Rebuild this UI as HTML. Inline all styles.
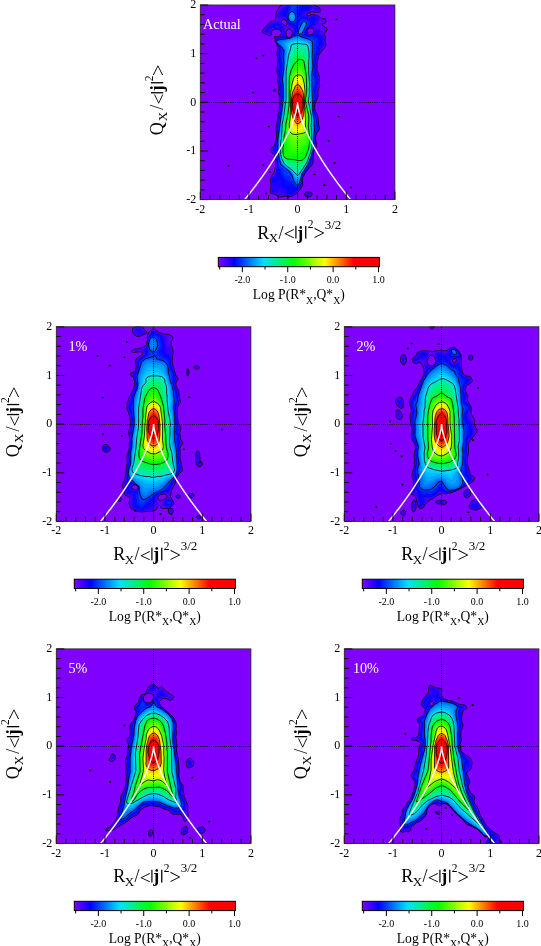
<!DOCTYPE html>
<html><head><meta charset="utf-8"><style>
html,body{margin:0;padding:0;background:#fff;}
svg{display:block;will-change:transform;}
text{font-family:"Liberation Serif", serif;fill:#000;}
.tl{font-size:12px;}
.pl{font-size:14.2px;fill:#fff;}
.al{font-size:18px;}
.sub{font-size:13px;}
.sup{font-size:11.5px;}
.sup2{font-size:13px;}
.sub3{font-size:9.8px;}
.sans{font-family:"Liberation Sans",sans-serif;}
.cl{font-size:10px;}
.ct{font-size:13.6px;}
</style></head><body>
<svg width="541" height="946" viewBox="0 0 541 946">
<defs><linearGradient id="cmap" x1="0" x2="1" y1="0" y2="0">
<stop offset="0" stop-color="#8000ff"/><stop offset="0.10" stop-color="#0000ff"/><stop offset="0.28" stop-color="#00e0ff"/>
<stop offset="0.47" stop-color="#00ff00"/><stop offset="0.66" stop-color="#ffff00"/><stop offset="0.84" stop-color="#ff0000"/><stop offset="1" stop-color="#ff0000"/>
</linearGradient></defs>
<clipPath id="c0"><rect x="200.3" y="5.0" width="194.6" height="194.6"/></clipPath>
<rect x="200.3" y="5.0" width="194.6" height="194.6" fill="#8000ff"/>
<g clip-path="url(#c0)">
<defs><path id="p0_0" d="M281 197l3.8-1 3.7 .8 5.4-1.3 4.5-3.8 3.9-5.4 .5-1.6-.4-5.3 .3-1.6 2.1-4.3 3.5-4.6 3.6-3.5 1.1-2.1 .6-11.2 2.3-4.8 .7-2.7-1.1-4.8 .1-3.8 .9-2.7 3.2-4.2-1.1-4.9-.8-9.1-2-2.5-1.3-4.9 .2-2.7 1-3.2 1.5-2.7 .9-3.2-.2-5.4 2-4.8-.8-2.1 .5-5.4-.7-3.2-1.9-4.3 .1-7.5 1.5-8 7.2-9.1 .1-2.1-.9-3.2 .6-3.3-1.5-4.2 2.5-2.2 .5-1.6-1.1-2.1-3.2-1.3-.8-1.9 .2-.7 2.2 .2 1.3-1.7 .4-1.6-.8-1.6-3.6-.5-3.2-2.3-5.4-1.7-2.1 .2-2.2 1.4-1.6-.2-.3-.6 0-1.1 .9-.9 3.2-.5 1-1.5 1.7 1.1 3.2 .2 1.6-.2 2.1-.9 .1-.5-1.1-2.7-1.7-1.7-4.2-1-3.3-4.2-1.6-4-2-1.9-16.4 0-4 6.4-1.6 1.5-3.8 1.8-3.7 5.1-1.5 4.4 .1 4.9-1.3 1-2.7 .8-2 1.4-4.4 4-3.3 4.5 .6 1.7 5.9 2.9 2.9-.8-.6-3.2 1.4-1.5 2.2-.7 2.7-.4 2.1 .7 1.5 1.3 .5 1.6-.3 1.6-1.7 2-2.1 .5-2.9-.3-.2 .5 1.1 2.7-.4 1.6 2.1 3.2 1.1 3.2-1.3 5.4 1.2 6.4-1.2 11.8 1.4 4.8-1 4.3 1.7 5.3 .1 3.2-.8 3.2 1.6 4.3 .1 5.9-.7 9.1-1.3 3.7 0 3.3-2.1 9.6 .7 5.9 0 4.3-2.2 8-2.9 2-.9 1.7 1.3 2.7 2.5 1.6 1.7 6.4-.8 7-1.2 5.3-2.6 3-.7 2.4-.3 2.7 .7 4.8-.9 4.3 .5 2.6 .7 .9 3.7 .7 3.8 2.5zM288.3 37.5l-1.1-.5-.7-1.1-.5-3.2 1.1-3.2 1.4-.6 2.7 .9 .8 1.3 .3 1.6-.9 3.8-1.3 .9zM309.9 34.9l-2-1.1-.7-1.5 0-1.7 1.6-2.5 3.2-.2 1.9 1.6-.2 3-1.1 1.7zM284.1 25.2l-2-1.6-.8-1.6 .6-1.6 1.3-1 2.6 .6 1.4 2.6-.9 2.6-1 .4zM307.8 197.1l3.2-.6 1.4-2.2-1.1-1.6-1.9-1-2.7 .1-2.6 2 1.1 2.2zM274.6 91.4l1.5-.9-1-1.2-1 .1-.6 .6 0 .6z"/><path id="p0_1" d="M281 196.5l3.8-1.2 3.7 1.2 4.9-1.1 4.7-4 3.7-5.1 .6-3.7-.1-4.3 .8-2.1 1.5-2.9 6.9-7.9 1.2-2.1 .7-11.2 2.9-7.5-1-4.8 .2-4.3 .7-2.2 3-3.7 .3-1.1-1.3-4.3-.6-8.5-1.8-2.4-1.5-5.6 .2-2.7 2.6-6.4 .6-2.7-.5-5.4 2.1-4.8-.7-2.1 .5-5.4-.6-3.2-1.9-4.8 .2-7 1.5-8 6.7-8.6 .5-2.6-.9-3.2 .6-2.2-.1-1.6-1.8-3.2-.5-3.1-1.6-1.7-.4-3.2-1.8-2.6-.2-1.2 .7-1 1.6-1.1 1.1 .6 1.6 2.1 .6 0 1.1-1.1 .1-1.1-.7-1.2-3.2-.3-3.7-2.8-4.3-1.3-2.2 .1-2.1 1.5-2.2-.3-.6-.5-.4-1.1 .6-1 1-1 2.1-.1 1.1-.5 .8-2.2 .8-.7 1 2.3 2.7 .7 2.2-.1 1.5-1.1 0-.5-.7-2.2-1.4-1.3-4.2-.7-3.5-4.4-1.9-4.8-2.6-1.6-14.5 0-.8 3.2-2.4 3.2-3.2 3.1-3.3 .8-1.2 3-2.3 1.7-.7 1-.8 3.2 .9 4.3-.4 1.1-2.9 1.6-3.8 1.2-4.5 4.1-2.9 4.9 1.5 1.5 2.7 1.1 2.7 .3 .5-.8 0-2.1 1.1-1.5 1.6-.7 4.3-.6 2.8 1.2 1.1 1 .5 1.6-.5 2.2-1.3 1.4-2.1 .7-3.2 0 .8 2.7-.4 1.6 3 4.8 .3 1.6-1.2 5.9 1.1 5.9-1.1 11.8 1.4 4.8-.9 4.3 1.6 5.3 .2 3.2-.8 3.2 1.4 4.3 .2 5.9-.9 9.6-3.3 16.1 .8 6.4-.2 3.8-2 8.2-2.7 2-.8 1.5 .8 1.7 2.7 2.4 1.7 6.6-.5 7.5-1.2 5.2-1.1 2-1.6 .9-.8 2.1-.3 2.7 .7 5.3-.9 3.8 .2 2.1 .7 1.1 4.2 .7 3.2 2.1zM287.7 37.5l-1.5-1.6-.6-2.6 .5-4.3 1.3-1.1 3.8 .6 1 .8 .5 1.3-.8 5.3-1.8 1.6zM309.2 34.9l-1.4-.9-.7-1.3 .1-2.6 1.6-2.3 3.2-.2 2.3 1.9-.5 3.2-1.2 1.7-1.6 .6zM284.7 26.3l-3.1-2.7-1-1.6 .3-1.6 1.7-1.6 3.2 .8 1.6 2.4-.5 4.3-1.1 .5zM307.2 196.6l1.6 .2 2.2-.7 1.1-2.3-1.1-1.1-1.6-.8-2.2 0-1.6 .7-1.2 1.2 0 .5 1.2 1.7zM274.1 90.7l1 .2 .5-.9-1.2-.5-.7 .5zM324.4 31.2l1 0 1.1-1.1-.2-1.1-.9-.7-2.1 .1-.5 .6-.1 .5 1.1 .5z"/><path id="p0_2" d="M308.3 196.5l2.7-.9 .6-1.8-2.2-1.5-2.2 0-1.7 1-.5 1 1.2 1.6zM288 196l5.7-1.1 5.5-5.3 2.4-3.8 .5-7.5 2-4.8 6.8-8.1 1.3-2.1 1.1-11.2 2.7-7.5-1-4.8 .2-4.3 .6-2.2 3-3.7 .4-1.1-1.2-3.7-.8-9.1-1.6-2.2-1.6-5.8 .2-2.7 2.7-7 .4-2.7-.8-4.2 1.6-4.9-.1-2.6 .8-4.3-.7-4.3-1.8-4.8 .1-7 1.6-8 4.1-6.4 2.7-2.7 .2-2.7-1-2.6 .7-3.3-1.9-3.2-2.2-1.3-.5-2.9-1.6-2.4-3.8 2.6-.7 2.4-1.4 1.9-3.2 .5-2-1.3-.5-3.2 1-2.2 1.5-.9 4.3 0 .5-.3 3.2-2.9 .2-2.8 2.6-2.7-2.1-2.1-4.4-1.5-1.1 0-1.6 1.1-2.2 .6-2.1-.5-1.4-1.3 0-1.1 1.9-1.9 3.2-.5 1-2.4 1.8-2.2-1.7-3.2-1.9-2.1-1.3-4.3-1.6-1.3-2.1-.6-3.3 .6-2.1 1.3-.7-.5-.2-1.6-3.8 0-.4 1-7.7 8.7-3.5 2-1.9 3.3-2.7 1-.7 1.1-.3 2.1 1.6 4.3 3.7-.9 3.2 1.1 2 3 .7 4.6 4.5 1.8 .3 3.8-1.3 3.7-.8 1.2-1.1 .5-1.6 .1-1.8-.7-.8-1.1-1-3.2 0-4.8-2.8-3.2-4.3-3.7-7.5 2.6-3.9 3.2-2.5 4.9 .8 1 2.9 1 1-.4 1.5-2.7 1.3-1.3 1-.4 4.9-.2 3.1 1.4 1.1 1 .6 1.6-.5 2.2-1.7 1.9-4.9 .7 .6 2.2-.5 1.6 3.1 4.8 .4 1.6-1.2 5.9 1.1 5.9-.5 4.3 .3 3.7-.8 4.3 1.3 4.3-.8 4.3 1.5 5.3 .2 3.2-.6 3.2 1.2 4.3 .2 5.4-.9 10.1-3.2 16.1 .7 6.4-.3 3.8-2 8.5-2.5 2.2-.4 1 2.9 3.8 1.9 6.9-.4 7.5-1.2 5.4-1 2.3-1.9 .9-.8 2.1-.3 2.2 1 5.3-1.1 3.8 .4 2.5 1 .8 3.8-.1 2.1 .9 1.4 1.2 1.3 .3 3.8-1.3zM274.6 90.6l.5-.7-1.1 .1zM316.3 11.4l1.6 .1 1.2-.7-.1-2.4-1.6-1.3-3.3-.1-.8 1.1 .4 2.1z"/><path id="p0_3" d="M287.4 195.1l1.1 .2 5.1-1 5.1-5 2.5-3.5 .7-3.8 0-3.7 .9-2.7 1.2-2.5 6.2-7.7 1.5-2.6 1.4-10.7 2.5-7.5-.8-4.8 .2-4.9 .6-2.1 3.2-4.3-1.1-3.7-.9-8.6-1.5-2.7-1.6-5.8 .2-2.7 2.7-7 0-2.7-.8-4.2 1.4-4.3 .3-4.8 .8-2.7-.6-3.8-2-5.3 .2-7.5 1.6-7.5 3-4.3 .6-3.6 2.7-1.1 .6-.6 0-2.2-1.5-2.6 1.3-3.3-1.2-1.6-2.7-1-1.2-1.1 0-3.2-.6-.8-3.8 1.8-1.3 2.7-1.9 1-2.1 0-1.6-.6-.7-.9-.3-3.2 .8-2.2 1.2-1 2.8-.6 4-3.2 .8-2.6 2.4-2.2 0-.5-.9-1.1-4.2-1.6-1.1 .2-1.6 1.3-2.2 .6-6.4-2.2-.1-1.5 .7-1 3.2-1.8 3.3-.4 2.8-4.3-1.3-2.4-2-1.9-.1-2.6-.6-1.7-1.1-1.2-1.6-.6-3.3 .8-2 3.1-1.1 0-3.7-1.4-2.7 .7-3.8 3.6-2.6 3.5-2.3 1.7-2 3.5-3.4 1.3 0 1.6 1.2 1.6 4.9 1.4 1.6 1.4 1.8 3.1 .4 2.2 1 1.7 4.3 1.7 .4 1.4-.1 2.7-2.3 4.8-1.3 1.1-3.6-.1-1.7-1.6-1.6-2.9-3.2 4-4.8 1 .1 1.7-.6 1.6 2.9 4.3 .8 2.1-.1 2.7-1 3.2 .9 3.7-.2 5.9 .8 3.8-1.4 4.8 1.4 4.3-.9 4.3 .5 3 1 2.3-.3 6.4 1.1 4.8 .2 4.9-.9 5.3-.2 5.4-3.1 15.7 .7 7.8-2.3 10.7-2.2 3.2 1.2 1.2 1.7 4.2 1.2 5.3-.1 6.5-1.1 6.9-1.2 2.2-2.2 1.1-.6 1.5-.2 2.7 1.5 4.8-1.7 4.3 .5 2 1.1 .4 2.7-1.5 1.7 .2 .4-2.7 1.1-.8 1.6 0 1.6 1.5 .5 2.5 2.2 .7zM307.2 194.9l1.1 .3 1.8-.9-.7-.7-1.6-.2-1.3 .9zM266 32.2l1.6-.1 3.2-3.5 1.6-.6 2.7 .8 2.2-.2 2.1 .6 3.8 2.8 .4-.9-.3-3.2-2.3-3.4-3.7-2.3-1.6 .1-8.3 4.5-2.4 4.3 0 .6zM316.9 10.4l1.2-.1 .2-1.1-.4-.7-2.6-.2-1 .3 1 1.4z"/><path id="p0_4" d="M288 194.4l5-.6 1.8-2.7 3.3-2.3 2.7-3.2 1-7.8 .7-2.2 1.3-2.7 4.2-5.3 3-5.4 1.9-10.1 2.4-7.5-.8-4.8 .5-6.5 3.4-4.8-1.1-3.7-1-8.6-1.4-2.7-1.5-5.8 .2-2.7 2.5-7-1-7.5 1.4-4.3 .3-4.2 .8-2.7-2.5-8.6 .1-8.5 1.6-7 2.9-4.3-.7-3.2 .2-1.1 .9-1.3 2.3-1.9-1-3.2 1.3-2.1-.5-.8-3.7-2.4-2.7-1.1-1.1 .1-1.6 1.1-2.1 .6-3.2-.4-1.4-.9 .2-4.2 .7-1.7 1.5-1.2 2.2-.9 3.3-3.2 1-3.7 .9-1.1-2.5-2-2.7 1.9-1.6 .4-8.1-1.9-.6-3.2 1.2-2.6 1.1-.5 5.8-.9 1.6-1.6 .6-1.4-.2-1.1-2.6-2.6 .2-3.2-.5-1.7-1.2-1-1.1-.3-2.4 .8-1.3 3.4-1.1 .8-5.3-1.6-1.6 .1-1.7 .9-3.2 2.9-3 4.7-.8 2.2-2.9 3.2 .5 1.1 3 1.9 4.3 7.8 4.8 2.1 .4 2.1-.5 3.7-2.7 3.8-1.5 1.2-3.7 0-3.2-2.3-3.2 2.2-4.3 1-.9 2.7 4 6.4 0 2.7-1.1 3.2 1.1 3.7-.1 5.4 1 4.8-1.7 4.3 1.6 4.8-1.1 3.2 0 2.2 1.4 3.7-.3 6.4 1.1 4.8 .1 4.3-.9 5.9-.2 5.4-2 9.1-1 6.9 .5 7.5-2.2 10.7-1 2.7 2.7 10.7 .1 13.4-1.6 3-3.3 1.8-.5 2.7 .5 1.3 1.7 .9 1.6-2.4 2.1-.4 1.6-1.3 1.5 .3 .5 1.6-.9 3.2 .2 1.6 1.9 1.5 2.7 .5 .8 .7 .5 4.2zM272.4 192.3l1-.6 .1-2.2-.5-.4-1.1 1zM280.5 29.5l.7 0 .6-2.7-.4-1-1.3-1.1-3.9-1.6-1.4 .5-1.7 1.6 0 1.6 2 1.6 2.7 .1z"/><path id="p0_5" d="M290.1 192.9l2-.2 .2-1-.6-.8-1.1-.5-1 .3-.5 1.5zM294.4 188l1.6 .3 1.6-.3 2.7-2.7 1.9-9.7 1.3-2.8 4-5.2 2.7-5.4 4.9-18.2-.9-4.2 .5-7.1 3.2-4.2-1.1-3.7-.4-6.4-2.9-8.1-.4-3.2 .3-2.7 2-6.4-1.1-7.5 1.5-4.7 .9-6.5-2-4.3-.3-13.9 1.5-6.4 2.5-3.8-1-3.7 2.5-5.4-.6-3.7-1.4-1.9-5.3-.4-5.9 .4-1.6-.9-.3-1 1.4-2.6 .6-3.3 3.1-2.3 3.1-3.5 .1-3.2-.5-.3-3.2 .7-4.3-1.6-4.8-.2-1.1-4.5 2.1-9.1-3.7-2.6-2.7-.6-2.7 .9-2.6 2.3-3.5 8.5-.1 1.6 1.5 4.3 2.6 4.3 2.7 1.7 3.2 .5 .2 .5 .2 2.6-.9 4.9-4.9 4.5-3.2 .2-4.2-1.1-2.7 1.3-3.8 1-1.2 2.1 4.2 5.9 .7 2.7-1.6 3.7 1.3 3.7 .2 5.4 .9 4.8-1.6 4.3 1.2 4.8-1.2 5.4 1.6 3.2-.3 7.5 1 6.4-1.1 8-.2 5.4-1.9 9.1-1 6.9 .2 7.5-2.4 12.3 .2 3.2 1.7 6.5 .2 6.4 1.5 7.5 1.7 2.6 .3 2.2 2.8 4.8 .6 2.7 .8 .5 2.7 .4 2.1 1.9zM273 181.1l1.7-1.2 .4-1.1-1-.4-1.1 .4-.4 1.6zM278.3 28.6l2-.2 .4-1.6-.4-1-3-1.5-2.2 .4-.8 1.1 .4 1.6 1 .7zM304.6 2.9l1.6 .2 1.3-3 .1-1.6-1-1.1-1.8 0-1.3 1.1-.1 3.2z"/><path id="p0_6" d="M296.5 186.9l1.6-.2 1.6-1.8 2.8-10.9 4.7-6.9 4-9.1 3.5-14-.8-4.2 .6-7.5 .8-2 1.7-2.3-.9-2.7-.2-6.4-2.8-8.4-.3-3.4 1.7-9.1-1-8 1.5-4.8 .5-5.4-2.1-4.8 .6-7.5-.5-5.9 .7-5.9 2.2-5.3-.3-3.8 2-5.8-.7-1.9-1.6-1-4.8-1.4-4.8 .6-2.2-1.2-.5-1 2.5-6.5 3.3-3.2 1.2-2.6 0-.6-3.8-2.3-2.7-.9-2.7 .4-1.3 1.2-2.1 5.4-1.3 7.5-.6 .9-3.2 1.8-2.2 1.9-8 0-5.9 1.8-1.1 1.6 1.7 2.6 3.1 3.3 1.4 3.2-1.5 3.7 2.1 14-.6 3.2-.3 5.8-.9 4.9 1.5 3.2-.2 8 .6 6.4-1.2 7-.3 6.6-1.6 7.3-1.1 8-.1 7.5-1.8 12.3 .3 3.8 1.4 5.9 .1 6.9 .6 2.2 6 11.4zM277.3 27.9l1.6 .1 .2-1.2-1.1-1-1.8-.2-.6 1.2zM293.3 23.2l1.1-.2 2.4-2.6 1.3-3.1-1.1-4.4 1.7-3.3 .1-4.2-1.2-2-2.1-.9-3.3 .9-2.1 1.8-2.7 10.4 .3 2.7 1.4 2.7 1.5 1.5zM305.1 .8l1.1-.4 .5-.8 0-.9-.5-.5-1.1 0-.7 .8 0 1.1z"/><path id="p0_7" d="M297.1 186.1l1-.1 1.4-1.8 2.9-10.7 5.2-8.1 3.3-7.4 3-11.3 .3-2.7-.5-4.2 .5-7.5 1.5-4.8-.6-2.2 .2-5.9-1.5-4.3-1.2-7.4 .9-8.6-.9-9.1 1.3-5.9 .1-3.7-.2-1.6-1.6-3.8 1.2-8-.5-4.8 0-8.1 1.1-3.7-.3-2.7 .6-2.7 .2-3.7-3-3-6.4-.7-1.4-.6-1.7-1.6 3.1-7 2.7-3.7-.1-2.1-.5-1.1-3.2-1.8-2.1 .5-1.1 1.3-.5 2.7-1.3 2.6-1.4 4.9 0 2.7-4.8 1.9-2.2 1.7-8 .6-5.9 1.5-.9 1.2 2 3 3.2 2.9 2.1 3.7-1.3 4.3 1.1 7 .4 6.4-1.4 12.8 .9 3.2 .1 15-1.2 7-.4 6.9-1.8 10.2-.7 9.1-1.4 10.7-.1 4.8 1.9 13.4-.2 3.2 .9 1.9 2.3 1.3 2 2.2-.4 2.6 .4 1.2 2.2 1.7 3.7 1 1.8 3.6 1.4 1.4 1.5 2.4zM291.2 22.2l2.7-.3 1.5-1.5 .9-2.1 0-2.7-2.5-5.3 .1-1.1 2.3-1.6 .6-1.1-.3-1.3-1-.6-2.2 .1-1.7 .7-.5 1.1 .2 2.7-2.6 4.3-.8 2.1 .4 3.2 1.3 2.3z"/><path id="p0_8" d="M297.1 185.4l1 0 1.2-1.8 2.8-10.1 5.5-8.6 3.6-8.5 2.4-9.1-.1-7.5 1.1-12.3-.4-1.7 .1-5.8-.6-1.9-1.3-9.4 .4-9.1-.4-1.6-.6-10.7 .2-5.9-.5-1 .5-2.2-.4-3.2 1.4-8-.9-10.7 .6-7-.2-7.5-2.6-2.3-4.8-1.4-7-2.7-4.8 .9-2.7 1.9-11.2 1.5-2.7 .9-.6 .7 1.7 2.6 3.3 2.7 2.5 3.3 .4 1-.9 5.4 .8 5.9-.1 6.4-1.3 10.7 .1 3.2 .6 2.1 .1 15-5.2 38.6-.4 9.6 .5 4.3 1.1 6.9 1.6 5.9 2.3 1.4 6 5 3 4.4 1.3 4.7 1.8 3.2zM299.7 34.6l1.6-.6 .8-.7 4.3-8.6 0-2.1-1.8-1.6-1.1 0-1.2 1-3.6 8.1-.5 3.2zM290.6 21.7l2.2 .2 1-.4 1.4-1.6 .7-2.2-.7-3.7-1.3-1.6-1.7-1-1.6 .6-1.5 1.5-.9 2.6 .1 2.2 1.1 2.1z"/><path id="p0_9" d="M297.6 184.9l1.2-1.3 1.5-3.7 1.5-6.4 5.5-8.6 3.2-6.9 1.5-5.2 1.4-6.1-.1-6.9 .8-12.3-.5-1.7 .2-5.3-1.6-11.8 .2-9.1-.5-1.6-.4-16-.5-1.6 .5-2.7-.1-3.2 1.2-7.5-.8-10.2 0-5.9 .5-1.6-.2-6.9-1.2-1.6-1.5-1-11.8-3.9-4.3 .8-2.7 1.7-10.7 2-2.9 1.4 4.4 4.3 2.4 3.2 .7 1.1 .3 2.1-.8 16.1-1.1 10.2 0 3.7 .6 1.6 0 15.5-4.3 33.7-.9 4.9-.3 9.1 .6 4.8 1.1 6.9 2.2 5.4 7.1 5.9 2.5 2.6 1.3 2.4 .3 2.5 1 2.6 1.9 3.2zM299.7 34l1.8-.7 3.8-7 .7-3.2-.4-.8-1-.6-1.1 .3-.9 1.1-3.5 7-.7 2.6zM291.2 21.6l1.6 0 1.1-.6 1-1.1 .7-2.2-.7-3.7-2.7-2.2-1.6 .5-1.1 1.2-1.1 2.6 0 1.6 .6 1.5 1.1 1.8z"/><path id="p0_10" d="M297.1 183.4l1-.3 .9-1.6 1.4-3.2 1.2-4.8 5.5-8.6 1.5-3.2 3.3-9.1 1.3-5.3 .5-19.8-.4-1.7 .1-5.3-1.5-12.3 .1-8.6-.5-1.6-.3-16-.5-1.6 1.5-14-.7-9.6 .4-7.5-.4-6.8-1.1-1.4-1.5-.9-11.3-3.7-4.3 .8-2.1 1.1-8 2.3-3.1 1.7 4.7 7.4 .4 2.7-.9 16.1-1.1 10.2 .5 5.3 0 15.5-2.8 20.4-1.4 13.3-1 4.9-.2 5.8 1.1 11.8 .6 3.2 1.5 3.8 .9 1.6 2.4 2.3 4 3 2.9 2.9 1.4 2.5 1.4 4.8zM299.2 33.3l1.1 .3 1-.8 3.6-6.5 .7-2.9-1-1.2-1.5 .9-3.4 6.3-1 2.8zM290.6 21l2.7 .1 1.2-1.2 .7-2.2 0-1.6-.7-2.1-2.3-1.7-1.6 .5-1 1.1-.8 2.2 .1 2.2z"/><path id="p0_11" d="M296.5 181l1.1 .4 2.3-3.1 1.4-4.8 5.5-8.6 3.2-6.9 1.5-4.9 1.5-6.4 .4-18.7-.4-2.2 .1-5.3-1.5-12.3-.6-25.7-.6-2.1 1.3-14-.6-22.4-.6-1.6-1.7-1.3-11.7-3.7-8.1 2.4-5.3 2.2-.9 .9 2.6 6.4 .3 2.7-1.1 17.1-1 9.1 .5 5.9 0 14.5-1.8 15.5-1.2 5.9-1.3 13.3-.9 4.9-.3 5.8 1 11.8 .7 3.2 1.5 3.8 3 3.5 4.2 3.2 3 2.9 1.5 2.7 .7 2.7zM299.7 33l1.1-.3 1.1-1.4 2.7-5.4 .6-2.3-.6-.8-1.1 .6-3.2 5.9-1.1 2.9zM291.2 20.7l2.1-.3 .8-1 .7-2.2-.9-3.2-1.7-1.1-1 .2-1.1 .9-.9 2.7 .4 1.7z"/><path id="p0_12" d="M296.5 179.5l1.1 .1 1.8-1.8 2.2-5.4 6.2-10 3.7-9.8 1.3-5.9-.1-13.9 .3-4.8-.3-2.2 .1-5.3-1.7-14.5-.4-23.5-.5-2.1 .9-14.5-.5-20.9-.8-2.1-2.6-1.7-10.1-2.7-7.7 2.3-4.1 2.1-.7 1.1 1.7 5.9-1.4 16 .1 3.2-1 9.1 .4 5.9 .1 14.5-1.9 15.5-1.2 5.9-2.5 24 1 11.8 .6 2.9 1.6 4 2.7 3.3 7.4 6.2 2.5 5zM300.8 31.1l2.3-4.8-2.3 4zM291.2 19.4l.5 .4 1.1-.3 1-2.3-.5-2.1-1.1-1.1-1.2 .5-.8 2.2z"/><path id="p0_13" d="M296.5 178l1.1 .1 1.6-1.3 1.7-3.9 6.7-10.7 3.6-9.6 1.3-5.3 .2-2.7-.5-11.8 .3-11.8-.5-6.4-1.4-8.6-.4-8 .2-15.5-.5-2.1 .3-3.3-.3-5.8 .7-12.3-.7-13.4-.9-2.2-2.3-1.4-9.6-2.3-7 1.9-2.9 1.8-.8 1.1 1 4.3-2.9 28.9 .4 20.9-2 15.5-1.2 6.4-2.4 23.5 1 11.8 1 4.3 1.5 3.2 2.5 2.7 6.9 5.7 3.3 5.3z"/><path id="p0_14" d="M296.5 176.8l1.1 .1 1.2-.7 7.4-11.8 3.2-7 1.6-4.8 1.3-5.3 .1-2.7-.6-11.8 0-7.5 .4-3.2-.4-7-2.2-13.9 .6-18.2-.5-2.1 0-7.5-.3-1.6 .6-12.8-.2-8.1-.7-5.3-.8-1.6-1.8-1.1-9.4-2-3.8 .7-2.7 1-2.4 2.4 .4 3.2-1.4 6.5-2.2 23 .3 21.4-3.7 25.1-.8 12.3-1 7.5 .5 10.2 .8 4.3 2.1 4.8 2.6 2.7 6.1 4.8z"/><path id="p0_15" d="M296.5 175.8l1.1 .2 1.1-.6 7.2-11 3.2-7 1.7-4.8 1.2-5.3 .2-2.7-.2-9.7-.5-2.1 .2-5.3-.4-1.7 .6-3.2-.3-7.5-2.8-13.9 1.2-15-.6-12.3-.4-2.6 .1-10.7 .4-2.2-.2-7.5-.9-5.3-.6-.9-1.6-.9-9.1-1.7-4.3 .9-2.7 1.7-.4 .9 .1 2.6-2 7-2 16.6-.1 27.3-2.2 16.6-1.6 8.5-.7 13.4-1 6.4 .3 10.2 .9 4.3 2.2 4.8 3.3 3.3 5 3.7z"/><path id="p0_16" d="M297.1 175.3l1-.1 1.1-1.1 6.4-9.7 1.7-3.2 3.2-8.6 1.4-5.9 .1-2.1-.6-17.1-.4-1.7 .6-3.2-.3-7.5-3-13.9 1-6.9 0-6.4 .4-2.2-1.1-15 .1-10.7 .4-1.6-.2-6.9-1-5.4-.7-1-1.6-.8-7.5-.9-4.8 .6-2.1 1-.6 3.8-2.1 6.4-2.4 16.6-.1 27.3-2.2 16.6-1.6 8.5-.7 13.4-1 6.4 .2 10.2 1 4.3 2.3 4.8 3.3 3.2 4.9 3.6z"/><path id="p0_17" d="M297.1 174.6l1 0 .6-.6 4.5-6.4 3.5-5.9 3.7-9.6 1.4-7.5-.6-17.1-.5-1.7 .6-3.2-.2-7.5-3.1-13.3 1.5-16.1-1.1-15.5-.1-10.2 .5-2.1-.5-6.4-1.6-5.6-1.6-.8-7-.9-4.2 .5-2.2 1.1-.3 3-2.4 6.4-1.6 8.6-1 8-.2 5.3 0 22-2.1 16.6-1.7 8.5-.7 14-1 8 .2 7.5 1.1 4.8 2.2 4.6 2.9 2.9 5.1 3.5z"/><path id="p0_18" d="M297.1 173.3l1-.4 4.6-5.3 4-6.7 3.5-8.8 1.4-7.5-.1-7.5-1-11.3 .6-3.2-.2-7.5-3.1-13.3 1.5-16.1-1.3-15.5-.1-10.2 .3-2.7-.9-5.3-1.7-5.1-6.9-1.5-4.3 .6-1.4 1.2-.4 2.1-3 6.4-1.6 8.1-1.5 13.3 0 22-2.1 16.6-1.7 8.5-.7 14-1.1 8 .2 7.5 1 4.3 2.1 4.3 2.7 2.9 5.3 3.5z"/><path id="p0_19" d="M296.5 170.9l1.1 .2 4.4-4 4.2-6.2 3.2-7.2 1.9-9.1 0-7.5-1.1-11.3 .6-3.7-.2-7-3.2-13.3 1.6-16.1-.6-11.2-.7-4.3-.2-12.3-1.4-5.4-1.9-4.3-5-1.2-4.5 1.2-4.8 10.2-1.9 9.1-1.2 9.6 0 22.5-2 16.1-1.8 8.5-.8 14-1 8 .1 7.5 1.9 6.1 2.6 3.6 7 4.2z"/><path id="p0_20" d="M296.5 168.9l1.1 0 3.7-2.9 4.4-5.4 2.9-5.9 2.5-10.1-.1-7.5-1.1-11.8 .6-3.2-.2-6.4-.6-3.8-2.6-10.1 1.4-16.6-2.1-27.3-2.4-5.4-1.8-2.1-3-1.4-3.1 .9-5.2 9.1-3.1 13.3-.6 5.4 .1 21.9-1.9 16.1-1.9 8.5 0 4.3-2 17.7 0 7 1.2 4.8 1 1.7 2.7 3 2.1 1.3 5.3 2z"/><path id="p0_21" d="M296.5 165.6l.6 .4 2.1-.5 2.1-1.3 2.7-2.5 2.7-3.7 1.4-3.3 2.5-8.5 .3-5.4-1.4-15.5 .6-3.2-.3-6.4-.5-3.8-2.7-9.6 1.4-17.1-.3-8.6-1.6-15.5-1-3.7-1.1-1.8-3.2-3.2-2.1-1-1.6 .8-4.9 7.3-3.7 12.8-.7 5.4-.3 26.7-1.6 11.8-1.9 8 0 4.9-2.2 17.6 .1 6.4 1 4.3 1.3 2.1 4.3 3.2 5.9 1.3z"/><path id="p0_22" d="M297.6 163.4l1.6 .1 2.7-1.1 2.1-1.8 2.2-2.8 1.7-3.6 2.4-8.6 .3-5.3-1.6-14.5 .7-3.7-.4-7-3.1-12.8 0-3.2 1-6.4 .3-7.5-.3-8.6-1.5-13.9-.4-2.1-1.3-2.5-4.8-4-3.2 2.1-3.2 5.5-2.9 8-1.1 4.8-.5 3.2-.1 26.7-1.6 11.8-1.9 8-.1 4.9-2 12.3-.4 5.9 0 5.3 .6 3.2 1.8 3.2 3.9 2.4 5.9 .7z"/><path id="p0_23" d="M298.7 161.8l2.6-.4 1.7-.9 2.9-3.1 1.5-3.2 1.8-5.9 .8-3.2 .4-4.8-1.8-14.5 .6-4.2-.2-6.5-3.1-12.3 0-4.8 1.1-5.9-.1-15-1.8-13.9-.5-2.2-1.4-2-2.4-1.4-2.1-.6-2.1 1.4-3.7 5.9-2.4 5.9-1.6 6.9-.2 27.9-1.5 11.2-1.9 8-.2 5.4-1.5 7.5-1 11.2 0 4.3 .6 3.2 1.6 2.6 4.2 1.9 5.9 .4z"/><path id="p0_24" d="M298.1 160.7l3.2-.3 1.7-.7 2.2-2.3 1.5-3.2 2.1-6.3 1.3-7.6-1.8-14.5 .5-4.2-.1-6.5-3.1-12.3 0-4.4 1.1-6.3-.2-15-2.5-15.5-1-1.4-1.7-.7-2.1 0-1.1 .5-4.4 4.8-2.6 5.4-1.8 6.9-.2 27.9-1.6 11.2-1.7 8-.3 5.4-1.6 8-.4 7.5-.5 2.2 0 5.3 .6 3.2 1.2 1.9 2.6 1.3 8.1 .8z"/><path id="p0_25" d="M297.6 159l3.2 .5 1.6-.7 1.6-1.9 5-11.8 .7-4.8-1.7-14.5 .6-4.2-.2-6.5-2.9-11.7 0-5.4 1-5.9-.3-15-2.2-13.3-.7-2.2-1.4-1.1-3.2 1-4.3 3.5-2.9 5.7-2 7-.2 27.3-1.6 11.7-1.6 8.1-.4 5.3-1.5 7.5 0 8-.6 1.7 .6 8 1.1 1.8 2.7 .8 7.5 .1z"/><path id="p0_26" d="M299.7 156.6l1.6 0 1.4-1.3 2.2-5.4 3.3-5.3 .9-5.4-1.3-13.4 .5-4.2-.3-6.5-2.7-11.7 0-4.8 1-6.5-.4-14.4-.7-5.4-2.1-8.5-1.2-2.2-2.7 .8-4.3 3.3-3.6 7.2-1.4 4.8-.4 27.3-4.8 33.2 1 7.4-.2 5.9 .9 3.9 2.6 .6 7.5-.3z"/><path id="p0_27" d="M293.3 153.2l6.4 .2 1.6-.8 1.6-3.2 4.1-5.4 1-4.8-.2-2.7 .5-2.6-.8-8.6 .5-4.3-.2-4.6-.9-6.1-1.7-6.9-.1-4.8 1-7-.5-13.4-2-8.5-1.9-5.4-.9-.8-2.7 1.4-3.2 3.2-3.7 7-1 3.7-.5 26.2-1.3 11.7-1.7 8.1-1.1 13.4 3.5 12.3 1.5 2.1z"/><path id="p0_28" d="M294.9 150l3.2-.2 7-6.1 2.7-11.4-.7-7 .3-8-2.4-13.9 0-4.8 .8-7-.7-13.4-1.1-4.8-1.3-3.2-1.9-3.2-1.1-.7-4.2 3.3-3.7 5.9-1 2.7-.8 13.9-.1 13.4-1.1 11.2-1.6 8.1-.5 6.9 .2 6.5 2.3 5.3 4.1 5.6z"/><path id="p0_29" d="M296 146.2l2.7-2.2 4-2.1 3.9-7.5 .7-2.7-.6-6.4 .2-7.5-2-14.4-.1-4.8 .8-7-.6-10.7-2-7.7-2.1-3-1.7-1.2-1.6 .8-2.1 2-2.9 3.7-1.2 3.3-1.2 13.3-.3 17.7-.7 7.5-1.5 7.5-.3 6.9 1.7 7 3.1 4.5z"/><path id="p0_30" d="M295.5 141.4l1.6 .1 3.2-1.4 1.6-2.5 3.7-3.3 1.1-2.6-.5-6.4 .2-7.5-1.7-14.4 .7-11.8-.5-8-1-5.4-1.5-3.8-1.1-1.4-2.6-1.2-1.6 .6-2.7 2.3-1.8 2.4-.7 2.2-1.5 12.8-.3 19.6-1.9 13.6-.1 6.4 1.4 3.8 1.7 2.3z"/><path id="p0_31" d="M296 137.1l1.6-.3 3.2-2.1 3.8-1 1.4-1.4 .3-1.1-.5-5.4 .2-7.4-1.4-14.5 .6-12.3-.6-7.5-1.1-5.3-1.1-2.7-1.6-1.7-2.7-.6-2.1 .8-2.1 2.1-1 1.5-.8 3.2-1.5 10.7-.6 25.2-1.2 7.5 0 6.4 1.3 2.6 1.6 1.7z"/><path id="p0_32" d="M296 134.5l8.6-1.5 1.2-1.8 0-3.7-.4-1.7 .2-7.4-.4-2.2-.1-8-.5-2.2-.1-7.4 .5-7-.7-7.5-1.2-5.3-1.2-2.5-1.1-1.1-2.7-.2-2.1 .6-2.2 2.1-1.8 6.4-1.2 8-.6 25.7-1 6.4 .4 7.4 2.6 2.4z"/><path id="p0_33" d="M292.8 133.4l5.9 .1 5.3-1.1 1.3-1.2 .1-12.8-.5-1.7 .1-8.5-.6-4.8 .3-13.9-.7-5.4-1.2-4.8-1.3-2.7-1.2-.9-3.2 0-3.1 2.5-1.3 3.8-1.7 10.1-.3 19.8-1.2 13.4 .5 5.9 1.2 1.3z"/><path id="p0_34" d="M297.1 132.8l4.8-.9 2.4-1.2 .8-11.8-.4-2.2 .2-8.5-.5-2.2 .2-16-1-5.9-1.5-4.8-1.2-2.2-.6-.5-2.2-.3-2.1 .7-1.6 1.7-1.3 3.3-1.2 5.9-.9 6.9-.3 23-.7 7 .7 5.3 .5 1.1 1.6 1.2z"/><path id="p0_35" d="M293.3 131.3l4.3 .3 5-1.5 .6-1 1.5-8.1-.5-31.5-.9-4.9-2-4.8-1.6-2.1-1-.3-1.6 .2-1.1 .7-2.3 3.7-2.3 10.1-.7 32.7 1 4.9z"/><path id="p0_36" d="M294.4 130.2l3.2 .1 3.8-1.2 2.4-6.5 .7-3.7 .2-10.7-.5-2.2-.2-16-1.4-5.4-2.7-4.8-1.2-.9-2.2 .6-2.3 3-1.7 5.9-1.2 6.4-.4 18.7 .8 11.8 1.1 3.8z"/><path id="p0_37" d="M294.4 128.5l3.2 .4 2.4-.9 3-5.3 1-3.8 .6-10.7-.5-2.2-.5-16-1.8-5.4-2.1-2.8-1.6-1.3-2.6 1.8-1.4 2.3-2.2 7.5-.4 2.7-.4 18.7 1.7 11.8z"/><path id="p0_38" d="M296 127l2.7-.2 3.6-4.7 1.2-3.2 .9-9.1-1.1-19.3-2.2-5.3-3-3-2.1 1-1.4 2-2.5 6.9-.8 7 .3 16 1.2 5.7 1.4 4z"/><path id="p0_39" d="M297.6 125.3l2.7-1.8 2.5-4.1 1-4.8 .6-5.9-.5-2.7-.4-12.8-.5-2.7-2.7-5.1-2.7-1.9-2.2 1.7-3 6.9-1 7-.1 8 .1 5.9 1.7 6.4 2.4 4.8 1 .9z"/><path id="p0_40" d="M297.1 123.9l1 0 1.6-1 2.6-3.5 1.3-4.8 .7-5.9-1-15.5-.7-2.7-2.9-4.8-2.1-1.3-1.9 1.3-3 6.4-1.2 6.5-.1 3.7 .1 10.2 .6 2.6 1.9 5.4z"/><path id="p0_41" d="M297.1 123.2l2.2-.6 2.6-3.2 1.6-5 .7-5.7-1.2-15.9-.7-2.3-2.8-4.3-1.9-1.2-1.1 .4-1.3 1.9-2.4 5.2-1.2 6.6-.1 3.2 .2 10.2 .5 2.5 2.3 5.5z"/><path id="p0_42" d="M297.6 122.7l2.1-1.2 2.2-3.1 1.4-4.3 .8-5.9-1.3-15-1.5-3.4-2.6-3.5-1.1-.4-2 2-2.5 4.8-1.4 6.1-.1 4 .1 8.1 .7 3.7 2.5 5.7z"/><path id="p0_43" d="M297.6 121.7l1.6-.7 2.3-3.2 1.5-3.7 .9-5.9-.4-8.9-1.1-6.1-1.6-2.9-3.2-3-1.1 1-3.2 4.7-1.5 6.1-.1 3.7 .5 10.2 3.3 6.9z"/><path id="p0_44" d="M297.1 120.2l1 .3 .6-.3 2.1-2.6 1.9-4.1 1.1-4.8-.4-9.1-1.4-5.9-1.7-2.7-2.7-1.8-2.7 2.5-2.1 3.6-.8 3.8-.2 3.2 .5 10.2 2.6 5.1z"/><path id="p0_45" d="M297.6 119l1.6-.9 1.8-2.4 1.6-3.2 1-4.3-.3-8.6-1.4-4.8-2.2-3-2.1-1-2.1 1.5-2.2 3-1.2 3.8-.2 3.7 .3 7.5 .5 2.2 2.2 3.8z"/><path id="p0_46" d="M297.6 117.4l1.6-.8 2.7-3.6 1.6-4.8-.8-10.2-1.9-3.9-1.6-1.4-1.6-.5-2.1 1.1-2.2 2.9-1 2.9-.2 3.7 0 4.3 .8 4.8 2 3.3z"/><path id="p0_47" d="M297.1 116l1 0 1.1-.7 2.6-2.8 1.4-4.3-.2-8-.5-2.2-2.2-3.6-2.7-1.1-1.1 .1-1.6 1.2-1.6 2.2-.8 2.3-.3 3.2 0 4.8 .6 3.6 1.6 3z"/><path id="p0_48" d="M297.1 115.4l1 0 1.1-.7 2.1-2.3 1.7-4.2-.1-7.5-.5-2.3-2.1-3.4-2.7-1.2-1.1 .2-1.6 1.1-1.6 2.3-.6 1.7-.3 3.7 .6 7.5 1.3 2.7z"/><path id="p0_49" d="M297.1 114.8l1 0 1.1-.6 2-2.3 1.4-4.2 0-7-.7-2.7-2.2-2.9-2.1-.9-2.3 1.1-1.6 2.2-1 5.3 .6 7.2 1.1 2.5z"/><path id="p0_50" d="M297.1 114.3l1.6-.4 2.1-2.5 1.2-3.2 .3-3.2-.2-4.3-.5-2.1-1.9-3-2.1-1-2.1 1.2-1.3 1.7-.6 1.6-.3 3.7 .6 7 1.1 2.7z"/><path id="p0_51" d="M297.1 113.6l1.6-.5 1.6-2.1 1-2.8 .4-3.2-.2-4.3-.6-2.1-1.7-2.7-1.6-.8-1.5 .8-1.5 2.1-.6 4.8 .6 7 .9 2.1z"/><path id="p0_52" d="M297.1 112.6l1 0 1.6-2.1 1-2.8 .3-2.7-.6-5.9-1.2-2.4-1.6-1-1.2 .7-1.3 2.2-.5 4.8 .5 5.9 .9 2.1z"/><path id="p0_53" d="M297.1 111.4l1 0 1.1-1.4 1.1-4.5-.4-5.9-1-2.1-1.3-.9-1.1 .8-.9 1.7-.4 4.3 .5 5.3z"/><path id="p0_54" d="M297.1 109.9l.5 .3 1.1-1 1-3.7-.4-5.3-.6-1.7-1.1-.8-1.4 1.9-.4 3.8 .2 3.2z"/><path id="p0_55" d="M297.6 108.4l1-1.3 .4-2.7-.3-3.7-1.1-1.5-.7 1-.5 3.7 .3 2.7z"/><path id="p0_56" d="M297.6 106l.7-2.1-.7-2.3-.6 2.3z"/></defs><use href="#p0_0" fill="#6300ff"/><use href="#p0_1" fill="#4c00ff"/><use href="#p0_2" fill="#3600ff"/><use href="#p0_3" fill="#1f00ff"/><use href="#p0_4" fill="#0900ff"/><use href="#p0_5" fill="#000eff"/><use href="#p0_6" fill="#0023ff"/><use href="#p0_7" fill="#0039ff"/><use href="#p0_8" fill="#004fff"/><use href="#p0_9" fill="#0065ff"/><use href="#p0_10" fill="#007bff"/><use href="#p0_11" fill="#0091ff"/><use href="#p0_12" fill="#00a7ff"/><use href="#p0_13" fill="#00bdff"/><use href="#p0_14" fill="#00d3ff"/><use href="#p0_15" fill="#00e1f6"/><use href="#p0_16" fill="#00e4de"/><use href="#p0_17" fill="#00e7c6"/><use href="#p0_18" fill="#00eaaf"/><use href="#p0_19" fill="#00ed97"/><use href="#p0_20" fill="#00f080"/><use href="#p0_21" fill="#00f268"/><use href="#p0_22" fill="#00f550"/><use href="#p0_23" fill="#00f839"/><use href="#p0_24" fill="#00fb21"/><use href="#p0_25" fill="#00fe09"/><use href="#p0_26" fill="#0eff00"/><use href="#p0_27" fill="#26ff00"/><use href="#p0_28" fill="#3eff00"/><use href="#p0_29" fill="#55ff00"/><use href="#p0_30" fill="#6dff00"/><use href="#p0_31" fill="#84ff00"/><use href="#p0_32" fill="#9cff00"/><use href="#p0_33" fill="#b4ff00"/><use href="#p0_34" fill="#cbff00"/><use href="#p0_35" fill="#e3ff00"/><use href="#p0_36" fill="#fbff00"/><use href="#p0_37" fill="#ffeb00"/><use href="#p0_38" fill="#ffd200"/><use href="#p0_39" fill="#ffb900"/><use href="#p0_40" fill="#ffa000"/><use href="#p0_41" fill="#ff8700"/><use href="#p0_42" fill="#ff6e00"/><use href="#p0_43" fill="#ff5500"/><use href="#p0_44" fill="#ff3c00"/><use href="#p0_45" fill="#ff2300"/><use href="#p0_46" fill="#ff0a00"/><use href="#p0_47" fill="#ff0000"/><use href="#p0_48" fill="#ff0000"/><use href="#p0_49" fill="#ff0000"/><use href="#p0_50" fill="#ff0000"/><use href="#p0_51" fill="#ff0000"/><use href="#p0_52" fill="#ff0000"/><use href="#p0_53" fill="#ff0000"/><use href="#p0_54" fill="#ff0000"/><use href="#p0_55" fill="#ff0000"/><use href="#p0_56" fill="#ff0000"/><use href="#p0_0" fill="none" stroke="#000" stroke-width="0.8"/><use href="#p0_8" fill="none" stroke="#000" stroke-width="0.8"/><use href="#p0_16" fill="none" stroke="#000" stroke-width="0.8"/><use href="#p0_24" fill="none" stroke="#000" stroke-width="0.8"/><use href="#p0_32" fill="none" stroke="#000" stroke-width="0.8"/><use href="#p0_40" fill="none" stroke="#000" stroke-width="0.8"/><use href="#p0_48" fill="none" stroke="#000" stroke-width="0.8"/><use href="#p0_56" fill="none" stroke="#000" stroke-width="0.8"/>
<ellipse cx="256.5" cy="58.3" rx="1.1" ry="0.9" fill="#000"/><ellipse cx="263.2" cy="55.5" rx="1.1" ry="0.9" fill="#000"/><ellipse cx="253.2" cy="92.7" rx="1.1" ry="0.9" fill="#000"/><ellipse cx="336.5" cy="19.4" rx="1.1" ry="0.9" fill="#000"/><ellipse cx="334.4" cy="163" rx="1.1" ry="0.9" fill="#000"/><ellipse cx="324.2" cy="185" rx="1.1" ry="0.9" fill="#000"/><ellipse cx="351.2" cy="187.4" rx="1.1" ry="0.9" fill="#000"/><ellipse cx="338.7" cy="116.6" rx="1.1" ry="0.9" fill="#000"/><ellipse cx="268.8" cy="126.6" rx="1.1" ry="0.9" fill="#000"/><ellipse cx="328.7" cy="141" rx="1.1" ry="0.9" fill="#000"/><ellipse cx="263.3" cy="165" rx="1.1" ry="0.9" fill="#000"/><ellipse cx="270" cy="172" rx="1.1" ry="0.9" fill="#000"/><ellipse cx="314.3" cy="174.3" rx="1.1" ry="0.9" fill="#000"/><ellipse cx="324.3" cy="184.7" rx="1.1" ry="0.9" fill="#000"/><ellipse cx="266" cy="193.5" rx="1.1" ry="0.9" fill="#000"/><ellipse cx="228.5" cy="166" rx="1.1" ry="0.9" fill="#000"/>
<line x1="200.3" y1="102.50" x2="394.9" y2="102.50" stroke="#000" stroke-width="1" stroke-dasharray="1 1.15"/>
<line x1="297.50" y1="5.0" x2="297.50" y2="199.6" stroke="#000" stroke-width="1" stroke-dasharray="1 1.15"/>
<path d="M236.50,209.33 L237.65,207.98 L238.80,206.62 L239.94,205.27 L241.08,203.91 L242.20,202.56 L243.32,201.20 L244.44,199.85 L245.54,198.49 L246.64,197.14 L247.72,195.78 L248.80,194.43 L249.88,193.07 L250.94,191.72 L252.00,190.36 L253.05,189.01 L254.09,187.65 L255.12,186.30 L256.14,184.94 L257.16,183.59 L258.16,182.23 L259.16,180.88 L260.15,179.52 L261.13,178.17 L262.10,176.81 L263.07,175.46 L264.02,174.10 L264.97,172.75 L265.91,171.40 L266.83,170.04 L267.75,168.69 L268.66,167.33 L269.56,165.98 L270.45,164.62 L271.33,163.27 L272.20,161.91 L273.06,160.56 L273.91,159.20 L274.75,157.85 L275.59,156.49 L276.41,155.14 L277.22,153.78 L278.01,152.43 L278.80,151.07 L279.58,149.72 L280.35,148.36 L281.10,147.01 L281.85,145.65 L282.58,144.30 L283.30,142.94 L284.01,141.59 L284.71,140.23 L285.39,138.88 L286.06,137.53 L286.72,136.17 L287.37,134.82 L288.00,133.46 L288.62,132.11 L289.23,130.75 L289.82,129.40 L290.39,128.04 L290.95,126.69 L291.50,125.33 L292.03,123.98 L292.54,122.62 L293.04,121.27 L293.52,119.91 L293.98,118.56 L294.43,117.20 L294.85,115.85 L295.25,114.49 L295.63,113.14 L295.99,111.78 L296.32,110.43 L296.63,109.07 L296.90,107.72 L297.15,106.36 L297.35,105.01 L297.51,103.65 L297.60,102.30 L297.69,103.65 L297.85,105.01 L298.05,106.36 L298.30,107.72 L298.57,109.07 L298.88,110.43 L299.21,111.78 L299.57,113.14 L299.95,114.49 L300.35,115.85 L300.77,117.20 L301.22,118.56 L301.68,119.91 L302.16,121.27 L302.66,122.62 L303.17,123.98 L303.70,125.33 L304.25,126.69 L304.81,128.04 L305.38,129.40 L305.97,130.75 L306.58,132.11 L307.20,133.46 L307.83,134.82 L308.48,136.17 L309.14,137.53 L309.81,138.88 L310.49,140.23 L311.19,141.59 L311.90,142.94 L312.62,144.30 L313.35,145.65 L314.10,147.01 L314.85,148.36 L315.62,149.72 L316.40,151.07 L317.19,152.43 L317.98,153.78 L318.79,155.14 L319.61,156.49 L320.45,157.85 L321.29,159.20 L322.14,160.56 L323.00,161.91 L323.87,163.27 L324.75,164.62 L325.64,165.98 L326.54,167.33 L327.45,168.69 L328.37,170.04 L329.29,171.40 L330.23,172.75 L331.18,174.10 L332.13,175.46 L333.10,176.81 L334.07,178.17 L335.05,179.52 L336.04,180.88 L337.04,182.23 L338.04,183.59 L339.06,184.94 L340.08,186.30 L341.11,187.65 L342.15,189.01 L343.20,190.36 L344.26,191.72 L345.32,193.07 L346.40,194.43 L347.48,195.78 L348.56,197.14 L349.66,198.49 L350.76,199.85 L351.88,201.20 L353.00,202.56 L354.12,203.91 L355.26,205.27 L356.40,206.62 L357.55,207.98 L358.70,209.33" fill="none" stroke="#fff" stroke-width="1.45" stroke-linejoin="miter"/>
</g>
<path d="M200.30,199.6v-8M200.3,199.60h8M210.03,199.6v-4.5M200.3,189.87h4.5M219.76,199.6v-4.5M200.3,180.14h4.5M229.49,199.6v-4.5M200.3,170.41h4.5M239.22,199.6v-4.5M200.3,160.68h4.5M248.95,199.6v-8M200.3,150.95h8M258.68,199.6v-4.5M200.3,141.22h4.5M268.41,199.6v-4.5M200.3,131.49h4.5M278.14,199.6v-4.5M200.3,121.76h4.5M287.87,199.6v-4.5M200.3,112.03h4.5M297.60,199.6v-8M200.3,102.30h8M307.33,199.6v-4.5M200.3,92.57h4.5M317.06,199.6v-4.5M200.3,82.84h4.5M326.79,199.6v-4.5M200.3,73.11h4.5M336.52,199.6v-4.5M200.3,63.38h4.5M346.25,199.6v-8M200.3,53.65h8M355.98,199.6v-4.5M200.3,43.92h4.5M365.71,199.6v-4.5M200.3,34.19h4.5M375.44,199.6v-4.5M200.3,24.46h4.5M385.17,199.6v-4.5M200.3,14.73h4.5M394.90,199.6v-8M200.3,5.00h8" stroke="#000" stroke-width="1" fill="none"/>
<rect x="200.3" y="5.0" width="194.6" height="194.6" fill="none" stroke="#222" stroke-width="0.85"/>
<text x="200.30" y="212.60" text-anchor="middle" class="tl">-2</text>
<text x="196.20" y="202.80" text-anchor="end" class="tl">-2</text>
<text x="248.95" y="212.60" text-anchor="middle" class="tl">-1</text>
<text x="196.20" y="154.15" text-anchor="end" class="tl">-1</text>
<text x="297.60" y="212.60" text-anchor="middle" class="tl">0</text>
<text x="196.20" y="105.50" text-anchor="end" class="tl">0</text>
<text x="346.25" y="212.60" text-anchor="middle" class="tl">1</text>
<text x="196.20" y="56.85" text-anchor="end" class="tl">1</text>
<text x="394.90" y="212.60" text-anchor="middle" class="tl">2</text>
<text x="196.20" y="8.20" text-anchor="end" class="tl">2</text>
<text x="221.90" y="28.70" text-anchor="middle" class="pl">Actual</text>
<g transform="translate(199.80,200.80)"><text x="57.48" y="37.8" class="al">R</text><text x="69.01" y="41.1" class="sub">X</text><text x="78.8" y="37.8" class="al">/</text><text x="84.0" y="39.6" class="al" style="font-size:19.5px">&lt;</text><rect x="95.5" y="25.1" width="1.2" height="12.7"/><text x="97.34" y="37.8" class="al" font-weight="bold">j</text><rect x="105.3" y="25.1" width="1.3" height="12.7"/><text x="107.89" y="27.0" class="sup">2</text><text x="113.7" y="39.6" class="al" style="font-size:20.5px">&gt;</text><text x="124.88" y="27.8" class="sup2">3/2</text></g>
<g transform="translate(163.20,134.60) rotate(-90)"><text x="-0.74" y="0" class="al">Q</text><text x="13.31" y="3.4" class="sub">X</text><text x="24.8" y="0" class="al">/</text><text x="30.0" y="1.8" class="al" style="font-size:19.5px">&lt;</text><rect x="41.2" y="-12.3" width="1.3" height="12.3"/><text x="43.34" y="0" class="al" font-weight="bold">j</text><rect x="51.2" y="-12.3" width="1.3" height="12.3"/><text x="53.4" y="-10.5" class="sup">2</text><text x="58.5" y="1.8" class="al" style="font-size:20.5px">&gt;</text></g>
<rect x="218.3" y="257.40" width="161.1" height="9.3" fill="url(#cmap)" stroke="#000" stroke-width="1"/>
<path d="M219.66,266.70v2.8M242.35,266.70v5.5M265.04,266.70v2.8M287.73,266.70v5.5M310.42,266.70v2.8M333.11,266.70v5.5M355.80,266.70v2.8M378.49,266.70v5.5" stroke="#000" stroke-width="1"/>
<text x="242.35" y="283.10" text-anchor="middle" class="cl">-2.0</text>
<text x="287.73" y="283.10" text-anchor="middle" class="cl">-1.0</text>
<text x="333.11" y="283.10" text-anchor="middle" class="cl">0.0</text>
<text x="378.49" y="283.10" text-anchor="middle" class="cl">1.0</text>
<text x="298.80" y="299.30" text-anchor="middle" class="ct">Log P(R*<tspan class="sub3" dy="4.2">X</tspan><tspan dy="-4.2">,Q*</tspan><tspan class="sub3" dy="4.2">X</tspan><tspan dy="-4.2">)</tspan></text>
<clipPath id="c1"><rect x="56.3" y="326.8" width="194.6" height="194.6"/></clipPath>
<rect x="56.3" y="326.8" width="194.6" height="194.6" fill="#8000ff"/>
<g clip-path="url(#c1)">
<defs><path id="p1_0" d="M198.6 519.5l1-.5 1.2-1.8-1.2-1.5-1.6-.2-1 .6-.1 1.7zM170.7 514l2.2-1.3 .9-1.9-1.5-2.2-2.8-.5 3.6-3.2 .7-1.6-.4-1.6-3-4.8 1.1-7 3.3-5.9 1.6-6.4 2.4-3.6 3.2-2.8 .6-1.6-2.6-11.8 .2-6.9-.4-2.2 .6-2.5 2.3-1.8 .3-1-2.3-4.3-.8-5.9 1-4.8-.8-2.7-2-2.7-.7-6.9 0-7 .6-3.2 1.3-2.4 1.4-1.3-1.4-4.9-.5-5.8-2.8-5.9-.2-3.2 1.9-2.5 .2-1.3-2.5-4.3-3.2-12.3 .2-5.3 1-3.2-1.1-5.9-1-2.4-.3-3 .3-1.1 1.6-2.1 .1-1.1-.7-1.3-3.2-2-4.8-.5-5.3-1.7-4.9-3.4-1.6 .1-1 .4-3.3 3.6-1 3.8 .2 2.6-.8 5.4-3.7 2.4-4.3 1.3-4.3 .7-2.6 1.4-.3 .6 .8 .9 1.1 .3 6.4-.8 1.6 .3 1.1 .4 .4 1.1-1 1.7-4.7 2.5-1.6 2.2 .6 8-1.3 3.8-.5 .4-3.2 .3-1.1 1.4 .6 1.6 2.7 1.7 1.5 5.8-1.2 5.9-4.1 7.8-2.6 7.2-.1 4.2 2.7 7.5 .9 5.4-.1 5.3-1.7 4.9 1.2 9.1-.7 3.2 .3 4.2-.6 3.3-2 5.3 .6 6.4-.6 1.6-.7 8.6-1.8 8-1.8 3.2-.4 1.6 1.9 5.4 .7 3.5 1.1 1.1 2.6 .8 1.1 1.2 .2 2-.6 4.2 2 4.9 2.2 .9 1.6 1.3 6.4 1.1 10.7-.8 2-.4 2.3-1.4 1.1-2.9 1-.9 1.1-.2 2.1 2.7 1.6 .7 2.7-.6 3.2 .3-.5 .6-.5 2.8 1 1.5zM159.3 500.6l-1.5-2.6 .3-1.7 1.4-1.2 2.7-.9 2.6-.1 1.8 1.2 .3 1.6-.9 1.6-4.2 1.6-1.2 .9zM133.8 489.4l-1.2-.5-.6-1.1 .1-1.6 1.2-.9 1-.5 1.6 .2 2.3 1.7 .2 1.1-.9 1.1-1 .5zM118.8 501.4l1.1 .1 1.2-.9 .1-2.6-.8-.7-1.6 .1-.9 1.6 .1 1.1zM177.1 498.1l1.7 0 1.1-.7 .6-.5-.1-1.1-2.2-1.1-2.1 .8-.6 1.4zM191.6 498l2.1-1.1 .4-1.6-1-1.6-3.1-.2-1.3 1.2 0 1.6zM198 466.5l1.6 .3 1.2-.4 1.1-1.1 .3-1.6-.4-1.4-1.9-2.3 0-4.9-.5-2.6-1.9-1.5-1.1 .7-.5 1.8-.2 7 .7 3.7zM104.4 452l1.6 .2 2.6-.6 1.1-.7 .4-1.1 .1-1.1-.5-1.1-2.4-2.6-1.3-.7-1.6 .3-1.7 2 .1 3.7zM187.8 376.1l.6-.2 .6-2.6-.1-2.5-.5-1.8-.6-.4-.5 .5-.6 3.6 .5 2.7zM195.9 369l2.1 0 1.6-1.1 0-.8-2.1-1.4-2.7 .5-.7 .6 .1 1.1zM136.5 336.4l1.6 .3 2.7-.8 4.9-2.2 1.2-1.1-.4-1.6-2.5-1.7-3.2-4.9-3.3 0-1.6 .8-2.7 2.6-.8 2.1 .6 3.2 1.3 1.6z"/><path id="p1_1" d="M198 519l1.1 .1 1.3-1.3 0-1.1-.8-.7-1.6-.3-.7 .4-.1 1.7zM170.2 513.6l2.1-.6 1.2-1.7-.4-1.6-1.3-1-2.1 .1-1.2 1.5 0 2.1zM140.2 511.4l3.2 .3 8-.9 2.2-1 3.6-4.9 .9-2.1 .2-1.6-1-2.7 .4-2.2 1.8-1.5 2.7-.9 3.7-.1 1.4 1.5 .6 1.6-1.1 1.6-4.4 2.7-.9 3.2 .7 1.6 1 .8 5.4 .9 4.2-2.8 .7-1.1-.1-1.6-4-5.3 .8-2.2 .7-4.8 3.1-4.8 2.2-7.5 2.6-4.1 2.6-2.3 .9-1.6-2.6-11.3 .2-6.9-.3-2.1 .5-3.3 2.1-1.6 .3-1-2.3-3.8-.7-6.9 .9-3.8-.8-2.7-1.6-2.6-.8-7.5-.2-7 .4-2.7 2.6-4.8-1.5-6.9-.1-3.2-2.6-5.4-.5-3.2 .6-1.6 1.4-1.6 .1-1.1-2.3-4.3-2.9-10.1-.4-5.9 .8-4.8-.3-3.3-.7-2.6-1.4-3.1-2.1-.1 .6-2.2-.6-3.7 1.5-2.7-1.6-.9-2.1 .3-1.6-.3-2.7-1.4-3.2-.9-3.7-2.6-1.6-.3-1.1 .1-.8 .6-3.2 4.9-1.4 9.8-3.2 2.5-4.2 1.5-4.9 .6-2.3 1.6 .4 .6 1.4 .2 6.4-1 2.7 .7 .6 1.1-.5 1.6-1.2 1.3-4.3 2.1-1.6 1.8-.2 2.3 .7 5.9-1.5 4.4-2.7 .1-1.7 .9 .1 1.6 3 2.1 1.4 5.9-1 5.9-4.1 8-.7 3.8-1.7 3.2-.4 3.2 2.8 8.5 .8 5.4-.1 5.9-1.7 4.8 1 4.8 .2 3.8-.8 3.2 .2 4.8-2.3 7.5 .5 6.9-.9 3.6-.5 6.6-1.5 8.6-1.8 3.2-.2 1.6 .3 2.1 1.4 2.7 .5 3.2 1 1.1 2.4 .5 1.6 1.6 .2 2.2-.6 4.2 1.6 4.3 4.2 2.5zM133.3 489.4l-1.5-1.1-.1-1.1 .1-1 1.5-1.1 1-.4 1.6 .2 2.5 1.8 0 1.6-1.4 1.2-2.7 .2zM118.8 501.2l1.1 .1 1-.7 .1-2.1-.6-.9-1-.1-1.1 1.1-.3 1zM177.7 498l2.1-.8 .5-.9-.2-.5-1.9-.9-2.1 .8-.3 1.2zM191.1 497.6l1.4-.2 1.4-1.1 0-1-.7-1.3-2.7-.3-1.4 1 0 1.6zM199.1 466.5l1.9-.7 .8-2.1-2.4-3.7 .3-4.9-.6-2.5-1.6-1.3-.9 .6-.6 2.2-.1 5.9 1 4.6 1.1 1.4zM104.9 451.9l3.7-.7 1-.9 .3-1-.7-2-3.2-2.6-2.2 .7-.9 1.7 .2 3.2zM187.8 375.7l.8-1.4 .2-1.6 0-1.6-1-2.2-1 3.8zM195.3 368.5l2.2 .4 1.6-.8 .4-.7-2.6-1.5-2.4 .9 0 1.1zM136.5 335.8l1.6 .5 2.7-.7 4.8-2.2 .8-.8-.3-1.6-2.1-1.1-1.6-2.7-2.2-2.1-1.6-.4-1.6 .3-2.4 1.7-1.2 1.6-.6 2.1 .6 2.2 1 1.6z"/><path id="p1_2" d="M198.6 518.9l1.6-1.7-.8-1.1-1.4 0-.5 .3-.1 1.4zM169.7 513l1 .4 2.2-1.5 0-1.6-1-1.1-1.7-.1-1.1 .7-.5 2.1zM140.8 511.4l3-.1 6-1 2.8-1.1 4.2-6.4 .3-1.6-.6-2.7 .6-2.2 2.4-1.9 5.9-1.3 1 .3 1.6 1.5 1.1-.1 1.1-4.9 3.1-4.8 2.6-7.5 3.4-5.4 2.1-1.6 .6-1.5-1.9-6.5-1-7.5 .5-3.7-.2-4.8 .4-1.1 2.1-1.6 0-.5-2.2-3.8 .1-4.3-.8-2.6 .9-3.8-2.5-6.4-.9-13.4 .5-3.2 2.4-3.7 .2-1.1-1.4-6.4-.2-3.2-2.7-5.4-.5-2.7 2.1-4.8-2-3.7-3.1-10.2-.6-9.1 .5-4.8-.4-2.2-1.1-1.5-2.7 .5-1.1-1.1-.1-9.6-4.7-2.8-3.3-1-3.1-2.2-2.7-.6-1.1 .7-3.2 5-1.2 8.9-3 3.3-2.8 1.5-.1 .5 2.9 1.7 .3 1-.4 1.1-2.1 2.4-3.8 1.9-1.6 1.6-.3 2.1 .6 5.9-1.4 4.3-.4 .6-2.9-.1-1.2 1.1 .3 1.1 2.7 1.4 1.5 6.6-.9 5.9-3.9 8-.7 4.3-1.9 2.7-.4 3.2 2.8 8.5 .7 4.9-.3 8-1.4 3.2 1.2 4.8 0 2.1-.9 4.9 .2 4.8-2.3 7.5 .6 6.4-1 4.3-1.2 12.3-.6 3.2-1.6 3.2 0 3.2 1.3 2.7 .1 2.1 .7 1.4 1 .6 1.9 .2 2.3 2.1 .4 2.7-1.2 3.2 1.5 4.3 3.7 2.6 1.6 0zM132.5 489.4l-1.1-1.1-.1-1.6 .4-1.1 1-.6 1.6-.5 1.6 .4 2.6 1.8 .1 1.6-1.6 1.4-3.2 .2zM168 507.1l1.7-.3 2.1-1.4 1.1-1 .4-1.1-.8-2.1-1.8-2.1-2.1-.8-4.4 2.3-1.1 1.6-.4 2.2 1.1 1.3zM119.4 501.2l1-.5 .2-.6 0-1.6-.7-.7-1.1 .3-.6 1.5zM177.1 497.5l1.7-.1 .9-.5 .1-.9-1.6-.8-1.9 .6-.2 .9zM191.6 497.4l1.6-.8 .5-.9-.9-1.5-2.6 0-.7 .7 0 1.2zM198.6 465.9l1.9-.1 .9-1.6-.2-1-2.3-3.2 .4-4.9-.7-2.6-1.1-.7-.6 .3-.6 2 0 5.9 .8 4.2zM104.9 451.6l1.6 0 1.9-.7 1-1.6-.2-1.5-3.2-2.6-1.6 .3-1.2 1.6 .2 3.2zM187.8 375.2l.8-2.5-.8-3.3-.7 3.3zM195.9 368.4l2.1 0 1.1-1-1.6-1.1-1.1 0-1.5 .5-.2 .6zM133.8 351.4l1.9-.6-1-.6-1.1 .6-.3 .5zM137.5 335.4l3.3-.3 4.6-2 .7-1-.5-1.2-2.9-1-1.9-3.2-2.7-1.1-1.6 .7-1.6 1.5-.9 2.6 .5 2.2z"/><path id="p1_3" d="M198.6 517.9l.7-.7-.7-.5-.5 .5zM170.2 512l1.2-.1 .4-1.2-.5-.5-1.1 .3-.5 .8zM140.8 511l2.7-.2 2.1-1.5 3.7-.1 2.7-1.9 2.6-3.5 .6-1.6 .4-4.2 1.7-2.8 2.2-1.2 5.3-1.4 3.2 .5 2-4.2 2.3-3.1 2.3-6.6 4.5-7.5 1.9-1.6 .3-1-1.8-6.5-.8-7.5 .4-3.7-.2-4.8 .4-1.4 1.5-1.8-1.5-3.2 .1-5.4-1.7-2.6 1.5-3.3-2.1-6.4-1.1-13.4 .6-3.7 2.3-3.2 .3-1.1-1.4-5.9-.2-3.7-.5-1.7-2.4-3.7-.5-2.7 2-4.8-4.8-13.4-.2-5.3-1-4.2-.7-1.2-2.5-1.5-1.1-1.5-1.6-13.6-2.8-3.2-3.6-1.1-2.7-2.1-2.1-.5-1.1 .5-3.7 5.4-1.1 8-3.2 4.8 1.1 2.7-.5 1.6-2.8 3-3.3 1.8-1.5 1.7 0 7.9-1.6 4.3-.5 .5-2.7-.1-1 .7 .5 1.1 1 .5 1.1 0 .4 .5 1.5 7.5-.7 5.4-3.9 8-.6 4.8-2.1 2.8-.5 2.6 2.9 8.5 .7 4.9-.4 8.5-1.2 2.7 .2 2.3 .9 2.5-1.1 7 .1 4.8-2.2 7.5 .7 6.4-1.2 4.8-1.2 15-1.3 3.2 .1 3.8 1.4 5.2 2.1 .4 2.2-.3 1.3 1.1 1.1 4.3-1 4.2 .6 3.2 2.8 2.1 2.1 .3zM132 489.9l-1.5-1.6 .5-2.7 1.2-1 2.7-.2 2.6 1.2 1.1 1.1 .1 1.6-1.7 1.5-3.2 .6zM167 506.1l2.7 .1 2.3-1.3 .9-1.1 .1-1-.7-1.5-2.1-1.9-2.7 0-2.1 1.1-1 1.2-.5 2.7 .9 .8zM119.4 500.4l.6-.8-.1-.8-.5-.1-.5 .9zM177.7 496.9l1.2-.6-1.3-.5-.6 .5zM191.6 496.5l1.1-.7-.1-.5-1-.4-1.1 .3-.1 .6zM198.6 465.5l1.6 0 .7-1.3-.7-1.6-2.2-1.4-.8 1.4 .4 1.6zM197.5 460.5l.5-.6 .6-3.2-.6-2.8-.5-.5-.6 1.1 0 1.7 0 3.2zM105.4 451.4l2.9-1.1 .4-1.6-1.7-2.1-1.6-.9-1.5 .9-.4 1.6 .3 2.1zM196.4 367.9l1.1 0 .3-.5-.9-.5-1 .5zM139.7 334.3l1.6 0 3.7-1.5 .6-.7-.2-.6-4.6-.5-1.6-2.5-1.7-.1-1 1.5 .2 1.6 1.8 2.2z"/><path id="p1_4" d="M140.8 510.4l1.7-.1 2.5-3 3.8-1.6 2.8-1.9 3.9-7.5 1.3-1.5 2.7-1.3 5.3-1.6 2.7-.2 .5-.5 1.6-2.9 1.8-2.1 2.6-7 3-4.3 3.4-6.4-2.1-10.2 .4-6.9-.4-5.4 1.3-2.6-1.1-3.2 .7-4.3-.3-1.1-1.3-1.1-.7-1.6 1.2-3.7-1.5-5.9-1.1-13.4 .5-3.7 2.7-4.3-1.8-5.9 .3-3.2-.5-2.1-2.3-3.3-.7-2.6 .2-2.2 1.6-2.5-.2-1.8-4.6-12.3-.1-5.3-.9-2.9-1.1-1.1-2.2-.9-2.1-3.1-.2-4.9-1.6-9.6-1.5-2.1-3.7-1.1-3.7-2.5-1.1 .4-3.8 4.8-1.3 8.5-2 4.3 .4 3.8-2.1 2.6-5.6 4.3-.6 1.6 0 6.4-1.6 4.3-1 1-2.4 .1-.1 .5 1.4 .3 .8 .8 .2 3.2 1.3 4.3-.3 4.3-.5 2.1-3.4 7.5-.8 5.7-1.8 2.9-.6 2.1 2 4.8 1.3 8.6-.4 7.5-.8 3.2 .6 4.8-1.2 7.5 .1 4.3-2.1 7.5 .8 6.4-1.3 5.3-.9 7.5 0 7-.8 3.2 .6 1.6 1.3 1.5 2.6-3.6 1.7-.7 1.6-.1 2.7 1.1 2.2 1.8-.1 1.9-1.6 1.5-2.3 .9-1.2 3.2 .8 5.9-1.2 4.3 .3 1.6 .9 1 3.2 1.1zM168 505.5l2.2-.1 2.3-1.6-.2-2-2.1-1.9-3.2 .3-1.4 1-.6 1 .1 2.2zM127.9 493.2l2.9-1.1-.3-1.1-2.1-2.1-1.6 1.4-.4 1.2 .4 1.2zM198.6 464.8l1 .3 .6-.3 0-1.1-.6-.8-1-.1-.5 .4zM105.4 450.9l2-.6 .2-1-1.4-2.2-1.3-.5-.6 .5-.2 2.2 .3 1z"/><path id="p1_5" d="M140.2 509.4l1.6 0 2.7-3.3 3.7-2.3 8.1-9.4 11.2-4.3 3.4-4.5 1.9-5.3 3.8-5.4 3-6.4-1.8-10.2 .4-6.9-.5-5.4 .8-2.6-.8-3.8 1.1-3.7-2.1-2.2-.8-1.6 .2-1.6 1.3-2.7-1.3-4.8-1.3-15.5 .7-2.9 2.2-3 .2-1-2-5.4 .3-4.8-2.5-3.8-.7-3.2 .3-2.1 1.3-2.2 0-1.6-3.9-9.6-1.3-9.1-1.4-1.3-3.2-1.1-1.1-2.4-2.1-1.2-.6-.9 .1-1.1 1.4-1.6 .5-1.6-1.9-10.6-1.1-1.2-2.7-.7-3.7-2-1.1 .4-2.6 2.5-1.2 1.9-1 8.1-1.1 3.7 .3 3.8-2.9 3.2-4.3 3.2-1.1 1.6-.7 7.5-2.8 5.9 0 3.2 1.5 5.3-.3 4.3-.4 1.6-2.7 5.4-.8 2.6-.4 5.4-1.9 4.3 1.4 4.8 1.1 8.6-1.1 11.7 .1 4.8-1 7 .1 2.7-2 9.1 .9 5.9-2.1 10.7-.2 3.2 .5 6.4 .6 1.5 3.3-.4 2.1 .4 3.7 2 1.3 1.3 .1 1.6-2.7 3.2-1.5 3.8 0 2.1 .9 3.2-1.3 3.8 .6 1.2 3.2 1.1zM167 504.5l2.7 .3 1.6-.4 1-1-.1-1.2-2-1.7-2.8 .1-1.3 1.1-.4 1.1 .2 1z"/><path id="p1_6" d="M140.8 507.7l5.3-4.3 3.2-3.6 2.7-1.7 2-2.8 1.7-1.5 6.5-2.5 4.2-2.2 1.2-1.9 2.1-1.7 2.3-5.2 4.2-5.4 2.5-6.9-1.2-9.1 .1-7.5-.6-5.4 .5-2.6-.7-3.8 1.4-3.7-2.2-1.6-.9-2.2 .2-2.1 1.2-3.2-.9-3.8-1.4-15.5 .6-3.2 2.1-3.7-2.1-5.9 .5-4.3-2.2-3.8-.8-3.2 1.1-5.9-1-3.7-2.4-4.8-1.7-9.1-1.3-1.1-3.8-1.5-1.6-1.9-2.1-1.1-.7-.8-.2-1.6 .5-1.7 2.4-3.2-1.6-9.1-.9-1.1-4.9-2-3.7 1.6-1.4 2.1-1.3 10.1 .5 5.5-7.9 6.3-.7 1.1-1.1 7.5-2.6 5.9-.5 2.1 1.7 6.4-.3 4.3-3.2 7.5-.7 2.7-.2 5.3-1.4 3.8 1.1 4.8 .7 9.1-2.1 23 .2 2.7-1.9 9.1 .8 3.7 0 3.6-2 7.1-.4 5.4 1.5 5.9 4.6 1.5 3.7 2.4 1.5 1.4 0 1.6-1 2.2-.2 2.1-1.9 3-.1 1.3 1.3 3.2-.5 3.2 3 2.1zM168 503.9l2.9-.1 .8-.5 .1-.7-1.6-1.5-2.2 .1-.9 .5-.4 1.1 .3 .6z"/><path id="p1_7" d="M140.8 503.9l2.1-.2 3.7-3.7 4.9-3.1 2.6-2.7 7.5-3.6 3.4-2.3 3.7-4.3 1.5-2.6 5.1-5.4 1.4-2.7 1.1-4.8-1-12.8 .2-4.3-1.3-11.8 .6-3.2-1.3-1.9-.4-2.9 1-5.4-1.8-18.7 .6-4.3 1.2-2.6-1.7-5.4 .5-4.3-2.6-6.9-.5-9.7-2.3-4.3-1-6.4-2.5-3.7-4.8-1.6-4.5-4.8 .2-1.6 3.1-4.9 .3-1.6-.5-2.1-1.2-2.1-.7-3.3-2-1.6-1.3-.3-3.7 1.4-.8 1.1-.8 2.7-.5 3.2 .2 3.2 1.5 5.9-.1 1.4-1.9 1.8-3.5 1.7-3.2 2.5-.9 1.7-2.2 9.1-2 4.8 0 1.6 1.4 6.4-1.1 5.4-2.5 5.3-.5 2.1-.3 5.9-.8 3.8 1.4 12.3-.5 9.1-1.6 10.1-.2 8.1-1.4 8.5 .3 8.1-1.9 6.9-.5 4.8 1 3.2 1.1 1.7 5.3 4.2 2.7 1.5 1 1.2-.5 3.2 .4 2.2-.3 2.1-1 2.7 1.5 2.4-.2 2.9z"/><path id="p1_8" d="M142.9 499.7l2.1-.3 2.2-1.2 8-5.4 5.4-2.5 3.2-2.4 5.9-6.7 5.4-5.2 1.3-2.7 .8-3.7-.6-17.7-1.9-11.2-.4-8.6 .2-4.4 .5-2-1.1-16.6-.4-1.6 .8-7.5-1-4.8 .2-3.7-3.9-13.4-.4-3.2-.6-1.1-.6-7-.9-2.6-2.8-3.1-7.7-2.3-.4-2.1-1.5-.8-9.7 3.1-2.9 2.5-.9 1.6-4.1 13.4 .8 7.5-.6 4.2-2.9 7-.7 2.7-.5 10.1 1 10.7-.2 7-2.1 12.8-.1 8.1-1.1 5.9 0 11.2-2 6.4-.4 4.8 1 2.7 1.3 1.6 5.2 4.8 3.1 2.2 .4 1.6-.3 2.1 1.1 4.8 2 4.3zM152.5 351.9l1.6-.2 1.6-1.5 2-4.2-.2-2.7-1.1-3.8-2.3-2.3-2.6 .2-1.2 1.1-1.2 2.7-.5 3.2 .4 3.2 1 2.6z"/><path id="p1_9" d="M143.4 498.3l3.8-1.2 3-1.8 2.9-2.5 5.9-2.3 4.5-3.3 6.2-6.7 5-4.5 1.4-2.7 .9-3.7-.8-17.7-2-11.2-.2-10.7 .6-4.8-1.5-17.7 .5-8.6-1.1-10.1-4.7-15-.4-6.4-1.1-3.2-2.5-2.2-11.8-3.3-5.8 .6-3.5 2.7-1.4 2.7-3.5 11.2 .4 8.6-.5 3.7-2.8 7-.8 3.2-.4 9.6 .9 10.7-.1 7-2.3 12.8-.1 8.1-1.2 6.9 .1 10.2-2.5 9.1 .1 2.1 1.5 3.1 9.3 8.7-.1 2.7 1.6 4.8 .9 2.1zM152 350.8l2.1 0 1.2-1.1 .9-1.6 .7-2.7-.7-4.8-1-1.7-1.6-1.1-2.1 .2-1 1-1.1 2.7-.5 2.7 .4 2.6 1.1 2.6z"/><path id="p1_10" d="M144.5 496.4l3.3-1.7 3.7-2.9 2.6-1.4 4.3-1.1 4.8-3 5.9-6.2 5.4-4.3 1.5-3 .7-3.2-.9-17.7-2-11.2-.2-10.7 .7-4.8-.9-12-.9-5.2 .6-8.5-1.2-10.7-4.6-14.5-.8-6.9-1.1-2.7-2.2-1.8-2.1-.8-9.6-2.2-4.9 .7-2.8 2-1.4 2.4-4 10.9 .2 8.6-.5 3.7-2.7 7.5-.7 3.2-.6 9.1 .9 10.7-.1 7-2.3 12.8-.1 8.1-1.2 6.4-.1 10.7-2.3 9.1 .1 2.1 1.5 2.7 5.4 4.8 3.5 3.8 2.3 6.4 1.7 3.1zM152 349.7l1.6 .2 1-.7 1.5-4.3-.9-4.3-1.1-1.5-1-.4-1.1 0-.9 .8-.9 2.2-.5 2.7 .7 3.2z"/><path id="p1_11" d="M145 493.3l1.1-.3 3.8-2.9 7.4-2.3 4.9-2.4 6.4-5.9 5.6-4 1.5-2.7 .7-3.2-1.1-17.1-2-11.3-.2-11.7 .7-4.3-.9-11.3-1.1-5.3 .6-8.6-1.2-11.2-4.6-14.5-1.3-6.4-.8-2.1-1.8-1.5-2.1-.8-5.4-.8-4.3-1.2-3.7 .5-2.2 1.7-1.4 2.1-4.4 10.7 0 8-.5 3.7-3.2 11.3-.8 8.5 .7 10.2-.1 7.5-2.3 13.4-.1 7.5-1.2 6.4-.2 10.7-1.6 5.4-.6 3.7 .3 1.6 1.4 2.7 7.5 6.4 2.2 3.2 2.7 5.3zM152.5 347.6l.6 .2 .5-.6 .7-2.8-1.2-3.5-1.1 1.2-.3 2.3z"/><path id="p1_12" d="M146.6 488.4l8-1.7 8.1-3.7 4.5-3.8 6.7-4.2 1.5-2.2 .8-3.7-1.5-16.6-2.1-11.3-.2-12.3 .8-3.7-.7-9.1-1.6-7.5 .7-8.6-1.5-12.8-3.6-11.3-3.8-8.9-3.7-1.7-4.3-.5-4.3-1.3-2.7 .5-1.6 1.8-5.8 11.2-.4 8-4 17.7-.4 5.3 .2 18.2-2 12.9-.3 8-1.2 5.9-.3 10.7-2 7.5 .2 2.7 2.1 3.2 7.5 5.4 4.8 5.2z"/><path id="p1_13" d="M147.7 484l5.9 0 9.1-2.9 3.7-2.8 7-3.6 1.8-2.4 .6-3.2-1.4-9.1-.4-7.5-1.8-7-.4-4.3-.1-12.8 .7-3.2-.5-8.6-1.8-7.5 .6-9.1-1.3-12.3-3.6-11.2-5.8-7.3-1.6-.7-8.5-1.5-1.1 .3-2.2 2.4-4.8 7.7-.8 6.6-4.3 18.7-.4 4.8-.2 22-1.1 4.8-.8 12.8-1.3 5.9-.6 10.7-1.4 4.3-.5 3.2 .7 2.9 2.7 3 11.2 6.1z"/><path id="p1_14" d="M149.3 481.4l3.8 .2 3.7-.6 5.4-1.7 3.7-2.1 5.4-2 2.1-1.3 1.1-1.2 .9-3.1-1.6-9.1-.6-7.5-2.1-8-.2-16.6 .7-3.2-.6-8.6-1.7-6.9-.2-4.3 .5-4.8-1-12.4-2.8-9.6-2-3.3-2.7-1.7-9.6-2.8-3.8 1.6-3.9 5.1-.8 4.3-2.2 5.4-1.8 10.7-1.5 5.3-.7 26.8-1 4.3-.8 12.8-1.4 5.9-.9 11.2-1.4 3.8-.3 3.2 1.2 2.9 4.3 3.1 6.4 2.1 2.1 1.2z"/><path id="p1_15" d="M150.4 479.4l2.1 .3 2.2-.3 3.7-1.5 3.2-.4 9.1-2.9 3.2-2 1.2-3-1.3-5.4-1.4-11.2-1.9-6.4-.5-4.8 .6-8.1-.3-5.9 .6-2.1-.7-8.6-1.7-6.9-.2-12.3-.8-4.8 .2-4.3-2.4-9.1-1-2.2-2.1-1.8-4.3-.8-6.4-.3-2.7 .5-2.2 1.6-1.5 1.9-.3 3.8-1.4 1.4-2.1 3.9-1.5 11.2-1.4 4.9-.5 22.4-1.4 8.6-.9 12.8-1.2 5.4-1.3 11.2-1.5 5.4 0 2.1 .6 1.1 4.8 3 8.6 2.7z"/><path id="p1_16" d="M150.9 477.2l2.7 .3 3.7-1 3.8-.2 9.6-2.4 2.7-1.3 1.3-2.5-1.5-5.9-1.4-11.2-1.8-6.4-.5-5.4 .6-8-.2-5.9 .5-1.6-.3-4.8-2.1-10.7-.9-10.2 0-4.8-.5-1.6 .1-4.3-.6-3.7-1.1-3.2-.3-2.7-.9-1.7-2.2-1.4-4.3-.8-5.8 .1-2.2 .4-2.3 1.2-1.2 1.6 .3 2.2-.3 1.6-2.9 2.9-1.1 1.9-3.2 20.3-.1 18.8-1.9 12.3-.6 8.5-2.5 16.6-1.5 4.3 .1 3.2 2.2 1.8 5.4 1.9 6.4 1.2 3.8 0z"/><path id="p1_17" d="M150.9 476.1l3.2 .3 7-.9 6.4-1.9 3.2-.4 2.3-.9 1.3-2.2-1.5-5.3-1.3-11.3-1.8-6.9-.5-5.4 .6-8-.1-12.3-2.1-10.7-2.1-24.6-.9-2.7-.3-2.7-1.1-1.9-1.6-1-4.3-.6-7.4 .3-2.7 1.3-.7 .8 0 3.8-3.6 3.6-.8 1.7-3.1 19.8-.1 18.8-1.5 8.5-1 12.3-1.2 5.9-.9 8.6-1.8 7 .4 2.6 4.6 2.2 8.6 1.8z"/><path id="p1_18" d="M151.5 475l3.7 .1 8-1.4 3.8-1.3 4.3-.5 1.5-.7 .5-1.1-1.2-4.8 .1-2.7-1.1-9.1-1.7-6.4-.6-5.3 .6-8.6-.2-12.3-1.9-10.2-1.2-10.7 0-4.3-.6-2.1 0-4.3-2.3-9.4-1-1.3-2.7-.5-7-.2-2.1 .2-2.2 .8-.6 .8-.7 3.7-2.4 2.3-1.7 2.5-3.4 19.8-.2 18.8-1.4 8.5-.5 7.5-1.7 10.7-1.1 11.3-.9 4.3 .6 2.1 2.8 1.2 9.6 2.1z"/><path id="p1_19" d="M152.5 473.4l7.5-.5 6.4-1.9 3.8-.4 1.1-.4 .2-.6-.6-3.8 .5-5.8-.6-6.5-1.8-6.4-.6-5.3 .4-9.1-.4-5.9 .3-5.4-1.9-10.7-2.8-24.6-1.5-4.8-.9-1.3-9.1-.9-3.2 .6-1.8 4.3-3.4 3.7-1.3 3.2-1.1 5.4-1.9 12.3-.2 18.2-1.4 8.5-1.1 12.3-1.2 6.5-.7 15 .4 1 1.9 .8 2.7 .3 6.4 1.7z"/><path id="p1_20" d="M157.3 471.7l4.9-.8 6.8-2.4 1.7-8-.1-3.2-.4-3.8-1.9-6.9-.4-4.8 .3-9.7-.6-6.4 .4-4.3-1.3-6.9-.9-9.7-1.1-4.2-.2-4.9-1.8-9.6-2.7-4.7-8.5-.9-1.1 .5-1.6 3-4.3 4.9-2.1 7.4-1.5 8-.7 8.7-.1 13.8-1.4 9.1-1 11.2-1.2 7-.1 9.6 1.3 4.8 .7 .6 6.1 1.9z"/><path id="p1_21" d="M156.8 470.2l4.8-.6 5.1-2.2 3-6.4 .3-3.7-.3-3.8-2-6.9-.5-4.8 .2-9.7-.7-5.9 .5-4.8-1.1-6.9-.4-5.9-1.7-7.5-.5-4.8-2.3-9.7-.6-1-2.7-2.3-4.8-.9-2.2 1.2-5.1 5.2-1.4 2.7-1.5 5.3-1.9 11.8-.3 18.2-2.4 20.3-1.2 7 .1 6.9 .9 3.2 2.7 3.5 3.7 1.4 7 .2z"/><path id="p1_22" d="M154.7 468l5.3 .2 2.2-.6 2-1.2 4.4-5.3 .6-3.3-.1-4.3-1.9-6.4-.6-5.3 .1-6.5-.9-9.1 .5-5.3-1.8-15.5-1.4-4.3-1.5-8-2.1-5.9-2.7-2.3-1.6-.6-4.8 1.6-3.6 3.4-1.3 2.2-1.9 5.3-1.8 11.8-.8 23-.9 4.3-.3 5.3-2 13.9 .8 6.2 3.2 4.2 5.4 2z"/><path id="p1_23" d="M150.4 466l9.1 .3 1.8-.5 5.9-4.8 1.3-3.2-.1-4.8-1.7-5.9-.5-4.8 0-6.4-1.1-9.1 .3-5.9-1-12.3-2.9-11.8-2.1-5.9-1.5-3-2.7-1.6-4.3 .8-3 2.8-1.4 2.1-2.2 5.3-1.8 11.3-.1 9.6-.4 1.6-.5 12.9-3 19.8 0 3.7 .8 3.2 .9 1.4 1.6 1.4 5.9 3.2z"/><path id="p1_24" d="M150.9 464.3l5.4 .2 4.8-.9 3.7-1.9 2.2-1.7 1-3.3 0-3.2-1.6-6-.6-5.2 0-6.4-1.1-9.1 .2-5.9-1.5-15-2.6-9.1-2.5-5.9-1.5-2-2.7-1.2-1.6 .1-1.6 .7-2.4 2.4-3.2 5.9-.7 2.1-1.7 10.2 0 9.1-.5 1.6-.5 13.4-3 19.3 0 3.2 .7 2.6 1 1.7 2.8 1.7z"/><path id="p1_25" d="M152 463.7l6.4-.3 6.2-2.4 2.1-1.6 .8-2.1 .2-3.2-1.5-6.5-.7-5.3 0-6.4-1-9.1 .1-5.9-1.6-15-2.7-9.1-2.8-5.9-1.5-1.6-2.4-.9-2.1 .6-2.6 2.5-3.3 5.8-1.2 4.3-1.2 7.5 0 9.1-.5 1.6-.6 13.4-2.8 19.3 .1 3.2 .8 2.3 1 1.4 7.6 3.6z"/><path id="p1_26" d="M151.5 462.7l6.9-.1 4.8-1.8 2.8-1.9 1-2.2 .2-2.6-1.9-11.8-.1-5.9-1-9.6 .1-5.9-1.6-15-3-8.6-2.9-5.6-1.1-1.3-2.1-1-2.4 1-2.7 3.2-2.4 4-2.1 7.2-.5 4.9-.6 17.6-3 25.2 .2 2.6 1.7 3.2 7 3.6z"/><path id="p1_27" d="M152 461.6l5.9 0 5.3-2.2 2.7-2.6 .7-2.7-1.6-11.3-1.1-16 .2-5.4-1.1-12.3-1.4-5.4-2.7-5.8-3.7-5.9-1.6-1-2.7 1.5-3.7 5.2-2.8 7.1-.6 4.9-.6 18.1-2.6 22 .5 4.8 1.6 2.7 6.6 3.5z"/><path id="p1_28" d="M152.5 460l4.8 .1 5.4-2.3 2.1-1.6 .8-2.1-1.6-19.3-.2-13.4-1.1-12.3-.8-3.2-2-4.3-2.4-3.7-3.9-4.1-1.1 .5-4.3 4.3-3.3 6.8-.7 4.8 0 8.5-.6 3.8-.5 11.2-2 12.9 .8 6.9 1.5 2.6 1.5 1.2 4.4 2z"/><path id="p1_29" d="M152.5 458.4l4.8-.2 5.3-2.5 1.6-2.2 .5-4.2-1.1-14.5-.2-12.8-1.6-15-1.2-3.1-2.7-3.7-2.2-2-2.6-1.2-4.3 3.2-3.4 5.2-.7 4.8 0 8.5-.7 4.3-.5 10.7-1.9 12.9 1.5 6.9 1.1 1.6 1.3 1.1 2.7 1.2z"/><path id="p1_30" d="M150.4 456.8l5.9 0 3.8-1.7 3.1-2.8 1.1-5.2-1-7.5-.2-17.6-1.8-15-1.3-2.8-2.1-2.6-2.7-2.2-1.6-.4-4 2.1-3.5 4.3-.8 4.8-.2 9.1-.6 3.7-.5 11-2 12 .6 2.7 2.5 5.4 1.5 1.2z"/><path id="p1_31" d="M150.4 455.3l5.3 .1 2.7-1.1 4.3-3.3 1.2-4.4-1-6.4-.1-17.7-1.9-15-.8-2.1-1.7-2-1.6-1.6-2.7-1.3-1 .1-2.7 1.3-3.8 4-.9 4.8-1.5 24.1-1.8 11.2 .9 2.7 3.8 4.8z"/><path id="p1_32" d="M150.9 453.7l4.8 .1 5.9-3 1-1 .9-3.2-1-6.4 0-17.7-2-15-.9-2.1-2.3-2.2-3.7-2-2.7 1.2-2.7 2.2-1 1.3-.5 1.6-1 8.6-.1 5.3-.5 1.6-.6 12.3-1.7 10.7 .6 2.2 1.9 2.1z"/><path id="p1_33" d="M151.5 453.1l4.2-.1 5.7-2.7 .8-.7 1-3-1-6.4 .1-17.7-2-14.5-.7-2.1-1.2-1.2-2.1-1.9-2.7-1-2.7 1.1-2.1 1.8-1.2 1.2-.5 1.6-1.2 8.6-1.1 19.2-1.6 10.7 .8 2.2 1.6 1.7z"/><path id="p1_34" d="M152 452.6l3.2-.1 5.9-2.7 1.1-1.6 .5-2.2-.8-5.8 .1-17.7-1.4-11.8-1.6-4.9-2.7-2.3-2.7-1-2.7 1.1-2.3 1.8-1.3 2.6-1.1 8.1-1.2 19.2-1 8.1-.1 2.6 1.4 2.7 2.9 2.2z"/><path id="p1_35" d="M150.9 451.4l3.2 .5 3.2-.9 3.6-2.3 1-2.7-.4-5.8 .2-17.2-1.5-12.3-.7-2.7-1.1-2-2.7-1.9-2.1-.7-2.1 .8-2.7 1.8-1.7 4.7-1.7 19.3-.1 5.3-.5 2.2-.2 6.4 .6 3.2 1.9 2.2z"/><path id="p1_36" d="M152.5 450.9l4.3-.6 3.5-2.7 .6-1.6 .4-9.6-.2-18.2-1.4-7.5-1.8-4.2-2.7-1.6-1.6-.4-1.6 .4-2.6 1.5-2 4.9-2.2 26.2 .3 6.9 .6 2.5 2.1 2.1z"/><path id="p1_37" d="M153.1 449.8l3.5-.5 2.2-1.7 .7-1 .8-3.8 .6-9.6-.3-15-1.3-6.9-2-4.1-3.7-1.6-1.6 .3-1.9 1.1-2.4 4.8-1.2 11.8-.8 14.4 1.4 8.6 2.6 2.1z"/><path id="p1_38" d="M151.5 448.3l2.1 .3 2.1-.2 2.4-1.8 1.5-3.8 .8-6.4 .1-11.8-1-10.1-.8-3.2-1.5-2.7-1.1-1.1-2.5-.8-2.7 .9-2.6 4.2-1.4 8.6-.6 10.1 .3 2.7-.3 5.3 1.4 6.4 1.5 2.2z"/><path id="p1_39" d="M152 447.2l3.2-.2 2.7-2.3 1.1-2.4 1.1-6.4 .1-11.3-1-9.6-1.3-4-2.2-2.4-2.1-.8-1.3 .2-1.4 1.1-1.7 2.2-.7 1.6-1.3 7.5-.7 10.1 .4 2.7-.1 4.8 .6 3.2 2.1 4.3z"/><path id="p1_40" d="M152 446l3.2-.1 2.6-2 1.3-3.2 .7-4.8 .2-11.3-1.2-9.6-1.4-3.7-1.7-1.8-2.1-.9-2.1 .9-1.7 1.8-.9 1.6-1.6 7.5-.5 8 .4 9.6 .7 3.2 2 3.3z"/><path id="p1_41" d="M152.5 445.6l2.7-.3 1.6-1.1 1.1-1.4 1.7-6.4 .3-6.9-.6-10.8-1.4-5.8-2.2-2.8-2.1-1-2.1 1-2.2 2.8-1.8 7.5-.6 8 .6 9.6 .7 3 2.2 3.4z"/><path id="p1_42" d="M153.1 445l1.6-.2 1.6-.9 1.4-2.1 1.7-5.9 .4-7-.1-4.3-1.3-9.1-1.6-3.7-1.6-1.4-1.6-.7-1.6 .6-1.6 1.4-1.5 3.3-1.3 5.4-.6 9.6 .8 8 .8 2.7 2.2 3.2z"/><path id="p1_43" d="M152.5 444l2.7-.4 1.8-1.8 2.1-5.9 .5-7-.5-9.1-1.1-4.3-1.7-3.4-2.7-1.5-2.7 1.5-1.6 2.9-1.6 5.6-.5 7.8 1 9.6 1 2.7 1.2 1.7z"/><path id="p1_44" d="M152.5 442.9l1.1 .2 1.6-.6 1.9-2.9 1.7-4.3 .7-6.4-.4-7.5-1.3-5.3-1.9-3.2-2.3-1.4-1.6 .7-1.1 1.1-2.1 4.4-1.1 3.7-.3 7 0 2.7 1.4 6.9 1.3 2.7z"/><path id="p1_45" d="M153.1 441.9l1 0 1.1-.8 3-5.2 1.1-7-.3-7.5-.6-2.7-2.6-4.8-2.2-1.3-1.6 .8-1.1 1.3-2.8 5.7-.5 8.5 0 2.2 1.9 6.9 1.7 2.7z"/><path id="p1_46" d="M152.5 440.4l1.6 .1 2.7-3.2 1.6-3.5 .8-4.9-.2-7.1-.6-2.3-2.1-3.8-1.6-1.6-1.1-.4-2.1 1.6-1.8 2.4-1.7 4.3-.1 9.1 2.1 6.4z"/><path id="p1_47" d="M153.1 439.2l1.6-.6 2.7-3.3 1.6-6.4-.6-8.8-2.6-4-2.2-1.2-2.1 1.3-1.6 1.9-1.7 3.9-.1 9.1 1.3 3.7 1.5 2.7z"/><path id="p1_48" d="M153.1 438.3l1 0 1.6-1.3 1.5-2.2 1.5-6.4-.5-8-2.5-3.7-2.1-1.1-1.6 .8-1.8 1.8-1.4 2.5-.4 1.8-.1 8 .7 2.2 2.3 4.2z"/><path id="p1_49" d="M153.1 437.7l1-.1 1.5-1.2 1-1.6 1.7-6.4-.4-8-2.3-3.3-2-1-1.6 .8-1.6 1.8-1.7 3.8 .1 7.5 .6 2.1 1.1 2.7z"/><path id="p1_50" d="M153.6 437l1.5-1.1 .9-1.6 1.5-6.5-.2-6.9-1.6-2.9-2.1-1.4-1.6 1-1.3 1.7-1.2 2.7-.2 2.6 .3 4.9 .7 2.6 2 3.8z"/><path id="p1_51" d="M153.6 435.6l1.6-1.9 1.5-6.4-.4-6.4-1.1-2.5-1.6-1-2.1 1.9-1.2 2.7-.2 2.6 .5 5.4 1.4 3.7z"/><path id="p1_52" d="M153.6 433.6l.6-.4 1-2.3 .8-3.6-.4-5.9-.8-2.1-1.2-1-1.6 1.6-.9 2.6-.2 2.1 .5 4.9 1.1 2.8z"/><path id="p1_53" d="M153.6 431.1l1.1-1.5 .5-2.8-.4-4.8-1.2-2.3-1.5 2.3-.3 2.6 .4 4.3z"/><path id="p1_54" d="M153.6 428.6l.6-.8 .2-2.1-.8-3.2-.6 .5-.3 2.2 .3 2.6z"/></defs><use href="#p1_0" fill="#6300ff"/><use href="#p1_1" fill="#4c00ff"/><use href="#p1_2" fill="#3600ff"/><use href="#p1_3" fill="#1f00ff"/><use href="#p1_4" fill="#0900ff"/><use href="#p1_5" fill="#000eff"/><use href="#p1_6" fill="#0023ff"/><use href="#p1_7" fill="#0039ff"/><use href="#p1_8" fill="#004fff"/><use href="#p1_9" fill="#0065ff"/><use href="#p1_10" fill="#007bff"/><use href="#p1_11" fill="#0091ff"/><use href="#p1_12" fill="#00a7ff"/><use href="#p1_13" fill="#00bdff"/><use href="#p1_14" fill="#00d3ff"/><use href="#p1_15" fill="#00e1f6"/><use href="#p1_16" fill="#00e4de"/><use href="#p1_17" fill="#00e7c6"/><use href="#p1_18" fill="#00eaaf"/><use href="#p1_19" fill="#00ed97"/><use href="#p1_20" fill="#00f080"/><use href="#p1_21" fill="#00f268"/><use href="#p1_22" fill="#00f550"/><use href="#p1_23" fill="#00f839"/><use href="#p1_24" fill="#00fb21"/><use href="#p1_25" fill="#00fe09"/><use href="#p1_26" fill="#0eff00"/><use href="#p1_27" fill="#26ff00"/><use href="#p1_28" fill="#3eff00"/><use href="#p1_29" fill="#55ff00"/><use href="#p1_30" fill="#6dff00"/><use href="#p1_31" fill="#84ff00"/><use href="#p1_32" fill="#9cff00"/><use href="#p1_33" fill="#b4ff00"/><use href="#p1_34" fill="#cbff00"/><use href="#p1_35" fill="#e3ff00"/><use href="#p1_36" fill="#fbff00"/><use href="#p1_37" fill="#ffeb00"/><use href="#p1_38" fill="#ffd200"/><use href="#p1_39" fill="#ffb900"/><use href="#p1_40" fill="#ffa000"/><use href="#p1_41" fill="#ff8700"/><use href="#p1_42" fill="#ff6e00"/><use href="#p1_43" fill="#ff5500"/><use href="#p1_44" fill="#ff3c00"/><use href="#p1_45" fill="#ff2300"/><use href="#p1_46" fill="#ff0a00"/><use href="#p1_47" fill="#ff0000"/><use href="#p1_48" fill="#ff0000"/><use href="#p1_49" fill="#ff0000"/><use href="#p1_50" fill="#ff0000"/><use href="#p1_51" fill="#ff0000"/><use href="#p1_52" fill="#ff0000"/><use href="#p1_53" fill="#ff0000"/><use href="#p1_54" fill="#ff0000"/><use href="#p1_0" fill="none" stroke="#000" stroke-width="0.8"/><use href="#p1_8" fill="none" stroke="#000" stroke-width="0.8"/><use href="#p1_16" fill="none" stroke="#000" stroke-width="0.8"/><use href="#p1_24" fill="none" stroke="#000" stroke-width="0.8"/><use href="#p1_32" fill="none" stroke="#000" stroke-width="0.8"/><use href="#p1_40" fill="none" stroke="#000" stroke-width="0.8"/><use href="#p1_48" fill="none" stroke="#000" stroke-width="0.8"/>
<ellipse cx="97.7" cy="355.9" rx="1.1" ry="0.9" fill="#000"/><ellipse cx="124.5" cy="357.2" rx="1.1" ry="0.9" fill="#000"/><ellipse cx="109.8" cy="365.5" rx="1.1" ry="0.9" fill="#000"/><ellipse cx="127" cy="342" rx="1.1" ry="0.9" fill="#000"/><ellipse cx="102.7" cy="397.6" rx="1.1" ry="0.9" fill="#000"/><ellipse cx="189.2" cy="397.2" rx="1.1" ry="0.9" fill="#000"/><ellipse cx="102.9" cy="434.1" rx="1.1" ry="0.9" fill="#000"/><ellipse cx="122" cy="435.9" rx="1.1" ry="0.9" fill="#000"/><ellipse cx="200.2" cy="461.9" rx="1.1" ry="0.9" fill="#000"/><ellipse cx="221.8" cy="429.4" rx="1.1" ry="0.9" fill="#000"/><ellipse cx="160.5" cy="514" rx="1.1" ry="0.9" fill="#000"/><ellipse cx="171.4" cy="514.1" rx="1.1" ry="0.9" fill="#000"/><ellipse cx="135.3" cy="510.5" rx="1.1" ry="0.9" fill="#000"/><ellipse cx="184" cy="449.2" rx="1.1" ry="0.9" fill="#000"/>
<line x1="56.3" y1="424.50" x2="250.89999999999998" y2="424.50" stroke="#000" stroke-width="1" stroke-dasharray="1 1.15"/>
<line x1="153.50" y1="326.8" x2="153.50" y2="521.4" stroke="#000" stroke-width="1" stroke-dasharray="1 1.15"/>
<path d="M92.50,531.13 L93.65,529.78 L94.80,528.42 L95.94,527.07 L97.08,525.71 L98.20,524.36 L99.32,523.00 L100.44,521.65 L101.54,520.29 L102.64,518.94 L103.72,517.58 L104.80,516.23 L105.88,514.87 L106.94,513.52 L108.00,512.16 L109.05,510.81 L110.09,509.45 L111.12,508.10 L112.14,506.74 L113.16,505.39 L114.16,504.03 L115.16,502.68 L116.15,501.32 L117.13,499.97 L118.10,498.61 L119.07,497.26 L120.02,495.90 L120.97,494.55 L121.91,493.20 L122.83,491.84 L123.75,490.49 L124.66,489.13 L125.56,487.78 L126.45,486.42 L127.33,485.07 L128.20,483.71 L129.06,482.36 L129.91,481.00 L130.75,479.65 L131.59,478.29 L132.41,476.94 L133.22,475.58 L134.01,474.23 L134.80,472.87 L135.58,471.52 L136.35,470.16 L137.10,468.81 L137.85,467.45 L138.58,466.10 L139.30,464.74 L140.01,463.39 L140.71,462.03 L141.39,460.68 L142.06,459.33 L142.72,457.97 L143.37,456.62 L144.00,455.26 L144.62,453.91 L145.23,452.55 L145.82,451.20 L146.39,449.84 L146.95,448.49 L147.50,447.13 L148.03,445.78 L148.54,444.42 L149.04,443.07 L149.52,441.71 L149.98,440.36 L150.43,439.00 L150.85,437.65 L151.25,436.29 L151.63,434.94 L151.99,433.58 L152.32,432.23 L152.63,430.87 L152.90,429.52 L153.15,428.16 L153.35,426.81 L153.51,425.45 L153.60,424.10 L153.69,425.45 L153.85,426.81 L154.05,428.16 L154.30,429.52 L154.57,430.87 L154.88,432.23 L155.21,433.58 L155.57,434.94 L155.95,436.29 L156.35,437.65 L156.77,439.00 L157.22,440.36 L157.68,441.71 L158.16,443.07 L158.66,444.42 L159.17,445.78 L159.70,447.13 L160.25,448.49 L160.81,449.84 L161.38,451.20 L161.97,452.55 L162.58,453.91 L163.20,455.26 L163.83,456.62 L164.48,457.97 L165.14,459.33 L165.81,460.68 L166.49,462.03 L167.19,463.39 L167.90,464.74 L168.62,466.10 L169.35,467.45 L170.10,468.81 L170.85,470.16 L171.62,471.52 L172.40,472.87 L173.19,474.23 L173.98,475.58 L174.79,476.94 L175.61,478.29 L176.45,479.65 L177.29,481.00 L178.14,482.36 L179.00,483.71 L179.87,485.07 L180.75,486.42 L181.64,487.78 L182.54,489.13 L183.45,490.49 L184.37,491.84 L185.29,493.20 L186.23,494.55 L187.18,495.90 L188.13,497.26 L189.10,498.61 L190.07,499.97 L191.05,501.32 L192.04,502.68 L193.04,504.03 L194.04,505.39 L195.06,506.74 L196.08,508.10 L197.11,509.45 L198.15,510.81 L199.20,512.16 L200.26,513.52 L201.32,514.87 L202.40,516.23 L203.48,517.58 L204.56,518.94 L205.66,520.29 L206.76,521.65 L207.88,523.00 L209.00,524.36 L210.12,525.71 L211.26,527.07 L212.40,528.42 L213.55,529.78 L214.70,531.13" fill="none" stroke="#fff" stroke-width="1.45" stroke-linejoin="miter"/>
</g>
<path d="M56.30,521.4v-8M56.3,521.40h8M66.03,521.4v-4.5M56.3,511.67h4.5M75.76,521.4v-4.5M56.3,501.94h4.5M85.49,521.4v-4.5M56.3,492.21h4.5M95.22,521.4v-4.5M56.3,482.48h4.5M104.95,521.4v-8M56.3,472.75h8M114.68,521.4v-4.5M56.3,463.02h4.5M124.41,521.4v-4.5M56.3,453.29h4.5M134.14,521.4v-4.5M56.3,443.56h4.5M143.87,521.4v-4.5M56.3,433.83h4.5M153.60,521.4v-8M56.3,424.10h8M163.33,521.4v-4.5M56.3,414.37h4.5M173.06,521.4v-4.5M56.3,404.64h4.5M182.79,521.4v-4.5M56.3,394.91h4.5M192.52,521.4v-4.5M56.3,385.18h4.5M202.25,521.4v-8M56.3,375.45h8M211.98,521.4v-4.5M56.3,365.72h4.5M221.71,521.4v-4.5M56.3,355.99h4.5M231.44,521.4v-4.5M56.3,346.26h4.5M241.17,521.4v-4.5M56.3,336.53h4.5M250.90,521.4v-8M56.3,326.80h8" stroke="#000" stroke-width="1" fill="none"/>
<rect x="56.3" y="326.8" width="194.6" height="194.6" fill="none" stroke="#222" stroke-width="0.85"/>
<text x="56.30" y="534.40" text-anchor="middle" class="tl">-2</text>
<text x="52.20" y="524.60" text-anchor="end" class="tl">-2</text>
<text x="104.95" y="534.40" text-anchor="middle" class="tl">-1</text>
<text x="52.20" y="475.95" text-anchor="end" class="tl">-1</text>
<text x="153.60" y="534.40" text-anchor="middle" class="tl">0</text>
<text x="52.20" y="427.30" text-anchor="end" class="tl">0</text>
<text x="202.25" y="534.40" text-anchor="middle" class="tl">1</text>
<text x="52.20" y="378.65" text-anchor="end" class="tl">1</text>
<text x="250.90" y="534.40" text-anchor="middle" class="tl">2</text>
<text x="52.20" y="330.00" text-anchor="end" class="tl">2</text>
<text x="77.90" y="350.50" text-anchor="middle" class="pl">1%</text>
<g transform="translate(55.80,522.60)"><text x="57.48" y="37.8" class="al">R</text><text x="69.01" y="41.1" class="sub">X</text><text x="78.8" y="37.8" class="al">/</text><text x="84.0" y="39.6" class="al" style="font-size:19.5px">&lt;</text><rect x="95.5" y="25.1" width="1.2" height="12.7"/><text x="97.34" y="37.8" class="al" font-weight="bold">j</text><rect x="105.3" y="25.1" width="1.3" height="12.7"/><text x="107.89" y="27.0" class="sup">2</text><text x="113.7" y="39.6" class="al" style="font-size:20.5px">&gt;</text><text x="124.88" y="27.8" class="sup2">3/2</text></g>
<g transform="translate(19.20,456.40) rotate(-90)"><text x="-0.74" y="0" class="al">Q</text><text x="13.31" y="3.4" class="sub">X</text><text x="24.8" y="0" class="al">/</text><text x="30.0" y="1.8" class="al" style="font-size:19.5px">&lt;</text><rect x="41.2" y="-12.3" width="1.3" height="12.3"/><text x="43.34" y="0" class="al" font-weight="bold">j</text><rect x="51.2" y="-12.3" width="1.3" height="12.3"/><text x="53.4" y="-10.5" class="sup">2</text><text x="58.5" y="1.8" class="al" style="font-size:20.5px">&gt;</text></g>
<rect x="74.3" y="579.20" width="161.1" height="9.3" fill="url(#cmap)" stroke="#000" stroke-width="1"/>
<path d="M75.66,588.50v2.8M98.35,588.50v5.5M121.04,588.50v2.8M143.73,588.50v5.5M166.42,588.50v2.8M189.11,588.50v5.5M211.80,588.50v2.8M234.49,588.50v5.5" stroke="#000" stroke-width="1"/>
<text x="98.35" y="604.90" text-anchor="middle" class="cl">-2.0</text>
<text x="143.73" y="604.90" text-anchor="middle" class="cl">-1.0</text>
<text x="189.11" y="604.90" text-anchor="middle" class="cl">0.0</text>
<text x="234.49" y="604.90" text-anchor="middle" class="cl">1.0</text>
<text x="154.80" y="621.10" text-anchor="middle" class="ct">Log P(R*<tspan class="sub3" dy="4.2">X</tspan><tspan dy="-4.2">,Q*</tspan><tspan class="sub3" dy="4.2">X</tspan><tspan dy="-4.2">)</tspan></text>
<clipPath id="c2"><rect x="344.3" y="326.8" width="194.6" height="194.6"/></clipPath>
<rect x="344.3" y="326.8" width="194.6" height="194.6" fill="#8000ff"/>
<g clip-path="url(#c2)">
<defs><path id="p2_0" d="M403.1 515.7l1-.1 1.5-1.6 0-2.7-1.5-1.3-1.7 .3-1.7 2.1 .4 1.6zM413.2 511.6l1.1 .1 .9-.9 .9-2.7-.2-5.2-1.1-2.6-1-.5-1.1 1.1-1 2.9 .4 5.9zM473.7 509.7l3.2 .3 5.5-3 0-1-1.5-1.6-1-3.2-1.6-2.2-3 .2-3.6 2-2.3 4.2-.1 1.6 1.2 1.7zM419.7 508.2l1.6 .3 2.1-.9 1.4-2.7 2.7-2.7 1.5-2.1 4-1.3 2.7-2.4 3.8-2.3 2.1-.6 3.7 .3 3.3-.5 3.2-.8 5.9-2.4 14.4-7.8 1.4-1.5 .9-2.1-.3-1.6-3.5-2.7-.7-1.1-.6-3.2-1.3-3.2-.6-5.3 .3-4.9 .9-4.8-.3-7.5 1.3-3.7 2.5-2.2 4.7-6.4 .3-1.6-2.6-5.3-.2-5.9-3.3-5.4 .2-6.4-3.8-7.5 .3-3.7-1.8-4.3-.6-2.7 .6-3.2 1.4-1.2 3.1-1.5 1.8-2.1 .2-1.1-2-3.7-4.9-.6-2.4-2.1-.8-1.6-.6-4.3-.7-13.4-2.5-3.7-4.1-3.5-3.4 .3-1.9 1-1.6 1.7-2.2 .6-4.8-.8-9.1 1.7-2.6-.8-5.4-.3-4.8 1-1.5 1.2-1.4 3.2-2.5 1.9-.6 1.3 .1 2.6 1.6 1.4 2.1 .3 3.3-1 1.6 .6 2.1 4.7 .8 3.8-.5 2.6-1.3 3.2-5.8 10.7-3.1 3.8-.5 2.1-3.6 7 .1 2.1 2.1 7-1.6 5.9 .8 7.5 1.3 5.9-.8 6.9 .5 2.7 3.2 5.3 .6 3.2-1.2 5.4-.3 4.8 .4 1.6-.3 4.3 .3 2.1-3.1 10.2 1.2 1.6 1 3.8 .3 5.3-.7 1.6-3.2 2.7-.1 1.1 1.2 2.3 3.5 .9 1.1 2.1 2.8 9.6zM430.3 365.8l-1-.2-1.5-1.4-.9-3.2 1.1-2.7 1.8-2.2 1.1-1 1.1-.2 2.1 1.7 1.2 2.2 .6 2.7-.8 2.1-1 1.2-1.6 .8zM453.8 362.6l-1.1-1.1-.2-1.6 1.4-1.2 1.6 0 .9 1.2-.1 1.1-1.3 1.3zM444.3 504.4l1-.1 1.4-1.5 0-1.1-.8-1.2-5.9-.4-2.7 .6-1.7 1 .2 1.1 2 1zM465.7 497.5l1.6 .3 2.9-2 .3-4.3-.5-1.1-1.1-.7-2.7 .1-2.1 1.7-.4 2.7 .9 2.3zM398.8 419.4l1.6 0 1.2-.7 .8-3.2-1.2-2.6-1.9-2.5-2.1-.6-1.1 1.1-.1 5.2 .9 2.1zM400.4 408.3l1.6 .1 1.1-.9-.1-3.2 .6-2.7-1.6-3.5-1.5-.8-1.7 0-2.3 1.6-.9 2.2 .1 1.6 1.1 2.7zM402.5 364.4l2.2 0 1.7-2.9-.1-3.8-1.6-2.8-2.2 0-1.9 1.8-.2 3.7 .8 2.7zM470.5 360.5l1.4-.6 1-1.6-.3-2.4-1.6-1-1.7 .7-.6 1.1 .2 2.6zM430.9 328.8l1.6 .2 1.6-1.1 .4-1.2-1.5-1.8-1-.2-1.9 .9-.3 1.8z"/><path id="p2_1" d="M402.5 515.3l1.6 0 1.2-1.3-.1-2.7-1.1-1-1.6 .2-1.3 1.9 .3 1.5zM413.8 511.4l1.4-1.1 .6-2.2-.1-4.8-.9-2.6-1-.6-1.1 1.3-.6 1.9-.2 3.7 .8 3.4zM475.3 509.8l1.6-.1 5-3.2-1.5-2.1-.9-3.2-1.5-1.7-2.4 .1-3.5 1.9-2.5 4.5 .4 1.6 1 1zM420.7 508.2l2.8-1.2 1-2.4 2.9-2.9 1.4-2.5 4.2-.9 7-5.1 7 .2 4.8-1.2 7.5-3 12.8-7.3 1.6-2.6-.2-1.7-3.3-3.2-1-1.6-.3-2.7-1.2-3.2-.7-6.4 1.2-8.6-.2-8.5 1.1-2.7 3-2.8 3.8-5.8 .3-1-2-3.1-1.2-6-1.6-3.3 .2-3.2-1.2-1-.3-1.6 .9-5.4-2.6-5.1-1.7-1.8 .6-4.3-1.8-4.3-.6-2.7 .6-3.2 1.8-1.5 2.7-1.3 1.8-2.5 0-1.1-.8-1.8-1-1.1-4.9-.6-1.3-.8-1.2-1.6-1.3-5.9-.5-5.9 .1-7.1-2.7-4.1-3.8-3.2-2.1-.2-1.6 .6-2.7 2.4-2.7 1.3-1 0-1.6-1-2.2-.1-4.8 1-2.1 1.1-.4 1.3 1.5 2.1 1.1 2.7 .4 2.7-1.2 2.7-2.5 1.6-2.7 .2-1-.3-1.4-1.5-.8-2.2 0-1.6 .9-2.1 2.7-4.3-.2-1.6-.7-.5-5.9-.8-4.8 .9-1.1 .9-1.3 3.2-2.8 2.2-.7 1.6 .5 2.1 1.6 1.2 1.6-.1 3.3-1.4 2.1 .5 2.4 5.7 .4 3.2-.3 2.2-1.7 4.2-5.6 10.7-2.9 3.8-.6 2.7-2.9 4.3-1 2.6 .6 3.2 1.8 5.4-1.6 5.9 .7 7.5 1.3 6.4-.9 6.4 .6 2.7 3 4.8 .8 3.2-1.2 5.9 0 12.8-2.8 9.7 1 1.6 1.1 4.3 .2 5.3-.4 1.6-3.3 2.7-.3 1.1 1.4 2.3 3.2 .3 1.3 2.7 2.5 9.1 .7 1.1zM453 363.1l-1.1-1.6 .1-1.6 1.9-1.5 1.6 0 1.3 1.5 0 1.1-1.8 2zM442.7 503.9l2.1 .1 1-.7 .5-1.1-1-1.4-5.3-.5-4.1 1.4 .2 1.1 1.2 .7zM466.2 497.5l1.1 0 2.4-1.7 .4-4.3-1.2-1.5-2.1-.1-2.4 1.6-.5 2.7 1.2 2.7zM398.3 418.8l2.6-.1 1-2.6-1.3-3.2-1.7-2.2-1.2-.3-1 .9-.5 4.2 .8 2.2zM400.4 407.8l1.1 .2 1-.5 .1-3.2 .7-2.7-1.3-3.2-1.6-.8-1.6 0-2.1 1.9-.7 1.6 .1 1.6 1.1 2.5zM402.5 364.2l2.2 0 1.4-2.7 0-3.2-1.1-2.7-.9-.5-1.6 .2-1.6 1.9-.2 3.2 .7 2.7zM470 360.1l1.6-.1 1.1-1.7-.3-2.2-1.4-.9-1.6 .6-.5 .9 .1 2.1zM430.9 328.5l1.6 .2 1.6-1.2 .1-1.3-1.2-1.1-1-.2-1.7 .7-.3 1.6z"/><path id="p2_2" d="M403.1 515.2l1-.3 .8-.9-.2-2.7-1.1-.7-1.1 .3-.8 1.5 .3 1.6zM413.8 510.8l1-.8 .7-2.4-.1-4.3-1.1-2.6-.5-.2-1.6 3.3-.1 2.7 .6 2.9zM474.2 509.2l2.7 .1 4-2.8-1.3-2.1-.6-2.7-1.5-1.5-1.7 0-2.8 1.5-2.9 4.3 0 1 .9 1.1zM420.2 507.7l1.6-.1 1.5-1.1 .8-2.1 2.9-3.2 0-2.2 .6-.5 3.8 0 1.3-.5 7.3-5.7 6.6 .8 5.2-1.1 5.9-2.2 5.8-3.2 3.8-2.7 3.2-1.4 1.6-1.1 .9-1.6-.4-2.2-3.7-4.3-.5-3.2-1-2.7-.9-6.4 1.2-9.1-.2-8.5 1.2-3.2 2.9-2.3 2.1-3.1 .6-3.2-2-8.6-2.1-3.2-.3-3.2-1.3-2.1 2-5.4 .1-1.6-2.3-4.2-2.5-2.7 .9-4.3-1.6-3.8-.7-3.2 .6-3.3 1.7-1.6 2.8-1.5 1.7-3.2-1.3-2.3-5.4-1-2.2-2.1-.8-2.1-1.3-10.2 .6-5.6-.4-1.9-2.3-3.4-3.2-3-1.1-.4-1.6 0-2.2 .9-5.3 5-2.1-1.9-1.1-.5-5.7 1.2-.9 2.1 1.4 4.3 .1 2.7-1.2 2.7-1.7 1.4-1.6 .6-2.7 .2-1.2-.6-2.6-2.7-1.6 .8 1.1 4.5-.3 4.9-7.2 14.9-2.7 4-1 3.3-3.8 5.5 .5 3.8 1.8 5.4-1.5 6.4 .5 7 1.4 5.9-1 6.4 .5 2.7 3.2 5.2 .8 3.3-1.2 5.9-.1 12.8-2.5 9.7 1 1.6 1 3.7 .2 5.9-.8 2.5-2.7 1.8-.5 1.1 1 1.8 1.1 .3 1.6-.3 1.3 .8 1.4 3.8 1.8 7.5zM452.5 363.6l-1.3-2.1 0-1.6 2.7-1.7 2.1 .2 1.4 1.5 .1 1.6-2.5 2.2-1.6 .3zM437.9 503.4l6.9 .1 1-1.3-.9-1-4.9-.6-3.6 1.1 .1 1.1zM466.2 497l1.1 0 2.2-1.7 .3-3.2-.9-1.7-2.1-.1-2.1 1.8 0 3.2 .5 1zM399.3 418.3l1.5-.6 .2-2.2-1.1-2.6-1.1-1.5-1.1-.3-1.1 2.6 0 1.8 1.2 2.2zM400.4 407l1.1 0 1.2-5.4-1-2.7-2.4-.9-1 .4-.9 1.1-.7 3.2 .9 2.1zM402.5 363.7l1.6 .3 1.6-2.5 0-3.2-1.6-2.7-1 0-1.3 1.1-.8 2.6 .6 3.3zM414.8 362.7l1.4-.1 4-2 5.3-.8 3.2-4.2 .4-1.1-.2-1.6-1.2-.8-4.3-.7-5.3 1.4-1.7 3.8-2.6 1.8-.7 .9 .1 2.2zM470.5 359.9l1.1-.3 .8-1.3-.3-2-1.1-.7-1.4 .5-.3 .6 0 2.1zM431.4 328.4l2.2-.6 .5-1.1-1.6-1.6-2.2 1.1 .1 1.2z"/><path id="p2_3" d="M403.1 514.2l.5 .1 .6-.8-.1-1.2-.5-.7-.5 .1-.6 1.2zM474.2 508.7l2.2 .2 2.6-1.9-1.1-3.7-1-1.4-3.2 1.2-1.1 1.7-1 .2-1 1 .1 1 .9 .9zM413.8 508.4l.6-.8 .1-2.2-.1-1.6-.6-.9-.8 2.5zM420.2 507.2l1.1 .1 1.2-.8 1.1-2.1 2.2-2.7-.3-1.3-2.1-1.4 .8-1 3-.5 4.8 .1 5-3.4 2.5-2.9 5.3 1.5 1.6 0 5.4-1.1 5.9-2.1 6.1-3.4 3.5-3 3.2-1.3 1.3-1.1 .4-1-.1-1.6-3.7-4.9-2.3-10.7-.1-3.2 1.1-8-.2-7.5 .5-2.1 1-2.8 2.6-1.3 1.6-2.2 .7-1.8-.1-2.6-1.8-7.5-2.5-3.2-.4-3.3-1.2-2.1 .5-2.1 2.4-3.8 .2-1.6-2-3.4-3.3-3.3 0-1.3 .9-3.2-2-6.4 .2-2.7 .7-1.6 4.1-3.2 1.5-2.6 0-.7-1.1-1.2-4.8-1-1.9-1.5-1.4-2.7-1-7.8-1.6-2.7-3.2 2-2.1 .6-1.3-.6-1.5-2.2-.6-2.1 .8-1.1 3.1-1 1.6 0 1.6 .7 1.6 1.6 1.1-1.1 .5-1.6 0-2.3-1.9-3.2-3.4-3.4-1.1-.5-2.1 .1-1.9 1.1-1.9 3.4-2.7 2.4-1.6-.2-2.1-2.5-4.7 .6-.8 1.6 1.1 6.5-1.6 3.2-1.5 1.5-2.7 1-2.6 .2-2.2-.9-1.1 .1 .3 4.5-.6 2.7-4.4 8-1.3 3.7-3.4 6.5-1.8 4.2-3.8 5.4 .4 3.7 1.9 5.4-1.5 6.4 .3 7 1.5 5.9-1 6.4 .4 2.6 3 4.9 1 3.7-1.1 4.3-.1 14.4-2.3 9.1 1.2 2.2 .9 3.7-.3 8.6-1 .8-1.6 .4-1.1 1.5 .5 1.2 1.6 .4 .8-.6 .3-1.6 1.1-1.4 1.4 .9 0 4.3 2.1 7.5 .2 3.2zM438.4 502.8l4.3 0 1.4-.6-3.6-1.1-2.6 .8-.4 .3zM466.2 495.4l1.7-.1 1-.8 .4-2.4-.9-1.4-1.6 .2-1.1 1.2-.1 1.6zM398.3 416.1l.6-.6 .1-1-.7-1.3-.7 1.3zM400.4 405.9l.6-4.3-.2-1-.9-.9-1.1 .9-.5 3.2 .6 1zM403.1 362.4l.9-.4 .5-1.6 0-1.6-.9-1.5-.8 .4-.5 2.2zM414.8 362.1l2.2-.6 3.7-3 3.2-.2 3.3-1.8 1.1-1.4-.5-2.2-4.4-1-4.8 1-.9 1.1-.5 2.7-3.7 2.6 0 1.7zM470.5 359.1l.5 0 .6-.8 0-1.1-.6-.6-1 .6zM431.4 327.4l1.1 0 .6-.7-1.1-.7-.8 .7z"/><path id="p2_4" d="M474.8 507.8l1.5-.2 .1-1.6-.5-.6-2 1.6zM471.6 507.1l.5 .3 .8-.4-.8-1-.5 0zM420.7 506.6l1.6-1.2 1-2.6-.1-.6-1.8-1-.4-1.6 1-1.6 1.4-1.1 2.7-.4 3.7 .6 1.5-.2 4.9-3 3.3-4 1 0 3.8 2.2 2.1 .3 5.2-.9 6.1-2 5.6-3.3 3.5-3.4 3.2-1.5 1.3-1.5-.2-1.6-3.6-4.3 0-3.2-1.2-3.3-.9-8.5 .7-4.8 .2-10.2 .8-4.3 1.3-2.4 2.1-.8 1.1-.9 .6-1.8 0-2.6-1.8-6.5-2.6-3.2-1.9-5.3 .8-3.2 3.4-4.9-1.2-2.4-4.5-4.5 .5-4.8-1.5-6.4 .8-4.3 1.5-1.9 2.1-1.6 1.7-3-1.1-.9-3.8-.8-2.6-2-1.2-2.7-1.1-6.9-1-1.7-1-.2-3.3 1.6-2.1-.3-3.2-4.1-2.3-1.8-.5-2.1-2.6-.8-3.2-2.3-2.1-.2-1.1 .7 .6 6.4-.7 1.6-2 2.6-2.2 1.4-6 1.8-1 4.3-4.9 8.6-2.7 7.5-3.4 6.9-4 5.9 .4 3.2 1.9 5.4-1.6 6.9 .2 6.5 1.6 5.3-.9 6.4 .2 2.7 3.1 5.4 1 3.7-1.1 4.3-.1 14.4-.9 2.7-.9 6.4 1.3 2.2 .6 3.2 0 7.5 3.2 5.9-.5 3.2 1.8 4.8-.5 4.3zM467.3 493.7l1.1-1.1-.5-1.1-1.3 1.1 .2 .8zM412.2 492.9l.5 .2 .7-.5-.2-1.7-1.4 .6-.1 .6zM414.3 361l1.9 0 1-1.1 .2-1.1-1-.2-2.1 .5-.4 .8zM457.7 357.9l1 .3 .6-.4 .5-1.7-.2-1.6-1.9-3.2-3.8-2.9-1.6-.2-1.9 1-1 2.1-.8 4.8 2.6 1.3 4.3-.1zM419.1 356.6l3.8-1 3.2 .5 1.1-.7 .1-1.4-1.1-1.1-2.3-.3-2.1 .8-2.7-.1-.9 1.2z"/><path id="p2_5" d="M421.8 495.9l4.3-.5 4.3 .7 5.1-3 3.4-4.4 1.1-.8 1.1 .4 2.5 2.7 2.3 .7 4.3-.1 7.5-2.2 1.6-.7 4.7-3.6 2.8-3.5 2.6-1.4 .7-1-.4-1-3.3-3.3-.6-1 .6-3.2-.8-2.7-.8-6.4 .6-7.5-.3-4.3 1.2-10.7 .8-2.2 2.9-2.6 .3-1.1-.8-6.4-3.2-5.4-1.8-4.3 1.3-4.8 3.2-3.2 .5-1.6-1.1-1.7-3.8-2.9-1-1.3 .1-5.3-.9-5.4 .5-4.8 3.7-6.4-1.1-1.1-1.8-.4-2.7-1.9-3.7-10.5-3.8 .7-1.6-.3-3.7-4-3.2-1.8-1.4-2.1-3.5-1.6-1 .2-1.1 5.1-3.2 3.8-7.5 4-1.7 4-4.7 7.9-1.2 4.4-3.5 8-4.9 8.1 .3 2.6 2 5.4-1.7 6.4-.2 5.4 1.8 6.4-.7 6.9 .2 2.2 3 5.9 .9 3.7-1.1 4.8 .4 9.1-.3 4.3-1 3.8-.5 4.8 1.2 2.6 .7 3.8 .2 7.5 3.6 5.3 .8 2.4zM453.9 356.7l4.3 .2 .7-.8 .1-1.6-1.2-2.6-1.2-1.4-2.2-1.6-2.1-.4-1.5 .7-.6 .9-.1 3.9 1.1 2z"/><path id="p2_6" d="M428.2 494.3l1.6 .2 3.9-1.9 3.6-3.6 1.6-2.6 1.1-.7 2 .5 1.7 3.4 2.7 1.4 4.8 0 7.5-2.2 5.4-4.6 2.9-6-2.8-3.3-.4-1 1.1-3.8-.8-8.5 .5-7.5-.6-4.3 .9-4.3 .5-7.5 1.8-4.3 .5-6.9-.9-2.1-3.3-4.6-.2-3.5 1.7-4.8 3.4-3.5 .1-.8-5.3-4.3-.6-1.6-.6-13.9 1.8-5.9-1.1-2.1-2.3-2.7-1.5-4.8-1.8-3.5-1.6-1-3.7-.5-3.8-3.8-2.8-1.4-3.1-2.2-7.5 7.1-4.8 2.6-1.6 1.4-6.4 10.7-1.2 5-2.7 6.5-3.3 6.4-1.8 2.1-.2 1.1 .1 2.1 2.1 5.4-2.1 11.8 1.7 6.4-.4 8 3.7 10.2-1 5.3 .8 11.8-1.6 5.3-.1 4.3 1.3 3.2 .5 3.8 0 6.4 2.1 3.8 3.3 3.2 .9 .3 2.7-.5zM452.8 355.8l4.3 .1 1.2-1.4-.6-2.1-1.1-1.5-2.2-1.7-1.6-.4-1.6 .4-.7 1.6 .4 3.2 .7 1.1z"/><path id="p2_7" d="M429.8 491l1.6 .4 1.1-.5 3.7-2.9 1.5-2.4 3.4-2.9 2.1 2.3 1.9 3.9 1.3 1 3.2 .9 4.8-.7 4.9-1.7 1.4-1.2 2.6-3.2 .8-2.1 0-3.2-1.8-3.8-.4-2.6 1.6-6.5-.3-7.5 .4-4.8-.7-4.2 1.2-4.3 .4-3.2-.2-4.3 1.1-5.4-1-6.4-1.6-3.2-.4-5.9 1.1-4.3 1.8-3.7-1.3-2.7-2.2-2.7-.1-8-.7-7.5 .3-4.8-5.3-13.2-1.4-.7-2.8-.3-4.3-4.1-4.3-2-3.7 .9-9.1 6.7-2.1 2-5.2 8-2.7 8.6-3.9 9.1-.4 2.7-1.8 1.2-.6 1.4 .1 1.6 2 5.9-.5 4.8-1.8 7 1.3 5.3-.3 8.1 3.6 10.7-.9 5.9 .2 4.8 1.2 6.4-1.9 5.9 .4 4.8 .8 1.6 .5 3.8 .2 6.9 1.1 2.2 2.1 1.5 1.6 .4zM453.4 355.2l3.2-.1 .7-.6 .2-1-1.4-2.7-1.7-1.3-2.1-.4-1.4 1.1 .1 1.7 .8 2.1z"/><path id="p2_8" d="M423.9 489.9l4.3 .1 3.2-.9 3.2-2.4 4.3-5 2.2-.5 1.6 1.2 .3 1.1 4 5.6 2.6 1.2 4.7-.4 4.8-1.6 1.3-1.1 2-3.2 .5-1.6-.1-2.6-2-7 .3-3.7 1.5-5.4 .4-10.2-.6-4.2 1.4-7.5-.2-4.3 .4-5.4-1.1-8-.6-1.6-.4-6.4 1.1-7-1.7-5.3-.6-15-2.7-11.3-2.5-3-1-3.4-2.7-1.1-4.8-4.4-3.8-1.9-3.2 .2-3.1 1.9-7.1 5.6-2.3 2.9-4 6.5-5.4 14.9-.6 5.5-1.9 3.6 1 4.3 .2 4.3-2 8.6 .4 6.4-.2 7.5 3.4 10.7-.8 5.9 .2 4.2 1.4 7-1.6 5.4 .2 4.8 1.2 5.3 0 5.4 .5 2.1 1.6 2.2zM453.9 354.6l1.6-.1 1-.5 .2-1.6-.5-1.1-1.8-1.5-2.1-.3-1 .7 .4 2.2 1 1.6z"/><path id="p2_9" d="M449.1 489.4l1.6 .4 3.7-.3 4.3-1.6 1.6-1.7 1.6-3 0-3.4-1.6-7 .3-3.7 1.6-5.9 .4-9.7-.6-4.2 1.3-7.5 0-11.3-1.3-8-.4-5.9 .3-6.9-.9-5.9-.6-14.5-1.6-5.9-1.9-5.3-2.2-3.2-1.3-3.3-2.2-1.2-4.8-4.2-3.2-1.6-1.6-.2-1.6 .3-2.7 1.6-8 6.4-4.6 7-4.4 11.2-1.8 5.4-.4 4.8-.9 3.7 .2 8.6-1.7 7.5-.4 3.7 .2 11.3 3.2 10.1-.7 6.5 .2 4.2 1.4 7-1.5 6.4 .4 3.8 .8 1.6 .7 3.7 .2 5.4 .8 2.6 .8 .7 2.7 .9 3.2 0 2.1-.5 3.7-2.1 2.4-3.2 2-1.6 1-.7 2.2-.2 1 .3 1 1.1 3.9 6.2zM453.4 353.5l2.1 0 .4-1.6-1.5-1.7-2.1-.3-.4 .3 .1 1.1z"/><path id="p2_10" d="M451.2 488.3l2.7-.1 4.3-1.9 2.3-3.3 .4-1.6-1.3-8.1 .5-4.2 1.7-6.5 .4-8.5-.5-4.8 1.2-7.5 .1-9.7-1.4-9.6-.2-12.8-.8-5.9-.1-8.6-.6-5.9-1.6-5.9-1.9-4.8-3.6-6-3.2-2.1-3.7-3.3-4.3-1.6-3.7 1.8-1.7 1.6-5.8 4-1.6 1.7-3.8 5.6-4.2 10.6-1.6 5.4-.5 5.3-.7 2.7-.1 9.6-2 10.7 .3 10.7 3.1 10.7-.8 6.5 .1 3.7 1.5 7.5-1.2 6.4 .9 3.2 1.1 2.2 .8 3.7 .2 4.8 .8 2.2 2.3 1 2.7-.3 4.3-2 3.1-3 2.8-1.8 3.7-.5 2.1 1.6 4.3 5.9zM453.9 352.5l1.1-.3 .1-.9-1.2-1-1.2-.1-.1 1.1z"/><path id="p2_11" d="M450.7 485.8l2.7 .2 2.6-.7 1.2-.7 1.4-2.2 .5-2.1-.7-6.4 2.9-11.3 .4-7.5-.5-5.8 1.3-8.1 0-9.6-1.3-9.1-.2-12.3-1-8.6 0-5.9-1.2-8.5-3.3-8.6-4-5.3-6.7-5-3.2-1-3.2 1.5-8.7 6.6-3.7 4.8-4.4 10.7-1.6 5.9-1.3 11.2 0 5.9-1.6 7.5-.3 3.8 .4 9.6 2.8 11.2-.9 7 1.7 10.7-.5 6.4 2.4 5.4 1.4 8.5 1.4 .9 3.3-.7 8-5.1 1.6-.6 2.7-.1 2.1 .7 3.8 4.4z"/><path id="p2_12" d="M451.2 483.7l1.6 0 1.6-.6 1.3-1.2 .9-3.2 .1-4.3 2.9-7 1.2-5.8 .3-6.5-.4-6.4 1.3-7.5 0-9.6-1.2-9.1-.3-12.3-1-8.6-.2-5.9-1.1-8-1.1-3.7-2.1-4.6-4.5-5.1-6.8-4.4-2.1-.6-2.1 .9-7 4.5-4.7 5-3 5.3-3 8.1-2.1 15.5-.1 5.9-1.7 11.2 .5 9.1 2.5 10.7-.9 7.5 .1 2.7 1.6 8 .2 7 2.5 4.2 2.2 6.9 1.6 .1 8.6-4.7 4.3-.2 3.1 1.2 4.8 4.2z"/><path id="p2_13" d="M451.8 479.4l.6-.2 2.2-4.8 4.4-7 1.4-8.5-.4-11.3 1.4-6.9-.1-9.1-1-8.6-.3-10.7-1.4-16.6-1.2-8-1.4-4.2-1.6-2.9-5.3-5.4-7.5-3.6-4.3 1.9-8.4 7.3-3.1 4.8-3 7.5-.9 6.9-.2 5.9-1.1 3.8-.2 6.9-1.3 9.1 .6 9.1 2.2 10.7-1 7.5 .1 2.7 2.6 15 4.6 6.6 9.7-2.2 4.2 .5 4.3 1.2 3.4 1.4z"/><path id="p2_14" d="M449.1 475.6l2.1 0 5.9-6.4 1.4-2.3 1.2-8.6-.5-10.7 1.5-7.4-1.2-27.3-2.3-21.4-1.9-7.5-1.9-2.7-5.8-5.4-6-1.8-2.7 .9-4.3 4.2-2.1 .8-2.7 1.9-2.9 4.2-2.9 7.5-.9 6.4 0 6.4-1.5 3.8 0 6.4-1.2 9.6 .5 8.1 2.1 10.7-1 10.1 2.5 12.7 1.8 3.4 3.5 1.9 8.1-.1 8 1.5z"/><path id="p2_15" d="M448 473l2.2 0 1.6-1.5 3.2-1.6 2.9-3 1.2-9.1-.6-10.7 1.5-6.9-.6-21.5-.9-10.7-2.2-16.5-1.5-6.5-1.4-2.1-6.4-5.1-2.7-1-2.7-.1-2.1 .7-3.8 3.4-4.3 1.8-2 1.9-1.9 3.2-2.9 9.1-.3 9.6-1.5 4.3 .1 6.4-1.1 8.6 .7 11.8 1.7 9.6-.9 3.8-.1 4.2 .7 5.9 1.7 5.4 1.6 2 9 2.7 2.2 0 3.2 .9 3.7-.1z"/><path id="p2_16" d="M439.5 470.8l3.7 .3 7-1 4.2-1 2.2-1.3 .9-1.4 .2-4.3 1-4.3-.1-8-.5-2.7 1.3-6.9-.4-21.5-.4-1.6-.5-9.1-2.9-19.2-1-3.2-1.4-2.1-6.9-4-2.7-.8-3.7 .6-3.8 2.5-4.3 2-1.6 1.5-1.7 2.9-2.7 9.1-.4 10.2-.9 2.7-.3 6.9-.9 5.4 .2 15 1.9 9.6-.9 5.9 .3 7.5 .8 2.7 1.1 2.6 1.9 1.9 5.9 2z"/><path id="p2_17" d="M440 470.3l3.2 .2 6.4-1 4.8-1 2.5-1.6 .4-4.8 1.1-4.3-.1-8-.5-3.2 1.2-6.4-.3-21.5-.9-10.7-3.1-18.7-1.2-3.7-1.2-1.6-6.4-3.4-3.2-.9-2.7 .3-3.8 2.5-4.8 2.2-2.6 3.8-2.9 8.8-.6 10.7-.6 1.7-.5 7.4-.9 5.4 .2 15 1.8 9.6-.7 6.4 .2 7 .7 2.4 1.4 2.9 1.3 1.3 6.4 2.1z"/><path id="p2_18" d="M440.5 469.7l5.9-.4 7.5-1.3 2.6-1.6 .4-4.3 1.3-4.3-.1-7.5-.6-3.7 1.1-7-.3-20.3-1-11.3-1.9-11.7-1.5-6.4-2.1-4.7-6.5-3.6-2.6-.9-2.2 .4-8.5 4.8-3.1 5-2.4 6.4-.8 10.7-.7 2.2-.4 7.5-.9 4.8 .2 14.4 1.8 10.2-.8 4.3 .1 6.9 1 4.3 1.2 2.7 1.6 1.3 5.8 1.9z"/><path id="p2_19" d="M440 468.5l2.1 .4 4.3-.5 7-1.2 1.7-.8 .8-1.1 2-9.1-.8-9.6 1.1-7-.1-13.9-1.2-17.1-1.2-8-3.3-10.7-1.7-3.2-5.9-3.6-2.7-.8-3.2 1.3-5.9 3.5-2.8 3.8-2.2 4.3-1.5 5.9-.3 6.4-.8 3.2-1.2 11.8 .3 13.9 1.5 10.2-.8 5.9 .6 8 1.6 3.7 1.4 1.5 6.4 2.1z"/><path id="p2_20" d="M440 467.5l2.1 .2 6.5-.6 5.8-1.6 2.4-5.5 .9-4.3-1-9.1 .9-7-.1-13.9-1.3-17.1-1.2-8-1.1-3.8-4.8-8.7-4.8-3.3-2.2-.6-2.6 .8-5.4 3.2-2.8 3.3-2.5 4.1-1.6 6-.4 5.9-.9 3.8-1 11.7 .3 13.4 1.3 10.2-1 5.9 .7 7.5 1.9 3.7 1.2 1.2 5.9 2z"/><path id="p2_21" d="M438.9 466.4l2.7 .2 6.4-.5 5.4-1.5 2.8-4.6 1.1-4.3-1.1-9.1 .6-7.5 .1-13.9-1.4-16.6-1.2-7.5-1.5-4.2-5.3-7.4-3.2-2.3-2.2-.8-1.6 .3-5.9 3.3-3.2 3.4-1.8 2.9-1.6 5.3-.6 5.9-.9 3.8-.8 11.2 .2 13.4 1.2 10.7-1.1 5.9 .5 6.4 1.7 3.3 1.6 1.8 5.4 1.9z"/><path id="p2_22" d="M438.4 465.3l3.2 .2 5.9-.6 4.5-1.2 3.5-3.9 1.4-4.1 0-2.7-1.3-5.9 .5-21.9-1.1-9.7-.1-4.8-1.5-9.6-1.6-3.8-3.2-2.9-2.8-4-1.5-1-2.2-.5-2.6 .7-3.8 2-4.8 4.7-2.5 7.5-1.7 12.8 0 19.3 .9 11.2-1.1 5.4 .5 5.8 2.3 3.7 1.4 1.2z"/><path id="p2_23" d="M438.9 464.2l5.4 0 6.7-1.6 4.4-3.7 1.2-3.8-1.4-7.5 .1-21.9-1-10.2 0-4.2-1.1-7.5-2-5.6-4.5-3.5-2.4-3.2-1.6-.6-3.2 .7-6.5 4.4-1.6 1.9-2.2 5.9-1.9 12.8 .1 23.6 .7 8-1.1 4.3 0 3.7 .7 2.1 2.7 3.2 2.1 1.2z"/><path id="p2_24" d="M438.4 463.4l5.3 .1 6.5-1.5 4.6-3.1 1.5-3.8-1.5-7.5-.6-30.5-1.5-13.3-1.2-3.8-.9-1.6-3.1-1.4-5.4-4-1.6 .3-4.8 3.5-1.6 .3-1.9 1.3-2.4 5.9-1.6 8-.5 4.8 .1 23.1 .5 1.6 .1 6.4-1.1 4.8 .1 3.2 .8 2 2.7 2.7 2.1 1.1z"/><path id="p2_25" d="M438.4 462.7l5.3 .3 6.5-1.7 4.2-2.7 1.5-3.5-1.3-7.5-.7-30.5-1.5-12.8-1.2-3.7-1-1.9-2.7-1.1-5.4-3.3-1.6 .2-4.8 3.1-1.6 .2-1.6 1.1-2.3 5.4-1.7 8-.4 4.8 0 23.1 .4 1.6 .2 6.9-1 4.3 0 2.7 .8 2.1 2.4 2.4 2.1 1.2z"/><path id="p2_26" d="M439.5 462.2l3.7 .1 7-1.9 3.7-2.3 1.5-3.5-1.2-7-1-35.8-1.3-7.5-1.2-3.7-1.1-1.6-2.6-1.1-3.3-2.2-2.1-.7-8.6 4.3-2.5 5.5-1.6 7.5-.4 4.8 .3 7.5-.4 15 .7 9.1-.9 4.3 .1 2.7 1 2 2.6 2.3 1.7 .8z"/><path id="p2_27" d="M438.9 461.1l4.3 .2 6.4-1.9 3.6-2.1 1.3-3.2-.7-5.9-1-35.9-.6-4.3-1.5-5.5-1.2-2.5-5.3-3.2-2.6-1-5.4 3-2 .7-1.7 2.2-1.4 3.1-1.8 7.5-.4 5.4 .5 6.9-.6 15 .8 9.7-.7 4.2 .2 1.6 1.1 2.2 2.7 2.1z"/><path id="p2_28" d="M437.9 460l5.3 .2 5.9-2.1 3.2-1.9 .9-1.6 .2-2.1 0-17.2-1.1-12.8 0-10.2-.6-3.7-1.8-5.9-1.1-2.1-5.1-3-2.1-.7-7 3.6-1.4 1.7-1.4 2.6-2.1 8.6-.2 4.8 .6 7-.8 14.4 .9 9.7-.3 4.8 1 2.2 1.6 1.6 1.6 1z"/><path id="p2_29" d="M437.9 459l6.4-.2 6.3-3.1 1.6-3.2 .7-5.4 0-11.8-1.3-12.3 .1-10.7-.5-3.2-2-5.9-1.2-2.1-5.9-2.9-1.6 .4-4.8 2.6-2.1 2-1.1 2.2-2.1 8.1 .4 17.6-1 8.5 1.3 13.9 .5 1.6 1.4 1.7z"/><path id="p2_30" d="M437.9 457.9l2.1 .2 3.7-.4 5.3-2.6 2.3-3.7 1-4.8 .2-10.7-1.7-12.3 0-12.9-1.5-4.8-1.8-3.6-3.2-2.1-2.2-.7-3.2 1-4.4 3.3-1.2 2.1-2.3 8 .5 17.7-1.1 8 1.5 12.3 1.7 3.7z"/><path id="p2_31" d="M438.9 456.8l4.3-.3 4.8-2.4 2.8-3.8 1.1-3.7 .2-10.7-1.7-11.3 0-13.3-1.5-4.3-1.9-3.5-2.7-2.1-2.2-.5-3.2 .8-3.7 3.1-2.5 5.4-1 4.8 .4 10.7-.2 7-.6 2.1-.3 4.8 .8 7.5 1 4.3 1.6 3.2 1.8 1.3z"/><path id="p2_32" d="M440 455.8l3.2-.2 4.3-2.3 2.7-3 1.3-3.7 .2-10.7-1.6-10.7-.1-13.9-1.1-3.3-1.8-3.2-1.8-1.8-2.6-1.1-3.2 .4-3.3 2.5-3 5.4-.9 4.8 .2 11.2-1.1 13.4 .8 7.5 1.1 3.8 1.9 2.5 2.1 1.5z"/><path id="p2_33" d="M440.5 455.2l2.2-.1 2.6-1 2.2-1.5 2.1-2.3 1.5-3.7 .2-4.3 .2-6.4-1.6-10.7-.1-13.4-1.3-3.8-1.6-2.6-2.1-2.2-2.1-.7-2.7 .1-2 1.2-2.8 3.2-1.6 3.2-.8 3.2 0 12.8-1 10.7 0 5.4 .8 4.8 1.3 3.8 1.3 1.6 2.1 1.6z"/><path id="p2_34" d="M440.5 454.6l2.2-.1 2.2-1 4.1-3.7 1.7-3.8 .4-5.8 .1-4.3-1.6-10.7-.1-13.4-1.4-3.8-1.7-2.6-1.7-1.6-2-.8-2.7 .2-1.6 .9-2.7 2.9-1.9 3.7-.7 2.7-.1 12.8-1 10.7 .2 5.4 .8 4.7 1.6 3.9 3 2.6z"/><path id="p2_35" d="M440.5 453.7l1.6 0 2.7-1.1 3.9-3.9 1.4-3.2 .8-8-1.6-13.9-.2-11.8-1.3-3.2-1.9-2.9-1.6-1.5-1.6-.6-2.7 .4-2.5 1.9-2.3 2.9-1.7 4.1-.6 20.3-.6 3.7 .3 5.4 1 4.2 1.8 3.8 2.5 2.3z"/><path id="p2_36" d="M440.5 452.5l1.6 .1 2.2-.8 1.9-1.5 1.7-2.1 1.5-3.2 1.2-8.1-1.7-13.9-.3-11.2-1.4-3.2-1.9-2.3-1.6-1.4-1.6-.4-2.6 .8-2.7 2.3-1.6 2.4-1.3 3.4-.6 19.8-.6 3.7 .3 4.9 1.5 4.8 2.3 3.7 2.1 1.7z"/><path id="p2_37" d="M440 450.9l1.6 .4 2.1-.4 3.1-2.7 2-3.8 1.4-7.5-1.6-13.3-.4-11.3-.8-2.1-1.5-2.2-2.2-1.9-1.6-.5-2.1 .5-3.5 3-2 4.3-.5 3.2-.6 23.6 1.8 5.7 2.4 3.4z"/><path id="p2_38" d="M442.1 449.8l1.6-.2 1.4-.9 2.4-3.4 1.4-3.5 .8-5.4-2.1-24.1-.6-1.7-1.7-2.1-3.2-1.6-1.6 .2-2.6 1.6-1.6 2-1.3 3.2-.8 7.5-.6 15.5 .8 4.9 1.3 3.1 2.8 3.3 1.6 1.1z"/><path id="p2_39" d="M441.6 448.2l1.6 .2 1.1-.5 2.7-3.4 1.4-3.3 .9-4.8-1.7-22.5-.9-2.6-1.4-1.7-3.2-1.5-1.6 .2-2.1 .9-2.3 3.1-1.3 4.8-.8 11.3 0 8 .9 4.8 1.2 2.7 1.2 1.3 1.6 1.6z"/><path id="p2_40" d="M441.6 447.2l2.1-.4 2.9-2.9 1.3-2.7 1.1-4.8-.1-5.3-1-7.5 0-5.4-.6-4.3-1.1-2.6-.9-1.1-1-.9-2.2-.6-3.2 .7-2.4 2.9-1.3 4.8-1 11.3 .1 8 1 4.8 1.5 2.6 2.1 2.1z"/><path id="p2_41" d="M441.1 446.6l2.6-.5 2.7-2.6 1.7-3.9 .6-3.2 .1-5.3-1.8-17.2-1.7-3.3-1-.9-2.2-.6-3.7 1.1-.9 1.1-1.3 2.6-1.4 8.1-.4 6.4 .1 8 .6 3.2 1.8 3.8 2.6 2.4z"/><path id="p2_42" d="M441.6 446.1l2.7-1 1.7-1.7 1.2-2.2 1.3-4.8 .1-4.3-1-8.5-.1-5.4-.6-3.7-2.1-3.9-3.2-1.1-3.2 1.2-2 3.8-1.4 7.5-.4 6.4 .2 8 .7 3.2 2 3.8 2 1.7z"/><path id="p2_43" d="M441.1 445.2l1 .2 1.6-.7 2.7-3 1.7-5.3 .3-3.7-1-9.1 0-4.9-.9-4.2-1.7-3.3-1.1-.7-2.1-.4-2.7 .9-2.2 3.5-1.6 7.5-.3 6.4 .2 7.5 .7 3.2 2.2 3.7z"/><path id="p2_44" d="M441.6 444.5l2.7-1 2.1-2.8 1.4-4.8 .3-3.8-.8-8-.1-4.8-1.1-4.8-1.8-2.9-2.7-.9-2.7 1.1-1.7 2.7-1 2.6-.9 4.9-.3 6.9 .2 5.4 1 4.7 2.2 3.4z"/><path id="p2_45" d="M441.1 443.4l1 .1 1.6-.6 1.9-2.2 1.1-2.2 1.2-6.4-1-13.4-1.1-3.7-1.3-2.1-1.3-1.3-1.6-.2-2.3 .9-2.8 4.8-1 4.9-.2 6.4 .1 5.3 1.2 4.8 2.3 3.4z"/><path id="p2_46" d="M441.1 442.3l2.1-.1 2-2 .9-1.7 1.5-6.4-.8-12.8-2-5-1.6-1.8-1.6-.5-1.6 .6-1.9 2.4-1.6 3.2-.9 4.3 .1 10.7 .5 2.5 2.2 4.4 1.1 1.3z"/><path id="p2_47" d="M441.1 441.3l2.1-.2 1.6-1.8 .8-1.3 1.7-5.9-.8-12.8-1.9-4.3-1.9-2.1-1.1-.3-1.6 .9-2.6 3.6-1.5 5.4 .2 11.2 1.8 4.5 2 2.5z"/><path id="p2_48" d="M440.5 440.3l2.2 .1 2.1-2.2 2.1-6.6-.7-12.3-1.9-4.1-1.6-1.7-1.1-.4-2.1 1.6-1.8 2.4-1.6 4.9 .4 11.7 1.4 3.6z"/><path id="p2_49" d="M440.5 439.7l2.2 0 1.6-1.7 2.1-6.4-.5-11.8-1.9-4.3-2.4-2-1.9 1.5-1.5 2.1-1.8 4.9 .6 11.2 1.2 3.7z"/><path id="p2_50" d="M441.1 439.3l1.6-.2 1.3-1.6 1.7-7-.5-10.7-1.8-4.3-1.8-1.4-1.7 1.4-1.4 2.2-1.6 4.3 .2 6.4 .7 4.8 1.1 3.7z"/><path id="p2_51" d="M441.1 438.6l1.1-.1 1.3-1.6 1.5-7.4-.6-9.7-1.4-3.7-1.4-1.2-1.1 .8-1.2 2-1.6 4.8 .1 5.9 .7 4.3 .9 3.7z"/><path id="p2_52" d="M441.6 437.7l1.2-1.3 1.3-5.3 .2-2.7-.6-8.3-1-3-1.1-1.1-1.8 2.2-1.3 4.3 .1 5.3 .7 4.3 .9 3.8z"/><path id="p2_53" d="M441.6 435.2l1.6-4 .3-2.8-.5-8-1.4-2.8-1.1 1.1-.7 1.7-.5 5.8 .7 5.2z"/><path id="p2_54" d="M441.1 431.1l.5 .4 .5-.5 .7-2.6-.6-7-.6-1.4-1.1 1.9-.4 3.8 .3 3.2z"/><path id="p2_55" d="M441.6 428.1l.4-1.9-.4-1.6-.6 1.6z"/></defs><use href="#p2_0" fill="#6300ff"/><use href="#p2_1" fill="#4c00ff"/><use href="#p2_2" fill="#3600ff"/><use href="#p2_3" fill="#1f00ff"/><use href="#p2_4" fill="#0900ff"/><use href="#p2_5" fill="#000eff"/><use href="#p2_6" fill="#0023ff"/><use href="#p2_7" fill="#0039ff"/><use href="#p2_8" fill="#004fff"/><use href="#p2_9" fill="#0065ff"/><use href="#p2_10" fill="#007bff"/><use href="#p2_11" fill="#0091ff"/><use href="#p2_12" fill="#00a7ff"/><use href="#p2_13" fill="#00bdff"/><use href="#p2_14" fill="#00d3ff"/><use href="#p2_15" fill="#00e1f6"/><use href="#p2_16" fill="#00e4de"/><use href="#p2_17" fill="#00e7c6"/><use href="#p2_18" fill="#00eaaf"/><use href="#p2_19" fill="#00ed97"/><use href="#p2_20" fill="#00f080"/><use href="#p2_21" fill="#00f268"/><use href="#p2_22" fill="#00f550"/><use href="#p2_23" fill="#00f839"/><use href="#p2_24" fill="#00fb21"/><use href="#p2_25" fill="#00fe09"/><use href="#p2_26" fill="#0eff00"/><use href="#p2_27" fill="#26ff00"/><use href="#p2_28" fill="#3eff00"/><use href="#p2_29" fill="#55ff00"/><use href="#p2_30" fill="#6dff00"/><use href="#p2_31" fill="#84ff00"/><use href="#p2_32" fill="#9cff00"/><use href="#p2_33" fill="#b4ff00"/><use href="#p2_34" fill="#cbff00"/><use href="#p2_35" fill="#e3ff00"/><use href="#p2_36" fill="#fbff00"/><use href="#p2_37" fill="#ffeb00"/><use href="#p2_38" fill="#ffd200"/><use href="#p2_39" fill="#ffb900"/><use href="#p2_40" fill="#ffa000"/><use href="#p2_41" fill="#ff8700"/><use href="#p2_42" fill="#ff6e00"/><use href="#p2_43" fill="#ff5500"/><use href="#p2_44" fill="#ff3c00"/><use href="#p2_45" fill="#ff2300"/><use href="#p2_46" fill="#ff0a00"/><use href="#p2_47" fill="#ff0000"/><use href="#p2_48" fill="#ff0000"/><use href="#p2_49" fill="#ff0000"/><use href="#p2_50" fill="#ff0000"/><use href="#p2_51" fill="#ff0000"/><use href="#p2_52" fill="#ff0000"/><use href="#p2_53" fill="#ff0000"/><use href="#p2_54" fill="#ff0000"/><use href="#p2_55" fill="#ff0000"/><use href="#p2_0" fill="none" stroke="#000" stroke-width="0.8"/><use href="#p2_8" fill="none" stroke="#000" stroke-width="0.8"/><use href="#p2_16" fill="none" stroke="#000" stroke-width="0.8"/><use href="#p2_24" fill="none" stroke="#000" stroke-width="0.8"/><use href="#p2_32" fill="none" stroke="#000" stroke-width="0.8"/><use href="#p2_40" fill="none" stroke="#000" stroke-width="0.8"/><use href="#p2_48" fill="none" stroke="#000" stroke-width="0.8"/>
<ellipse cx="411.8" cy="343.3" rx="1.1" ry="0.9" fill="#000"/><ellipse cx="407.8" cy="348.4" rx="1.1" ry="0.9" fill="#000"/><ellipse cx="438.8" cy="344" rx="1.1" ry="0.9" fill="#000"/><ellipse cx="478.1" cy="388" rx="1.1" ry="0.9" fill="#000"/><ellipse cx="390.1" cy="421.5" rx="1.1" ry="0.9" fill="#000"/><ellipse cx="390.9" cy="443.8" rx="1.1" ry="0.9" fill="#000"/><ellipse cx="395.6" cy="451" rx="1.1" ry="0.9" fill="#000"/><ellipse cx="401.7" cy="456.4" rx="1.1" ry="0.9" fill="#000"/><ellipse cx="402.4" cy="484.6" rx="1.1" ry="0.9" fill="#000"/><ellipse cx="487.5" cy="474.5" rx="1.1" ry="0.9" fill="#000"/><ellipse cx="473" cy="440.2" rx="1.1" ry="0.9" fill="#000"/><ellipse cx="376.4" cy="507" rx="1.1" ry="0.9" fill="#000"/><ellipse cx="468.4" cy="512.3" rx="1.1" ry="0.9" fill="#000"/>
<line x1="344.3" y1="424.50" x2="538.9" y2="424.50" stroke="#000" stroke-width="1" stroke-dasharray="1 1.15"/>
<line x1="441.50" y1="326.8" x2="441.50" y2="521.4" stroke="#000" stroke-width="1" stroke-dasharray="1 1.15"/>
<path d="M380.50,531.13 L381.65,529.78 L382.80,528.42 L383.94,527.07 L385.08,525.71 L386.20,524.36 L387.32,523.00 L388.44,521.65 L389.54,520.29 L390.64,518.94 L391.72,517.58 L392.80,516.23 L393.88,514.87 L394.94,513.52 L396.00,512.16 L397.05,510.81 L398.09,509.45 L399.12,508.10 L400.14,506.74 L401.16,505.39 L402.16,504.03 L403.16,502.68 L404.15,501.32 L405.13,499.97 L406.10,498.61 L407.07,497.26 L408.02,495.90 L408.97,494.55 L409.91,493.20 L410.83,491.84 L411.75,490.49 L412.66,489.13 L413.56,487.78 L414.45,486.42 L415.33,485.07 L416.20,483.71 L417.06,482.36 L417.91,481.00 L418.75,479.65 L419.59,478.29 L420.41,476.94 L421.22,475.58 L422.01,474.23 L422.80,472.87 L423.58,471.52 L424.35,470.16 L425.10,468.81 L425.85,467.45 L426.58,466.10 L427.30,464.74 L428.01,463.39 L428.71,462.03 L429.39,460.68 L430.06,459.33 L430.72,457.97 L431.37,456.62 L432.00,455.26 L432.62,453.91 L433.23,452.55 L433.82,451.20 L434.39,449.84 L434.95,448.49 L435.50,447.13 L436.03,445.78 L436.54,444.42 L437.04,443.07 L437.52,441.71 L437.98,440.36 L438.43,439.00 L438.85,437.65 L439.25,436.29 L439.63,434.94 L439.99,433.58 L440.32,432.23 L440.63,430.87 L440.90,429.52 L441.15,428.16 L441.35,426.81 L441.51,425.45 L441.60,424.10 L441.69,425.45 L441.85,426.81 L442.05,428.16 L442.30,429.52 L442.57,430.87 L442.88,432.23 L443.21,433.58 L443.57,434.94 L443.95,436.29 L444.35,437.65 L444.77,439.00 L445.22,440.36 L445.68,441.71 L446.16,443.07 L446.66,444.42 L447.17,445.78 L447.70,447.13 L448.25,448.49 L448.81,449.84 L449.38,451.20 L449.97,452.55 L450.58,453.91 L451.20,455.26 L451.83,456.62 L452.48,457.97 L453.14,459.33 L453.81,460.68 L454.49,462.03 L455.19,463.39 L455.90,464.74 L456.62,466.10 L457.35,467.45 L458.10,468.81 L458.85,470.16 L459.62,471.52 L460.40,472.87 L461.19,474.23 L461.98,475.58 L462.79,476.94 L463.61,478.29 L464.45,479.65 L465.29,481.00 L466.14,482.36 L467.00,483.71 L467.87,485.07 L468.75,486.42 L469.64,487.78 L470.54,489.13 L471.45,490.49 L472.37,491.84 L473.29,493.20 L474.23,494.55 L475.18,495.90 L476.13,497.26 L477.10,498.61 L478.07,499.97 L479.05,501.32 L480.04,502.68 L481.04,504.03 L482.04,505.39 L483.06,506.74 L484.08,508.10 L485.11,509.45 L486.15,510.81 L487.20,512.16 L488.26,513.52 L489.32,514.87 L490.40,516.23 L491.48,517.58 L492.56,518.94 L493.66,520.29 L494.76,521.65 L495.88,523.00 L497.00,524.36 L498.12,525.71 L499.26,527.07 L500.40,528.42 L501.55,529.78 L502.70,531.13" fill="none" stroke="#fff" stroke-width="1.45" stroke-linejoin="miter"/>
</g>
<path d="M344.30,521.4v-8M344.3,521.40h8M354.03,521.4v-4.5M344.3,511.67h4.5M363.76,521.4v-4.5M344.3,501.94h4.5M373.49,521.4v-4.5M344.3,492.21h4.5M383.22,521.4v-4.5M344.3,482.48h4.5M392.95,521.4v-8M344.3,472.75h8M402.68,521.4v-4.5M344.3,463.02h4.5M412.41,521.4v-4.5M344.3,453.29h4.5M422.14,521.4v-4.5M344.3,443.56h4.5M431.87,521.4v-4.5M344.3,433.83h4.5M441.60,521.4v-8M344.3,424.10h8M451.33,521.4v-4.5M344.3,414.37h4.5M461.06,521.4v-4.5M344.3,404.64h4.5M470.79,521.4v-4.5M344.3,394.91h4.5M480.52,521.4v-4.5M344.3,385.18h4.5M490.25,521.4v-8M344.3,375.45h8M499.98,521.4v-4.5M344.3,365.72h4.5M509.71,521.4v-4.5M344.3,355.99h4.5M519.44,521.4v-4.5M344.3,346.26h4.5M529.17,521.4v-4.5M344.3,336.53h4.5M538.90,521.4v-8M344.3,326.80h8" stroke="#000" stroke-width="1" fill="none"/>
<rect x="344.3" y="326.8" width="194.6" height="194.6" fill="none" stroke="#222" stroke-width="0.85"/>
<text x="344.30" y="534.40" text-anchor="middle" class="tl">-2</text>
<text x="340.20" y="524.60" text-anchor="end" class="tl">-2</text>
<text x="392.95" y="534.40" text-anchor="middle" class="tl">-1</text>
<text x="340.20" y="475.95" text-anchor="end" class="tl">-1</text>
<text x="441.60" y="534.40" text-anchor="middle" class="tl">0</text>
<text x="340.20" y="427.30" text-anchor="end" class="tl">0</text>
<text x="490.25" y="534.40" text-anchor="middle" class="tl">1</text>
<text x="340.20" y="378.65" text-anchor="end" class="tl">1</text>
<text x="538.90" y="534.40" text-anchor="middle" class="tl">2</text>
<text x="340.20" y="330.00" text-anchor="end" class="tl">2</text>
<text x="365.90" y="350.50" text-anchor="middle" class="pl">2%</text>
<g transform="translate(343.80,522.60)"><text x="57.48" y="37.8" class="al">R</text><text x="69.01" y="41.1" class="sub">X</text><text x="78.8" y="37.8" class="al">/</text><text x="84.0" y="39.6" class="al" style="font-size:19.5px">&lt;</text><rect x="95.5" y="25.1" width="1.2" height="12.7"/><text x="97.34" y="37.8" class="al" font-weight="bold">j</text><rect x="105.3" y="25.1" width="1.3" height="12.7"/><text x="107.89" y="27.0" class="sup">2</text><text x="113.7" y="39.6" class="al" style="font-size:20.5px">&gt;</text><text x="124.88" y="27.8" class="sup2">3/2</text></g>
<g transform="translate(307.20,456.40) rotate(-90)"><text x="-0.74" y="0" class="al">Q</text><text x="13.31" y="3.4" class="sub">X</text><text x="24.8" y="0" class="al">/</text><text x="30.0" y="1.8" class="al" style="font-size:19.5px">&lt;</text><rect x="41.2" y="-12.3" width="1.3" height="12.3"/><text x="43.34" y="0" class="al" font-weight="bold">j</text><rect x="51.2" y="-12.3" width="1.3" height="12.3"/><text x="53.4" y="-10.5" class="sup">2</text><text x="58.5" y="1.8" class="al" style="font-size:20.5px">&gt;</text></g>
<rect x="362.3" y="579.20" width="161.1" height="9.3" fill="url(#cmap)" stroke="#000" stroke-width="1"/>
<path d="M363.66,588.50v2.8M386.35,588.50v5.5M409.04,588.50v2.8M431.73,588.50v5.5M454.42,588.50v2.8M477.11,588.50v5.5M499.80,588.50v2.8M522.49,588.50v5.5" stroke="#000" stroke-width="1"/>
<text x="386.35" y="604.90" text-anchor="middle" class="cl">-2.0</text>
<text x="431.73" y="604.90" text-anchor="middle" class="cl">-1.0</text>
<text x="477.11" y="604.90" text-anchor="middle" class="cl">0.0</text>
<text x="522.49" y="604.90" text-anchor="middle" class="cl">1.0</text>
<text x="442.80" y="621.10" text-anchor="middle" class="ct">Log P(R*<tspan class="sub3" dy="4.2">X</tspan><tspan dy="-4.2">,Q*</tspan><tspan class="sub3" dy="4.2">X</tspan><tspan dy="-4.2">)</tspan></text>
<clipPath id="c3"><rect x="56.3" y="648.9" width="194.6" height="194.6"/></clipPath>
<rect x="56.3" y="648.9" width="194.6" height="194.6" fill="#8000ff"/>
<g clip-path="url(#c3)">
<defs><path id="p3_0" d="M189.5 838.2l1 .1 0-.9-.9-.2zM149.9 836.3l1.2-.2 1.3-2.1 .1-3.2-1-1.1-2.2 .6-.6 1.5 .1 3.6zM182.5 834.6l1.1 .2 2.1-.7 1.6-1.7 .5-3.3-1-2.4-2.2 .1-2.9 1.8-.7 3.8 .6 1.6zM199.1 832.9l3.2 .5 1.6-.7 1.6-2.4-.8-1.7-1.9-1.5-4 .4-1.3 1.5-.3 1.2 .5 1.6zM106 831l8-1.3 3.2-2.6 10.7-6 3.2-3.3 6.4-2.9 1.1-1.1 .9-2.8 2.3-2.1 2.7-1.6 3.7-1.4 2.7-.4 2.2-.2 2.6 1.1 4.3 .5 3.2 1.7 5.9 1.8 3.3 3.8 6.9 .1 1.6 .4 2.3 2.7 .4 3.4 2.1 .4 1.2-1.1 1.3-4.9-.6-7.5 .3-2.1-3.9-9.1 0-2.7-1.1-3.2 .4-4.8-3.2-4.3-1.2-6.4 .3-5.4-1.1-11.7-1.4-5.9-.2-4.3 .5-2.7-.7-2.1 .1-3.8-.8-2.1 1.1-3.7-.7-4.9 .5-3.7-1-3.2-2.1-4.3-11.8-10.5-2.1-2.9 .1-2.7 2.6-2.4 1.6-.5 2.1 .2 4.8 2 2.4-1.9 .6-1.1 0-1.1-.7-1-2.3-.7-2.1-2-3.8-2.2-1.6-2.6-1.6-1.3-3.2 1.7-1-.4-1.6-2.2-1.7-1.2-4.2 1.1-2.2 2.6-1.5 3.9-1.2 1.8-3.2 .9-1 .9-1.7 3.4-.5 3.3-4.1 3.7-.1 2.1 1.7 3.2 .1 1.1-2.5 8-.7 1.1-2.1 1.6-.6 1.6-.5 6.4 .6 3.8-1.1 2.6-1.9 .6-.6 .9 1.8 6-1.3 10.2-1.8 4.8 .8 7-.8 5.9 1 4.2-1.3 10.7-4.6 9.1 0 4.9-1.6 4.8-2.4 11.7-1.9 3.3-1.9 1.6-2.4 3.7-3.4 1.1-1.4 1zM146.6 702.9l-1.8-1.1-1.1-1.6-.3-3.2 .6-1.2 1-1.4 3.2-1.1 2.2 0 2.1 .7 .8 .8 .3 1.6-.6 3.2-.8 1.6-2.3 1.7zM187.8 767.7l1.1 .3 1.6-.5 2.6-1.5 .6-1.1 .1-1.6-.9-2.7-2.4-2.4-1 .1-1.7 .9-1.6 2.5 .2 3.8zM110.3 761.3l2.1 .2 2.7-2.5 .4-1.6-.4-1.6-.6-.8-1.6-.9-1.7 .7-.9 2.9-1 1.3 .2 1.6z"/><path id="p3_1" d="M190 838.3l.5-.6-.5-.4-.5 .4zM150.4 836.2l.9-.6 .8-1.6 0-1.6-1.2-1.9-1.4 .3-.6 1.6 .2 3.2zM182.5 834.2l1.1 .2 2.1-.5 1.1-1 .7-1.6 .1-2.2-1.2-2.1-1.8 .2-2.3 1.9-.9 3.3zM199.6 833l2.7 .1 2.2-1.3 .7-1.6-1.8-2.7-3.8-.1-1.6 1.2-.6 1.6 .5 1.6zM106.5 830.8l2.3-.6 .8-1.1-1.5-.5-1.6 .3-.6 .8zM112.4 829.2l1.5-.1 2.8-2.8 2.9-.9 7.9-4.3 3.5-3.7 7.1-3.7 1.1-2.7 2.1-2.7 6.9-2.9 4.9-.3 2.1 .8 5.2 .8 2.9 1.6 6.4 1.9 3.2 3.7 2.1 .3 4.3-.3 2.1 .6 2.5 2.3 .2 2.7 1.3 .6 .8-1.1 .7-10.7 .6-2.2-3.5-8.5-.5-3.2-1-2.2 .5-6.4-3.1-4.3-1.1-6.4 .1-5.4-1.1-11.7-1.3-5.9-.3-4.3 .5-2.7-.7-1.6-.1-4.8-.6-1.6 1.1-4.3-.7-4.8 .5-3.2-1.1-3.8-1.9-3.7-12.2-10.7-1.8-2.1-.4-2.7 1.2-2.6 3.2-1.2 4.3 .3 3.2 1.6 1.5-1.3 .6-2.2-2.6-1-2.2-2-3.2-2-1.5-1.4-1.1-2.1-1.6 .1-1.6 .8-1.7-.1-1.4-2.4-1.8-1.4-1.6 .1-2.6 1.2-1.6 2.2-2 4.8 7.3-.6 1 .6 .2 2.2-1.2 1.8-.5 2.8-1.1 1.8-1.6 1.1-2.2 .4-3.2-1-1.7-2.7 0-3.2 .4-1-1.3-.3-1.1 .6-1.1 1.5-1.4 5.7-3 2.1-1.2 1.6 .3 2.1 1.4 2.7 0 1.6-2.4 7.5-3.2 4.3-.5 6.4 .5 3.2-.9 3.2-2.3 1.6 1.3 5.9-1.2 10.2-1.9 4.8 .9 6.4-.8 6.5 .9 4.2-.7 8.1-.7 3.2-1.9 4.3-2.5 4.2 0 4.9-1.7 4.8-2.1 11.7-1.9 3.8-2.1 1.6-2.1 4.3 .1 .5zM188.4 767.3l1.1 .2 2.1-.9 1.3-1.1 .4-1.1-.8-3.8-2.5-2.1-2.7 1.6-.8 2.2 .5 3.2zM110.3 760.8l2.6-.4 1.8-1.4 .5-1.6-.7-2.2-1.6-.8-1.6 .8-1.6 4.4z"/><path id="p3_2" d="M149.9 835.7l.9-.1 .8-1.6-.1-1.6-1.1-1.4-.5 .1-.7 1.3 0 2.6zM182.5 833.7l3.2-.2 1.1-1.1 .5-1.1 0-2.2-1.1-1.6-1.3 0-1.9 2-1 2.3zM199.6 832.4l2.2 .3 2.1-.9 .8-1.6-1.3-2.1-3.2-.4-1.6 .9-.6 1.1 .1 1.1 .5 1zM112.9 827.6l3.2-2.4 3.3-.7 8-3.6 3.2-3.8 7-3.5 4.2-6.9 6.1-1.6 5.2-.4 2.4 .9 5.1 .8 3.2 1.7 5.9 1.5 3.8 4 7.7 0 3.4 1.6 1-1 .4-5.9 .6-2.7-4.5-12.8 .5-7-3-4.3-1-6.4 0-5.4-.6-6.9-.7-6.4-1.2-4.3-.4-4.3 .5-2.7-.6-1.6 0-4.8-.6-1.6 1-4.8-.5-4.3 .3-3.7-1.3-4.2-1.6-2.8-11.8-10.3-2.3-2.5-.5-2.7 .7-2.7 .6-.5 3.1-.9 3.7-.2 2.2 .3 2.1 1-.1-1.8-2.6-1.5-1.2-1.7-5.7-4.9-4 1.1 .1 2.1-1 1.7-.3 1.6-2.1 2.1-.6 2.7-1.7 2.3-3.3 1.1-3.2-1.1-1.7-2.3-.3-4.3-.6-.3-1.1 .6-.8 1.3-1.7 5.9-2.9 1.9-1 1.3 .1 1.6 1.4 2.7 .3 1.6-2.8 8.5-2.2 2.7-.8 1.6-.3 6.5 .4 3.2-1.1 3.2-1.5 1.6 .7 4.8-.1 3.2-1.1 8-1.8 4.3 .9 6.4-.8 6.5 .8 4.2-.9 8.6-2.2 7-2.6 4.2-.1 5.4-1.8 4.8-1.3 6.4-.5 4.8-1.5 4.3-2.1 1.6-1.1 2zM188.4 766.6l1.1 .4 1.6-.6 1.1-.9 .6-1.6-.7-2.7-2.1-2.1-2.2 1.2-1 2 .5 2.6zM112.4 759.6l1.8-.6 .6-1.6-.3-1.6-1.6-1-1 .5-.6 1.1 0 2.6zM147.7 692.3l4.8-.6 1.6-1.3 1.6-.5 .6-.4 .1-1.1-.5-1.6-1.8-1.6-3.4 1.1-2.1 2.6z"/><path id="p3_3" d="M150.4 834.5l.5-1.1-.5-1-.6 1zM183 833.1l1.1-.2 .5-1 1.1 .2 .5-.8 .2-1.6-.7-.9-.8 .3-.8 2.1-1.1 .2zM201.2 831.3l1.6-.8-.5-1.2-1.6-.2-.9 .6 .1 1.1zM117.7 823.3l5.4-.9 4.1-1.8 3.4-4.1 4.4-1.8 2.5-1.6 3.8-6.4 2.1-1.4 2.2 .1 2.6-.7 5.4-.3 2.1 .8 4.9 .9 3.2 1.7 5.9 1.3 1.6 1.1 1.6 2 1.6 .9 9.6-.1 .5-.5 1.2-7.4-.8-3.2-2.4-4.9-1.2-4.2 1-6.5-2.8-4.2-.6-2.2-1.2-17.1-2.6-14.5 .5-3.2-.5-1.6 0-4.3-.5-2.1 1-4.8-.5-4.3 .3-3.7-1.1-3.8-1.5-3-12-10.4-2.5-2.6-.5-2.7 0-3.9 .5-.5 1.6 .2 4.8-.7 1.2-1-.3-1.6-.7-1.1-4.4-2.8-1.1 .6-.8 1.7-1.4 1.3-.8 2.4-2.4 1.3-.7 2.5-1.9 2.5-3.3 1.2-3.2-1.3-1.9-2.4-.2-2.8-.5-1.1-1.1 .7-1.1 2.2-.4 3.1-.6 1.3-3.9 3 0 1.6 1.5 2.7 .2 1.6-3 9.1-2.7 3.7-.3 6.5 .4 3.2-1 3.2-1.2 1.6 .3 5.3-.8 8.1-.6 3.2-1.5 3.7 .9 5.9-.9 7 .7 3.7-.4 5.4-1.1 6.4-1.6 4.5-2.5 4.6-.2 4.8-1.6 4.3-1.4 6.9-.3 4.3-.8 4.3zM188.9 766.2l1.1 .2 1.8-1.5 0-1.6-1.8-2.5-1.6 .2-1 1.3 .5 2.6zM112.9 758.3l.8-.9-.1-1-.7-.4-.5 .4-.2 1zM150.4 690.8l1.6 .1 3-2 .6-1.6-.6-1-1.4-.7-2.6 1.2-1.5 2.1 .1 1.1z"/><path id="p3_4" d="M118.8 822l3.8-.1 4.2-1.7 3.3-3.9 6.9-3.5 4.1-6.7 2.3-1.4 2.7 .2 7-1.1 3.7 1.1 2.2 .2 4.8 2.2 6.4 1.5 3.2 2.7 1.1 .4 6.4 .2 2.1-.7 .8-1 1.2-4.8-.1-2.1-3-6.5-1.4-4.2 1.5-6.3-2.7-4.3-.5-1.8-1.3-17.6-2.7-14.5 .3-3.2-.9-8 1.1-4.8-.3-8.8-1.1-3.3-1.5-2.9-3.9-3.7-10.3-8.6-1.3-5.9-.6-1.2-2.2 .4-2.1 4.2-1.6 1.1-2.2 .8-2.1-.8-2.2-1.8-1-1.6-.5-3.1-.6 .2-1.3 2.3-.3 2.7-.8 1.6-1.3 1.4-1.7 .8-.8 1 .3 1.6 1.6 2.7 .1 1.1-3.3 9.1-2.7 4.3 .2 9.1-.8 3.2-1.3 2.1 .2 4.8-.8 8.1-1.9 7.4 .8 4.9-.8 7.5 .4 3.7-.3 4.8-1.2 7-3.5 8.5-.7 5.4-1.5 4.2-1.5 7.6-.6 6.4zM189.5 765.3l.5 .1 .6-1-1.1-2-.6 .1-.2 .8zM160 695.4l3.8 .2 .5-.5 0-.8-1.1-1.3-1.6-.3-1.8 1.6zM151.5 689.4l1-.1 1.7-.9 .8-1.1-.3-.8-1.1-.5-1.5 .8-1.2 1.6z"/><path id="p3_5" d="M119.9 821.3l2.7 0 4.2-1.8 3.3-4 5.9-2.9 4.8-6.9 2.6-1.8 9.7-.7 5.9 1.2 4.2 2.1 7 1.7 3.7 2.4 5.4 .9 1.6-.2 1.6-.9 1.6-4.3-.1-3.7-2.6-4.8-1.8-5.4 1.7-5.3-2.3-4.3-.6-2.2-1.3-17.1-2.6-14.4 .1-3.8-.9-7.5 1.1-6.4 .1-6.4-.5-2.1-2.1-5-4.6-4.7-10.2-8-1.2-5.3-.6-.7-1.6 .2-2.1 3.6-1.6 1.4-2.2 1-1.6-.6-2.1-1.9-1.9-2.5-.2-1.4-.6-.1-.9 1.5-.2 2.1-1.1 2.7-3.2 2.7 .6 1.6 1.4 1.6 .1 1.1-2 3.9-2 6.2-2.5 3.8 .4 9.1-.8 3.2-1.3 2.6-.7 12.4-1.7 7.4 .8 4.3-.8 8.1-.2 8.5-1.2 7-3.4 9.1-.6 5.3-1 2.2-.7 4.2-1.3 4.3-.5 6.5z"/><path id="p3_6" d="M121 820.6l3.2-.6 2.1-1 3.2-4 5.7-3 5-6.5 3.2-2.4 9.7-.5 5.9 1 4.2 2.2 7 1.8 3.7 1.9 5.4 1.1 1.1-.2 1.6-1.3 1.4-3.5-.1-3.2-2.7-4.8-1.7-5.4 .4-2.7 1.1-2.6-2.4-6.5-1.3-17.1-2.5-14.4 0-3.2-.9-8.1 .9-7.5-.2-7.4-1.7-4.5-3.7-4.1-6.4-5.3-5.2-3.3-1.3-4.5-1-.9-1.1 .6-3.2 4.7-2.7 .7-2.1-.3-1-2.4-1.7-2.2-1.1-.3-1.5 5.2-1.7 2.1 1.2 1.6 .2 1.1-3.2 5.3-1.8 5.9-2.3 4 .5 4-.3 4.9-.6 3.2-1.2 2.7-1 12.8-1.3 6.4 .5 4.8-1.2 16.6-1.3 7.5-2.9 8.6-.8 5.9-3.1 10.7-.4 5.3 .3 .8z"/><path id="p3_7" d="M120.4 819.9l1.1 .1 4.3-1.6 3.7-4.3 4.8-2.7 6.8-7.4 1.8-1.3 1.6-.4 9.1-.4 5.4 .8 4.2 2.4 10.7 3.5 4.9 .9 2.6-1.8 1.1-2.1 .1-2.7-2.3-4.8-1.9-5.9-.2-2.5 .7-3.4-1.2-4.8-1.4-18.2-1.9-10.1-1.4-12.9 0-5.3 .7-5.4-.1-6.9-1.6-4.3-3.4-4.1-6.4-5.3-5.5-2.9-.9-1.1-.7-2.7-1-1.2-.5 0-2.7 5-8 2.8-5.7 7.3-3.6 10.2 .3 4.3-.4 4.3-1.7 6.4-2.2 17.6 .1 11.8-1.3 10.7-1.3 8-2.3 7.5-1 7-3.2 10.2-.6 3.7zM142.4 706.1l.5 .3 .7-1.9-.1-1.1-.6-.8-.5 0-.4 .8z"/><path id="p3_8" d="M121 819.5l4.2-1.8 4-4.1 4.9-3.2 7.1-6.9 3.3-1.7 9.1-.5 5.4 .7 7.4 3.5 8.1 2.6 4.3-.1 2-1.3 .9-1.6-.1-2.2-2.3-6.4-1.5-6.4 .1-2.7-1-13.9-.5-1.6 0-4.3-3.7-27.3 .2-9.1 .4-1.6-.1-6.9-1.6-4.3-3-3.8-6.4-5.3-5.5-2.7-1.5-1.6-.8-2.7-.8-.6-2.6 4.9-4.8 1.6-7 6.2-1.9 2.4-1.5 3.7-1.5 6.4-.4 8.1-2.6 12.3-1.2 11.7 0 12.9-1.4 7.5-.7 6.4-4.4 20.9-2.8 9.1-.4 2.2z"/><path id="p3_9" d="M121.5 818.2l3.2-1 4.2-4.1 7-4.9 4.9-4.8 3.7-2 4.3-.5 8 .2 2.7 .5 8.2 4 6.8 2.1 3.7-.3 2.2-1.1 .7-1.2 0-2.2-3.5-12.3-1.5-23-3.6-27.3 .1-9.1 .4-2.1-.1-6.4-1.6-4.3-3.3-4-5.8-4.7-5.9-2.9-1.4-1.3-1.3-3-2.1 4.3-4.9 1.6-7.4 6.6-1.5 1.8-1.8 4.2-1.3 6.5-.4 7.5-2.6 12.3-.9 8-.2 16.6-1.5 7.5-1.3 10.1-3.6 17.2-2.6 9.1z"/><path id="p3_10" d="M123.1 816.4l1.6-.6 3.7-3.8 4.9-2.3 7.5-6.7 3.7-2 4.3-.6 8 .1 2.7 .6 8.1 4 7.3 2.1 3.3-.4 1.6-.8 .9-1.5-.5-3.7-1.6-4.3-1.3-5.9-1.6-23-3.4-27.3 .3-17.1-1.3-4-3.5-4.6-6.2-4.6-5.3-2.5-2.7-2.3-2.1 2.3-4.3 1.3-5.9 4.7-3.1 3.3-1.9 4.2-1.3 6.5-.5 8-3 15.5-.6 7.5 .1 13.4-1.7 7.5-1.5 10.7-2.6 11.2-1.2 9.1-1.3 4.3z"/><path id="p3_11" d="M125.8 812.5l1.8-1.5 5.5-2.2 9.3-7.5 5.8-1.6 8.6 0 3.2 .9 7.9 3.9 6.6 1.9 3.2 0 1.6-.8 .8-1.1-.3-3.4-1.5-4.1-1.2-6.4-2.3-26.7-2.8-23.1 .1-17.6-1.4-3.8-3.2-4.2-6.4-4.6-7-3.5-6.4 2.2-3.7 2.6-5.1 4.9-2 4.2-1.4 6.5-.6 8-2.9 16.1-.6 7.4 .1 13.4-2.5 11.3-.9 6.4-2.8 11.8 0 10.1z"/><path id="p3_12" d="M127.9 809.2l4.3-1.1 10.2-7.4 6.9-2 8 .2 3.3 1 6.9 3.7 7 2 3.2 0 1.1-.5 .8-1.1-.3-2.7-1.5-4.3-.7-4.2-1.4-15.6-1.1-6.9-2.1-24.1-1-7.5-.1-8 .4-3.2-.3-3.8-1.2-3.7-3.4-4.3-6.3-4.3-6.5-2.8-5.9 1.4-4.4 3-4.3 4.3-2.7 6.4-.8 4.3-.5 7.5-2.9 16.1-.5 7.4 .5 8.6-.3 4.3-6.8 30 .4 3.7z"/><path id="p3_13" d="M128.4 807.3l1.1 .3 2.2-.6 10.7-7.1 7.5-2.3 7.4 .2 3.8 1.3 6.9 3.7 5.9 1.8 3.2 .2 1.1-.4 .6-.9-.1-2.2-1.6-4.8-.6-8.6-2.7-17.6-1.4-22-1.4-9.6-.2-8 .4-3.2-.4-3.8-1.5-3.7-3.4-4-6.4-4-5.4-2-5.3 .8-4.3 2.7-4.4 4.3-2.7 5.9-.7 4.3-.5 7.5-3 16.6-.3 7.5 .4 10.7-7.5 31.6 .2 2.1z"/><path id="p3_14" d="M129.5 805.7l1.1 .2 2.7-1.1 11.7-7 3.2-1.1 2.7-.4 4.8-.1 2.2 .4 3.7 1.4 7 3.8 5.3 1.9 3.2 .1 .8-.9 .1-1.6-1.6-4.8-.2-8.6-3.2-17.6-.9-21.4-1.8-12.9 .2-8.5-.6-3.8-2-4.3-2.7-2.6-4-2.7-5.5-2.4-4.8-.4-2.1 .7-3.2 1.9-4.3 4.1-3.2 5.7-.7 4.3-.5 7.5-2.9 16.6-.2 8 .5 10.2-8.2 31.6 .2 1.6z"/><path id="p3_15" d="M129 804.1l1.6 .3 2.1-.5 12.9-7.4 5.3-1.7 4.8 0 2.7 .6 3.8 1.4 6.4 3.9 5.9 2.1 2.1 0 .8-.9-1.5-5.4 .3-1.6-.2-7-3.7-17.1-.5-21.9-1.9-12.9-.2-8.5-.5-3.2-.7-2.2-2.3-3.2-5.1-3.8-5.4-2.4-4.2-.2-5.2 2.1-3.9 3.8-3.7 5.9-1.1 11.7-2.8 16.6-.1 10.2 .5 7.5-8.8 31 .4 2.2z"/><path id="p3_16" d="M129 803.5l3.2-.2 14-7.9 4.7-1.6 5.4 0 2.2 .6 4.2 1.7 6.4 4 5.4 2.1 1.6 .1 .7-.4-1.3-5.4 .4-1.6-.1-6.4-4-17.1-.3-22.5-2-12.9-.3-8-.7-3.7-.8-2.2-1.5-2.1-3-2.8-2.6-1.8-4.9-2.1-4.2-.1-4.9 2.2-4 4-3.3 4.9-.6 3.2-.6 8.5-2.7 17.2 .4 17.6-9.2 30.5 .2 1.8z"/><path id="p3_17" d="M127.4 803l2.7 .3 2.6-.6 13.4-7.8 4.3-1.5 5.9 0 2.7 .5 3.7 1.6 7 4.4 5.3 2 1.3-.6-1-4.8 .4-1.6-.2-6.4-4.1-17.1-.2-22.5-1.9-12.3 0-3.8-1.1-8-.7-2.1-1.5-2.2-2.8-2.7-2.6-1.9-5.4-2.3-3.4 0-4.6 2-4 3.8-3.5 5-.7 3.1-.5 8.5-2.8 17.2 .5 17.6-4.5 14.2-2.5 9.4-1.8 4.8-.6 2.7z"/><path id="p3_18" d="M129.5 803l2.7-.3 7.3-4.1 6.1-4.1 4.8-1.6 6.4-.1 2.2 .5 4.2 1.9 6.5 4.2 5.3 1.9 .5-.3-.5-4.5 .4-1.6-.3-6.4-4.1-17.1-.1-22-1.6-9.6-1.5-15-.8-2.1-3.8-4.4-2.9-2.1-5.1-2.1-3.2-.1-4.8 2-4 4-3.2 4.8-1.1 11.2-2.8 17.2 .4 17.6-9.3 30.5 .2 1.2z"/><path id="p3_19" d="M129 802.5l3.2 0 6.5-3.9 6.9-4.9 4.3-1.5 7.4-.1 2.2 .5 4.3 2 6.3 4.6 3.8 1.1 .9-.6 .3-5.3-.4-5.4-4.2-17.6-.1-22-3.3-24.6-1.9-3.8-2-2.1-3.2-2.2-4.8-2-3.2-.1-2.7 .8-2.1 1.2-3 2.8-3.5 5.4-.7 3.2-.6 8.6-2.9 17.1 .4 17.7-8.9 28.3-.2 2.2z"/><path id="p3_20" d="M131.7 802.4l4-2.1 9.3-7.4 4.3-1.6 8-.3 2.2 .5 4.7 2.3 6 4.8 3.2 .9 1-.9 .3-4.2-.6-5.4-2.1-10.2-2.1-7.4 0-21.5-1.5-10.1-.4-6.4-1.5-8.1-2.1-4.3-1.7-1.7-3-2-5-2-4.8 .5-2.7 1.5-2.7 2.7-3.1 5.3-.7 3.2-.5 7-3.2 18.2 .4 17.7-8.8 28.9-.1 1 .5 .6z"/><path id="p3_21" d="M131.1 802l1.1 .2 2.3-1.4 10-8.7 4.8-1.9 5.4 .1 3.2-.4 1.6 .3 5.3 2.7 5.8 5.2 2.3 .8 1-.9 .4-3.1-.9-5.9-2-9.6-2.3-8 .1-20.9-1.4-10.2-.3-6.4-1.8-8.6-1.5-3.2-1.8-2.1-2.9-2-4.8-2-4.8 .5-2.7 1.6-1.9 1.9-2.9 5.3-4.7 28.4 .4 17.1-6.5 22.5-2.1 5.3-.1 2.2z"/><path id="p3_22" d="M131.7 801.9l1-.2 2.5-2 6.6-7 2.7-2 3.7-1.6 11.3-.3 6.4 3.3 5.1 5.5 1.9 .6 .8-1.2-.1-3.2-2.8-13.9-2.5-8.5 .3-20.4-2.2-18.8-1.6-6.9-2.1-4-3.7-2.8-4.3-1.7-4.8 .5-2.7 1.6-1.9 2.7-2.7 6.9-.8 7-3.5 18.7 .5 16.6-6.5 22.5-2 5.3 0 1.7z"/><path id="p3_23" d="M131.7 801.4l.5 .4 1.4-1 4.9-6.4 2.8-2.8 2.9-2.1 3-1.2 7.5-.1 1.6-.5 3.2-.1 5.9 2.6 1.6 1.2 4.6 5.6 1.3 .5 .4-.5-.2-3.2-5.3-21.9 .1-20.3-2.1-19.3-1.9-7-2-3.7-2.9-2.2-4.3-1.8-4.3 .4-2.7 1.4-1.4 1.6-2.1 4.9-5.2 28.3 .6 17.2-4.7 14.4-2 8-1.4 3.2-.4 2.7z"/><path id="p3_24" d="M132.2 801.4l1.1-.6 4.2-6.4 3.2-3.2 3.3-2.2 3.2-1.3 12.8-.5 7 3.4 5 5.9 1 0-5.6-24.6 .1-20.3-.5-1.7-.1-6.9-1.6-10.7-1.8-6.4-2-3.8-3.1-2.4-3.7-1.5-4.3 .4-2.6 1.4-.9 1-2.1 4.9-5.3 28.3 .6 17.2-4.8 14.4-1.8 8-1.3 3.2-.4 2.7z"/><path id="p3_25" d="M132.7 800.6l4.5-6.8 2.2-2.1 3.5-2.6 4.3-1.9 12.8-.5 7.5 3.7 4.3 4.7 .3-.2-2.7-13.9-2.3-9.1 0-20.3-.4-1.7-.1-6.9-1.6-10.2-2-6.9-2-3.8-2.6-1.8-4.3-1.7-3.7 .5-2.7 1.6-2.6 5.7-.7 2.7-4.5 25.1 .5 17.2-4.9 14.9-1.4 8.1-1.4 3.2z"/><path id="p3_26" d="M135.9 793.3l6.5-4.4 4.2-2.2 7.5-.2 3.2-.7 2.7 .2 7.5 3.7 2.2 1.6 .6-.1-.7-7.5-2.9-11.8 .1-20.3-1.6-16.1-2.6-9.1-1.2-2.7-.8-1.2-2.2-1.5-4.3-1.6-3.2 .3-2.7 1.3-2.6 5.4-1.5 5.4-3.9 22.4 .5 17.2-4.7 14.9-.4 6.5z"/><path id="p3_27" d="M137 790.1l1.1 .3 8.5-4.4 2.7-.5 4.3 .2 4.3-.8 2.7 .5 8 3.9 .5-.1 .3-.7-.1-4.8-3-11.8 .1-19.8-.5-8.6-1.1-8-3.9-11.2-1.4-1.6-4.3-2.2-1.6-.3-2.1 .4-2.7 1.3-2.7 5-1.6 4.9-3.9 22.4 .4 17.7-3.7 11.2-.6 3.2z"/><path id="p3_28" d="M138.1 788.7l2.7-.4 5.3-3 3.2-.8 3.8 .3 4.8-.9 1.6 .2 5.3 3 2.7 .9 .7-.1 .6-1.6 0-2.6-2.9-11.3 0-20.3-.4-7-1.3-9.6-4.1-10.7-1.1-1.3-3.8-2-2.1-.1-3.3 1.3-3.1 4.8-1.7 4.3-3.9 23 .3 17.1-3.6 11.2-.3 3.2z"/><path id="p3_29" d="M139.2 787.5l2.1-.4 4.8-2.7 2.7-.8 4.3 .3 4.8-1.1 3.1 .9 4.9 3.1 1.6 .2 .7-1.2 .1-2.1-2.9-11.3-.3-4.8 .4-9.1-.5-12.8-1.4-9.7-4.1-10.4-1.2-1.3-3.1-1.7-3.2 .4-2.1 1.4-2.7 3.8-1.8 4.1-3.7 22.5 .1 17.1-3.5 11.8 .1 2.6z"/><path id="p3_30" d="M140.2 786.4l8.6-4 4.3 .4 4.8-1.1 3.7 1.2 4.3 3.2 1.1 0 .6-.8 .1-2.2-2.3-7.5-.9-6.9 .5-10.7-.5-12.3-.8-5.9-.9-4.3-3-7.5-1.9-2.7-2.7-1.4-2.7 .4-2.6 1.8-2.7 3.6-1.7 4.7-.7 7-1.7 7.5-.7 5.9-.4 7.5 .6 5.8-.3 4.3-3.3 11.3 .2 2z"/><path id="p3_31" d="M140.2 785.4l1.1-.2 6.9-4.1 4.9 .7 4.8-1.4 4.2 1.7 3.8 3.2 .5 .1 .7-.7 0-1.6-2.2-7.5-.9-6.4 .6-11.2-.5-3.2-.1-8.6-.9-5.9-1-4.8-2.7-6.4-2.1-2.7-2.1-1-2.1 .2-2.7 1.4-2.4 2.6-2.1 4.8-.2 4.8-2.1 9.7-1 9.6 .5 9.6-.3 4.3-3.2 10.7 0 1.6z"/><path id="p3_32" d="M140.2 784.4l.6 .3 4.2-3.2 3.2-1.6 5.4 1 3.7-1.2 1.7 .1 3.2 1.5 3.7 3.2 .5 .1 .2-.4-2-8-1-7 .6-11.2-.5-2.7 0-9.1-.6-3.7-1.4-6.5-1.7-4.2-1.3-2.7-2.4-2.2-3.2-.4-2.4 1-2.2 2.1-2.2 4.8-.2 4.8-2.1 9.7-1.1 9.6 .6 10.2-.4 3.7-2.9 10.7z"/><path id="p3_33" d="M141.8 782.7l6.4-3.5 5.4 1.1 3.7-1.2 1.7 .1 2.6 1 3.9 2.4-1.5-6.4-.7-7 .7-11.2-.6-2.7 0-9.1-.6-3.7-1.5-6.5-2.8-6.4-2.1-2.1-1.7-.5-1.6 0-2.2 .8-1.6 1.5-2.8 5.7-.2 4.2-2.6 14-.5 9.6 .6 6.4-.6 5.9-1.9 7z"/><path id="p3_34" d="M144 779.4l3.7-1.2 5.9 1.2 3.2-1.1 2.7 0 3.2 .8 .5-.7-.3-9.2 .8-11.2-1.1-15-1.5-6.6-1.9-4.6-1.3-2.3-2.2-1.7-2.1-.3-2.7 1-2.1 2.4-2 4.1-.3 4.8-2.1 9.6-.9 9.1 0 4.8 .6 5.9 .1 6.4-.6 2.7z"/><path id="p3_35" d="M151.5 777.9l2.1 .2 3.2-1 4.8-.2 .6-1.8 1.1-12.8-.6-16.1-1.9-9.6-3.5-6.9-1.6-1.2-1.6-.2-2.6 .8-1.4 1-3 4.9-.4 4.8-2 9.6-.9 9.6 0 4.3 .8 8.1 1.3 4.8z"/><path id="p3_36" d="M152 776.7l1.6 .1 6.6-1.7 1.2-3.2 1.5-9.6-.6-15.6-1.4-8-2.5-6.3-1.6-2.2-1.6-1-1.6 0-2.7 1.3-3.2 4.5-2.7 14.4-.8 9.6 0 4.3 1.6 8.6 1.9 3.1z"/><path id="p3_37" d="M152.5 775.2l1.6-.1 3.8-1.1 1.1-1 2.5-5.4 .9-5.3-.6-15.6-1.2-7.5-.8-2.6-1.9-3.8-1.6-1.9-1.6-.7-3.4 1-2.3 2.7-1.2 2.1-2.4 13.4-.9 13.4 .9 5.3 1.4 3.3 2.4 2.6z"/><path id="p3_38" d="M152.5 773.5l2.2-.2 1.9-.9 2.9-2.9 1.7-3 .7-3.7-.6-16.1-1.2-7.5-2-4.8-1.8-2.2-1.6-.8-2.7 .4-3.3 3.7-.8 2.1-2.3 12.3-.6 12.9 .9 4.8 2.3 3.6 1.7 1.4z"/><path id="p3_39" d="M150.9 771.4l1.6 .5 1.6-.3 4.9-2.7 1.5-1.8 1.1-3.8-.3-11.7-1.5-11.8-1.9-4.6-3.2-2.8-2.7 .4-3 3.2-1.2 3.8-1.9 10.1-.5 13.4 .6 2.7 1.7 3.3z"/><path id="p3_40" d="M150.9 770.3l3.2 .3 4.3-2 1.6-1.6 1.2-3.7-.2-11.7-1.6-11.8-1.9-4.3-2.3-2.1-1.1-.4-2.1 .5-2.1 2.1-.9 1.5-2.2 8-.6 4.8 0 11.8-.4 1.6 .6 2.7 1.8 2.9z"/><path id="p3_41" d="M151.5 769.8l2.6 .2 4.3-2.1 1.6-2 .9-2.6-.1-11.7-1.1-9.1-.6-2.7-1.7-3.8-3.3-2.5-1.6 .2-1 .8-1.6 1.5-1.1 2.2-1.8 6.9-.6 4.8 .1 11.8-.4 1.6 .5 2.2 1.6 2.7z"/><path id="p3_42" d="M152.5 769.2l3.2-.8 3.3-2.2 1.3-2.9 .3-5.9-.4-11.2-1.3-5.9-2-4.3-2.2-1.7-1.1-.2-2.7 1.5-1.7 2.6-2 6.9-.6 4.8 0 13.4 .6 2.4 1.7 2.4z"/><path id="p3_43" d="M150.9 768.2l2.7 0 4.3-2.2 1.5-2.7 .8-5.3 .2-5.4-.4-6.3-1.4-6-2.3-4.1-2.7-1.3-2.7 1.5-1.4 2.3-2.1 6.4-.6 4.8 .4 13.4 1.2 3.2 .9 1z"/><path id="p3_44" d="M150.9 767.2l2.7-.2 3.7-1.9 1.4-2.3 1.4-7-.2-9.1-.9-3.7-.9-2.7-1.8-2.9-2.7-1.5-2.1 1.1-2.2 3.3-1.8 5.4-.5 4.2 1 13.4 1.1 2.7z"/><path id="p3_45" d="M150.9 766l2.7-.1 2.1-.9 1.1-.9 2.2-4.6 .9-6.3-.2-6.5-1-3.7-2.4-4.4-1.1-1-1.6-.6-1.6 .7-1.1 1.1-3.3 7.4-.4 6.4 1 7.5 1.1 4.4z"/><path id="p3_46" d="M151.5 764.9l3.2-.5 2.1-2.1 2.1-4.9 .7-4.2-.1-6.5-1-3.2-2.8-4.3-2.1-1-1.6 .6-1.6 2.1-2.6 5.8-.3 5.9 .8 4.8 1.6 5.8z"/><path id="p3_47" d="M151.5 763.3l1 .4 1.6-.4 2.2-1.7 2.1-4.3 .9-4.1-.1-5.9-.9-3.2-1.5-2.7-1.6-1.6-1.1-.4-1.6 .1-1.6 1.6-2.8 5.6-.3 5.9 .5 2.7 2.1 6.4z"/><path id="p3_48" d="M152.5 762.4l2.2-.2 1.5-1.6 1.9-3.7 .9-4.3 0-5.3-.6-2.2-1.8-3.2-2.5-1.9-1.6 .1-1.7 1.8-2.4 5.4-.2 5.3 1 4.3 1.9 4.3z"/><path id="p3_49" d="M152.5 761.8l2-.1 1.1-1.1 2-3.7 .9-4.3 0-5.3-.6-2.2-1.6-2.9-2.2-1.8-1.6 .3-1.1 1.2-2.5 5.4-.2 5.3 .8 3.8 1.9 4.2z"/><path id="p3_50" d="M153.1 761.4l1.6-.4 1.6-2.4 1.1-3.8 .2-2.7 .1-4.3-.5-2.7-1.4-2.6-2.2-1.5-1.6 1.2-1.5 2.9-.7 2.2-.4 4.3 .9 5.3 1.7 3.6z"/><path id="p3_51" d="M153.1 760.7l1 0 .6-.6 1.5-3.2 .7-8.6-.7-3.7-1-1.7-1.6-1.1-1.3 1.2-1.1 2.7-.9 5.9 .5 4.8z"/><path id="p3_52" d="M153.6 759.8l1.2-1.3 .9-2.6 .4-7.6-.6-3.2-.9-1.6-1-.6-1.8 3.3-.7 5.9 .4 4.3 1 2.3z"/><path id="p3_53" d="M153.6 758.2l.8-.8 .6-1.6 .2-6.9-.5-3-1.1-1-1.1 2.1-.6 5.1 .3 3.7z"/><path id="p3_54" d="M153.6 755.9l.6-1.1 .1-3.8-.2-1.9-.5-.7-.9 3.2 .3 3.2z"/></defs><use href="#p3_0" fill="#6300ff"/><use href="#p3_1" fill="#4c00ff"/><use href="#p3_2" fill="#3600ff"/><use href="#p3_3" fill="#1f00ff"/><use href="#p3_4" fill="#0900ff"/><use href="#p3_5" fill="#000eff"/><use href="#p3_6" fill="#0023ff"/><use href="#p3_7" fill="#0039ff"/><use href="#p3_8" fill="#004fff"/><use href="#p3_9" fill="#0065ff"/><use href="#p3_10" fill="#007bff"/><use href="#p3_11" fill="#0091ff"/><use href="#p3_12" fill="#00a7ff"/><use href="#p3_13" fill="#00bdff"/><use href="#p3_14" fill="#00d3ff"/><use href="#p3_15" fill="#00e1f6"/><use href="#p3_16" fill="#00e4de"/><use href="#p3_17" fill="#00e7c6"/><use href="#p3_18" fill="#00eaaf"/><use href="#p3_19" fill="#00ed97"/><use href="#p3_20" fill="#00f080"/><use href="#p3_21" fill="#00f268"/><use href="#p3_22" fill="#00f550"/><use href="#p3_23" fill="#00f839"/><use href="#p3_24" fill="#00fb21"/><use href="#p3_25" fill="#00fe09"/><use href="#p3_26" fill="#0eff00"/><use href="#p3_27" fill="#26ff00"/><use href="#p3_28" fill="#3eff00"/><use href="#p3_29" fill="#55ff00"/><use href="#p3_30" fill="#6dff00"/><use href="#p3_31" fill="#84ff00"/><use href="#p3_32" fill="#9cff00"/><use href="#p3_33" fill="#b4ff00"/><use href="#p3_34" fill="#cbff00"/><use href="#p3_35" fill="#e3ff00"/><use href="#p3_36" fill="#fbff00"/><use href="#p3_37" fill="#ffeb00"/><use href="#p3_38" fill="#ffd200"/><use href="#p3_39" fill="#ffb900"/><use href="#p3_40" fill="#ffa000"/><use href="#p3_41" fill="#ff8700"/><use href="#p3_42" fill="#ff6e00"/><use href="#p3_43" fill="#ff5500"/><use href="#p3_44" fill="#ff3c00"/><use href="#p3_45" fill="#ff2300"/><use href="#p3_46" fill="#ff0a00"/><use href="#p3_47" fill="#ff0000"/><use href="#p3_48" fill="#ff0000"/><use href="#p3_49" fill="#ff0000"/><use href="#p3_50" fill="#ff0000"/><use href="#p3_51" fill="#ff0000"/><use href="#p3_52" fill="#ff0000"/><use href="#p3_53" fill="#ff0000"/><use href="#p3_54" fill="#ff0000"/><use href="#p3_0" fill="none" stroke="#000" stroke-width="0.8"/><use href="#p3_8" fill="none" stroke="#000" stroke-width="0.8"/><use href="#p3_16" fill="none" stroke="#000" stroke-width="0.8"/><use href="#p3_24" fill="none" stroke="#000" stroke-width="0.8"/><use href="#p3_32" fill="none" stroke="#000" stroke-width="0.8"/><use href="#p3_40" fill="none" stroke="#000" stroke-width="0.8"/><use href="#p3_48" fill="none" stroke="#000" stroke-width="0.8"/>
<ellipse cx="124.5" cy="725.5" rx="1.1" ry="0.9" fill="#000"/><ellipse cx="90.2" cy="770.5" rx="1.1" ry="0.9" fill="#000"/><ellipse cx="110.1" cy="782" rx="1.1" ry="0.9" fill="#000"/><ellipse cx="192.3" cy="777.7" rx="1.1" ry="0.9" fill="#000"/><ellipse cx="209.2" cy="821.7" rx="1.1" ry="0.9" fill="#000"/>
<line x1="56.3" y1="746.50" x2="250.89999999999998" y2="746.50" stroke="#000" stroke-width="1" stroke-dasharray="1 1.15"/>
<line x1="153.50" y1="648.9" x2="153.50" y2="843.5" stroke="#000" stroke-width="1" stroke-dasharray="1 1.15"/>
<path d="M92.50,853.23 L93.65,851.88 L94.80,850.52 L95.94,849.17 L97.08,847.81 L98.20,846.46 L99.32,845.10 L100.44,843.75 L101.54,842.39 L102.64,841.04 L103.72,839.68 L104.80,838.33 L105.88,836.97 L106.94,835.62 L108.00,834.26 L109.05,832.91 L110.09,831.55 L111.12,830.20 L112.14,828.84 L113.16,827.49 L114.16,826.13 L115.16,824.78 L116.15,823.42 L117.13,822.07 L118.10,820.71 L119.07,819.36 L120.02,818.00 L120.97,816.65 L121.91,815.30 L122.83,813.94 L123.75,812.59 L124.66,811.23 L125.56,809.88 L126.45,808.52 L127.33,807.17 L128.20,805.81 L129.06,804.46 L129.91,803.10 L130.75,801.75 L131.59,800.39 L132.41,799.04 L133.22,797.68 L134.01,796.33 L134.80,794.97 L135.58,793.62 L136.35,792.26 L137.10,790.91 L137.85,789.55 L138.58,788.20 L139.30,786.84 L140.01,785.49 L140.71,784.13 L141.39,782.78 L142.06,781.43 L142.72,780.07 L143.37,778.72 L144.00,777.36 L144.62,776.01 L145.23,774.65 L145.82,773.30 L146.39,771.94 L146.95,770.59 L147.50,769.23 L148.03,767.88 L148.54,766.52 L149.04,765.17 L149.52,763.81 L149.98,762.46 L150.43,761.10 L150.85,759.75 L151.25,758.39 L151.63,757.04 L151.99,755.68 L152.32,754.33 L152.63,752.97 L152.90,751.62 L153.15,750.26 L153.35,748.91 L153.51,747.55 L153.60,746.20 L153.69,747.55 L153.85,748.91 L154.05,750.26 L154.30,751.62 L154.57,752.97 L154.88,754.33 L155.21,755.68 L155.57,757.04 L155.95,758.39 L156.35,759.75 L156.77,761.10 L157.22,762.46 L157.68,763.81 L158.16,765.17 L158.66,766.52 L159.17,767.88 L159.70,769.23 L160.25,770.59 L160.81,771.94 L161.38,773.30 L161.97,774.65 L162.58,776.01 L163.20,777.36 L163.83,778.72 L164.48,780.07 L165.14,781.43 L165.81,782.78 L166.49,784.13 L167.19,785.49 L167.90,786.84 L168.62,788.20 L169.35,789.55 L170.10,790.91 L170.85,792.26 L171.62,793.62 L172.40,794.97 L173.19,796.33 L173.98,797.68 L174.79,799.04 L175.61,800.39 L176.45,801.75 L177.29,803.10 L178.14,804.46 L179.00,805.81 L179.87,807.17 L180.75,808.52 L181.64,809.88 L182.54,811.23 L183.45,812.59 L184.37,813.94 L185.29,815.30 L186.23,816.65 L187.18,818.00 L188.13,819.36 L189.10,820.71 L190.07,822.07 L191.05,823.42 L192.04,824.78 L193.04,826.13 L194.04,827.49 L195.06,828.84 L196.08,830.20 L197.11,831.55 L198.15,832.91 L199.20,834.26 L200.26,835.62 L201.32,836.97 L202.40,838.33 L203.48,839.68 L204.56,841.04 L205.66,842.39 L206.76,843.75 L207.88,845.10 L209.00,846.46 L210.12,847.81 L211.26,849.17 L212.40,850.52 L213.55,851.88 L214.70,853.23" fill="none" stroke="#fff" stroke-width="1.45" stroke-linejoin="miter"/>
</g>
<path d="M56.30,843.5v-8M56.3,843.50h8M66.03,843.5v-4.5M56.3,833.77h4.5M75.76,843.5v-4.5M56.3,824.04h4.5M85.49,843.5v-4.5M56.3,814.31h4.5M95.22,843.5v-4.5M56.3,804.58h4.5M104.95,843.5v-8M56.3,794.85h8M114.68,843.5v-4.5M56.3,785.12h4.5M124.41,843.5v-4.5M56.3,775.39h4.5M134.14,843.5v-4.5M56.3,765.66h4.5M143.87,843.5v-4.5M56.3,755.93h4.5M153.60,843.5v-8M56.3,746.20h8M163.33,843.5v-4.5M56.3,736.47h4.5M173.06,843.5v-4.5M56.3,726.74h4.5M182.79,843.5v-4.5M56.3,717.01h4.5M192.52,843.5v-4.5M56.3,707.28h4.5M202.25,843.5v-8M56.3,697.55h8M211.98,843.5v-4.5M56.3,687.82h4.5M221.71,843.5v-4.5M56.3,678.09h4.5M231.44,843.5v-4.5M56.3,668.36h4.5M241.17,843.5v-4.5M56.3,658.63h4.5M250.90,843.5v-8M56.3,648.90h8" stroke="#000" stroke-width="1" fill="none"/>
<rect x="56.3" y="648.9" width="194.6" height="194.6" fill="none" stroke="#222" stroke-width="0.85"/>
<text x="56.30" y="856.50" text-anchor="middle" class="tl">-2</text>
<text x="52.20" y="846.70" text-anchor="end" class="tl">-2</text>
<text x="104.95" y="856.50" text-anchor="middle" class="tl">-1</text>
<text x="52.20" y="798.05" text-anchor="end" class="tl">-1</text>
<text x="153.60" y="856.50" text-anchor="middle" class="tl">0</text>
<text x="52.20" y="749.40" text-anchor="end" class="tl">0</text>
<text x="202.25" y="856.50" text-anchor="middle" class="tl">1</text>
<text x="52.20" y="700.75" text-anchor="end" class="tl">1</text>
<text x="250.90" y="856.50" text-anchor="middle" class="tl">2</text>
<text x="52.20" y="652.10" text-anchor="end" class="tl">2</text>
<text x="77.90" y="672.60" text-anchor="middle" class="pl">5%</text>
<g transform="translate(55.80,844.70)"><text x="57.48" y="37.8" class="al">R</text><text x="69.01" y="41.1" class="sub">X</text><text x="78.8" y="37.8" class="al">/</text><text x="84.0" y="39.6" class="al" style="font-size:19.5px">&lt;</text><rect x="95.5" y="25.1" width="1.2" height="12.7"/><text x="97.34" y="37.8" class="al" font-weight="bold">j</text><rect x="105.3" y="25.1" width="1.3" height="12.7"/><text x="107.89" y="27.0" class="sup">2</text><text x="113.7" y="39.6" class="al" style="font-size:20.5px">&gt;</text><text x="124.88" y="27.8" class="sup2">3/2</text></g>
<g transform="translate(19.20,778.50) rotate(-90)"><text x="-0.74" y="0" class="al">Q</text><text x="13.31" y="3.4" class="sub">X</text><text x="24.8" y="0" class="al">/</text><text x="30.0" y="1.8" class="al" style="font-size:19.5px">&lt;</text><rect x="41.2" y="-12.3" width="1.3" height="12.3"/><text x="43.34" y="0" class="al" font-weight="bold">j</text><rect x="51.2" y="-12.3" width="1.3" height="12.3"/><text x="53.4" y="-10.5" class="sup">2</text><text x="58.5" y="1.8" class="al" style="font-size:20.5px">&gt;</text></g>
<rect x="74.3" y="901.30" width="161.1" height="9.3" fill="url(#cmap)" stroke="#000" stroke-width="1"/>
<path d="M75.66,910.60v2.8M98.35,910.60v5.5M121.04,910.60v2.8M143.73,910.60v5.5M166.42,910.60v2.8M189.11,910.60v5.5M211.80,910.60v2.8M234.49,910.60v5.5" stroke="#000" stroke-width="1"/>
<text x="98.35" y="927.00" text-anchor="middle" class="cl">-2.0</text>
<text x="143.73" y="927.00" text-anchor="middle" class="cl">-1.0</text>
<text x="189.11" y="927.00" text-anchor="middle" class="cl">0.0</text>
<text x="234.49" y="927.00" text-anchor="middle" class="cl">1.0</text>
<text x="154.80" y="943.20" text-anchor="middle" class="ct">Log P(R*<tspan class="sub3" dy="4.2">X</tspan><tspan dy="-4.2">,Q*</tspan><tspan class="sub3" dy="4.2">X</tspan><tspan dy="-4.2">)</tspan></text>
<clipPath id="c4"><rect x="344.3" y="648.9" width="194.6" height="194.6"/></clipPath>
<rect x="344.3" y="648.9" width="194.6" height="194.6" fill="#8000ff"/>
<g clip-path="url(#c4)">
<defs><path id="p4_0" d="M489.8 852.3l4.8-.2 1.1-.5 3.1-5.3 3.2-3.2 .1-1.1-1.1-1-1.6-.2-.3-1.5 .5-2.7-.6-1-5.5-3.5-6.9-6.2-2.2-3.2-.8-2.1-3.7-5.9-1-3.7-2-4.9-2.1-2-.6-1.1-.2-2.2 .7-2.2 .1-2.1-4.5-3.7-1.9-4.9-.2-2.1 1.5-3.2-.1-2.7-2.7-5.3-.3-1.6 .5-1.1 2.5-1.6 1.3-1.6 1.2-5.4-.2-1.6-.3-1.4-1.6-2.4-8.3-5.8-.8-1.6-.7-5.9 1.1-5.4-.6-3.2 .3-4.2 2-6.5-1.3-3.7-.1-4.8 1.4-5.8 1.1-1.3 2.1-1 .6-1 0-1.2-1.7-1.3-5.3-.8-8-3.4-7-1.7-2.1-1.8-1.3-2.1 0-2.7 .6-1.6-.4-2.4-6.4-1.2-4.8-2.6-1.6 2.4-.1 4.8-6.2 8.1-1.1 3.2 .4 2.1 3.3 3.2-.2 3.8-2 3.1-2.2 1.5-2.5 .7-1 1.6 .3 2.6 2.2 2.3-1.1 10.8-.5 1-2.2 1.4-3.7-.1-.9 .8 .1 1 .6 .6 3.9 .7 3.8 1.4 1 1.5-1 2.3-1.2 4.8 .3 4.3-1.5 3.2-2.1 6.9-.4 3.2-3.6 7.5 .3 1.1 3.4 4.8 .4 2.7-2.4 8.6-3 6.4-7.5 11.2-.6 4.3-1.8 3.7-.2 4.9 .9 3.2-.1 4.8 1.9 1.1 3.2-1.3 2.2 .8 1.1-.2 1.3-1.5 1.4-3.7 4.7-3.7 4.3-1.9 4.8-4.8 1.1-3 .5-3.8 1.1-1.9 2.2-2.1 3.2-1.7 1 0 1.5 .4 2 1.6 1.4 .3 3.7-2.3 2.1-.1 3.3 1.8 8.5 9.4 6.4 5.4 1.1 2.1 2.2 2.1 9.6 4.3 2.7 2 4.2 4.7 2.2 1.5 2.7-.2 .2 2.2-2.4 4.3-.2 3.7 .8 1.8 2.1 2.9zM430.4 705.5l-.7-1 .1-1.6 1.1-1.3 1.6 .1 1 1.2-.2 1.6-1.3 1.3zM437.3 814.4l1.6 0 1-.8 .2-1-.6-1.2-1.1-.2-1.3 .8-.5 1.1zM458.2 698.7l1.5-.1 .1-.9-1.8-.2-.4 .5z"/><path id="p4_1" d="M490.3 851.6l4.8-.2 2.5-4.1 .3-1.6 3.1-2.2 .7-1-.7-.8-1.6 .6-.8-.8 .5-4.3-.4-1.1-5.2-3.6-7.7-7.1-6-10.2-1.2-4.2-2.5-4.9-1.8-2.1-.6-3.2 .8-2.2-.1-2.1-3.9-3-1.7-3.4-.9-4.3 1.5-3.2-.1-2.7-3-6.4 .5-2.2 2.1-1 1.7-2.2 1.1-4.8-.1-1.8-2.1-3-3.7-3.2-3.9-2.6-1.4-2.2-.5-6.4 1-4.9-.6-4.2 .4-3.8 1.5-4.8 .1-1.6-1-3.2-.1-5.4 1.1-5.3 1.4-1.6 2.2-1.1 .4-1.6-1.3-1-5.3-.9-8-3.5-4.3-.8-3.2-1.2-2-1.7-1.3-2.1 .1-2.7 .5-1.6-.5-1.8-5.9-1.3-4.8-2.4-1.1 1.7 .2 4.8-3.4 3.7-3.1 4.4-1.1 3.2 .5 2.1 3 3.2-.2 3.8-2.3 3.5-1.8 1.3-2.5 .6-1.1 1.5 .2 2.2 2.6 2.7-.8 3.2-.7 8-.7 1.1-2.2 1.3-3.7 0-.5 .8 1 .9 1.6 0 5.4 1.8 1.6 1.6-1.9 4.8-.4 2.7 .2 4.3-3.3 8.5-.8 4.8-3.3 7.5 .2 1.1 3.5 5.4 .4 2.1-2.8 8.6-2.9 6.4-7.5 11.2-.7 4.3-1.3 3.7 .5 12.9 .8 .7 1.1 0 3.2-1.6 1.6 1.1 .9-.2 1.2-1.5 .3-1.7 1.3-1.9 3.2-2.6 5.4-2.7 2.1-1.7 3.2-3.5 1.5-6.4 1.2-2 2.2-2.2 3.2-1.7 1 0 4.9 2.1 3.5-2 2.3-.2 3.2 1.8 8.7 9.6 6.3 5.3 1.3 2.2 2 1.9 9.6 4.4 2.7 2 4.2 4.7 2.2 1.5 3-.1 .1 2.2-2.2 4.3-.3 3.7 1 2 2.1 2.4zM430.1 705.5l-.7-1.6 .8-2.1 1.8-.5 1 .4 .7 1.2-.7 2.1-1.6 1zM437.9 814.3l1.6-.7 .2-1-.8-1-1.8 1-.1 1zM458.7 698.6l1-.6-.4-.5-1.4 .5z"/><path id="p4_2" d="M491.4 851.1l3.2 0 1.1-1.1 .9-2.7-.1-4.8 1.8-3.9 .2-1.4-1-1.6-4.5-3.2-7.1-6.5-3.6-6.4-2.4-3.2-1-2.1-1.1-3.8-3.6-5.9-.8-3.7 .8-3.8-.7-1-2.7-1.6-1.5-2.2-1.7-5.9 .2-1.6 1.4-2.6-.2-2.2-1.6-2.1-1.4-4.3 .2-2.7 2.5-1.1 1.3-1.8 1.4-4.6-.3-1.6-1.1-1.7-4.3-4.2-4.1-3.2-1.3-2.1-.6-6.4 .9-5.4-.6-3.7 .4-3.8 1.5-4.8-.9-8 .8-5.4-.1-1.6 1.4-2.1 2.6-1.4 .4-.8-1-1-4.2-.7-9.1-4-7.5-1.9-2.5-2-1.2-1.6-.1-2.7 .6-2.1-.6-1.1-5.3-1.5-4.3-2.1-.5 .2-.6 1.8 .7 2.7-.3 1.6-4.1 3.6-2.9 4.4-.9 2.7 .3 1.6 2.4 2.4 .7 1.3-.2 3.8-2.3 3.7-1.9 1.4-2.7 .7-.8 1.1 .2 2.2 2.2 1.4 .5 1.3-1.1 5.3-.1 4.3-1 2.7-3.4 2.1 .1 .5 5 2.1 1.5 1.7-2 4.8-.1 7.5-1.5 2.8-1.8 5.2-.9 5.4-3.1 6.9 .1 1.1 4 6.4-3.5 10.7-2.7 5.9-7.2 10.7-1.8 7.5-.1 5.4 .7 4.2-.3 3.3 .5 .6 1.1 .1 1-1 2.2-.7 2.1 1.1 1.2-1.2 .3-2.2 1.7-1.7 3.2-2.5 7.3-4.3 3.3-3.8 1.5-5.9 1.3-2.2 2.2-2.2 3.7-1.8 2.1 .4 2.7 1.6 3.8-1.8 2.6-.1 3.3 1.8 4.5 5.4 5.1 5.1 5.3 4.4 1.5 2.3 1.8 1.7 9.6 4.5 2.7 2 4.2 4.8 2.2 1.5 1.1 .1 1.6-.5 .5 .3 .1 2.2-2.1 4.3-.3 3.7 .7 1.4 2.1 2.2zM430.5 706.1l-1.1-1.1 0-2.1 1-1.6 2.6-.8 1 1.8-.4 2.2-1.6 1.5zM437.9 814l1-.4 0-1.3-.5-.2-1.1 .7 0 .8zM458.7 698.3l.7-.3-.7-.2-.5 .2z"/><path id="p4_3" d="M493 850.6l1.6-.2 1-1.5-.3-6.4 .7-2.1 1.8-2.2 .1-1-1.2-1.6-3.7-2.4-2.6-3-4.9-4.2-2.7-5-4.2-6.3-1.8-5.4-2.9-4.8-.8-3.7 .6-3.8-3.7-2.7-1-1.5-1.3-4.3-.2-3.8 1.3-2.1 .1-1.1-.5-2.1-1.6-1.4-1.1-4.5 .7-4.8 .6-1.1 .8-.3-.2 1.4 .2 .5 .6-.2 .6-1.4-.2-1.1 1.2-1.4 .7-2.3-1.3-2.2-8-7.8-1.4-2.3-.6-5.9 .7-5.9-.5-3.7 .4-3.8 1.4-4.8-.8-8 .8-5.9-.3-1.6 1.4-2.4 2.3-1.4-3.9-1.1-4.9-2.7-4.2-1.7-7.9-2-3.8-3.2-2.1-5.9-5.5-2.7-1.6-.2 .7 5.1-1.4 1.6-3.7 2.1-2.9 4.8-.8 2.2 .4 1.6 2.1 2.1 .8 1.6-.3 3.8-2.4 4-2.1 1.5-2.2 .4-1 1.6 .5 1.7 2.2 1 .5 2.1-1.3 5.3-.4 5.4-.8 1.6-1.9 1.6 .8 1.1 3.7 1.6 .9 1.6-2.2 4.8 .2 7.5-1.8 3.2-1.9 5.4-.5 4.8-2.8 5.3-.6 2.2 3.8 5.9 .2 1-3.7 11.3-2.1 4.8-7.8 12.3-1.3 5.9-.3 4.8 1.3 7.5 .3 .4 2.1-1 2.3 0 6.8-5.8 7.5-4.6 3.3-3.5 1.7-5.9 1.2-2.1 1.8-2.1 2.2-1.4 3.2-.9 4.3 1.7 3.2-1.4 2.6 0 3.3 1.8 4.6 5.5 5 5 5.3 4.4 3.3 3.8 9.6 4.7 2.7 2 4.2 4.8 2.2 1.4 1.1 .3 2.1-.6 .4 .4 0 2.2-2 4.3-.3 2.1 .3 2.1 2.7 2.6zM429.8 706.1l-.9-1.1 .1-2.1 1-1.7 1.7-1 1.3-3 1.1-.1 .5 .9 .1 1.6-.2 2.7-.8 2.2-1.7 1.7z"/><path id="p4_4" d="M490.8 849.5l3.2 .3 1-.9-.7-6.4 .5-2.1 1.6-2.2 .2-1-4.2-3.4-2.7-3.6-3.7-2.8-3.6-6.3-2.7-3.7-1.5-2.7-2.2-5.9-2.5-4.3-1-3.7 .2-3.2-2.2-1.5-1.1-1.4-2.1-6.2-.2-3.8 1.3-2.1 .1-1.1-.7-1.9-1.6-.8-.8-5.3-.3-5.9 .5-3.2 2.5-2.1 0-.6-1.1-2.1-7.1-8.6-.9-6.4 .5-3.8-.3-6.4 1.7-9.6-.7-6.4 .6-5.9-.7-2.2 1.4-2.6-6-4.4-4.1-1.5-7.7-1.9-3.2-1.9-2.6-3.2-1.8 1.6-.8 5.4-1.4 2.7-1.9 1.8-2.2 .3-1.3-1.1 0-2.1 .9-2.2 1.6-1.6 .4-2.6-1-1.1-2.7 .3-1.8 1.8-2.5 5.4 .1 1.1 2.5 2.6 .7 1.6-.7 4.3-3.1 4.5-1.6 .9-2.1 .5-.6 1.1 .5 1.4 2 .7 1 3.2-1.7 5.4-.3 5.3-1.5 2.7 3.7 2.2 .9 1.6-2.7 5.3 .1 3.2 .7 2.2-.2 2.1-2 3.7-2 5.4-.4 4.8-1.2 2.7-1.7 2.4-.7 1.9 1.7 3.2 2.1 2.7 .1 1-5.7 16.1-7.7 12.3-1.6 10.2 .5 3.8 1.6 2.5 2.7-.2 14.5-9.4 3.4-3.2 2-5.9 1.5-2.5 1.6-1.9 3.2-2.1 2.7-.5 3.2 1.5 4.3-1 2.7 .2 2.7 1.7 4.7 5.7 4.9 4.9 5.3 4.3 3.3 3.7 9.6 5 2.7 2 4.3 4.7 2.1 1.4 1.3 .2 1.9-.8 .8 .3 0 3.2-2 3.8-.2 2.1 .9 2 1.6 1.8zM433.6 691.3l1 0 .5-.8-1.4-1-1.1 0 .1 1z"/><path id="p4_5" d="M491.9 848.6l1.6 .3 .6-1-1-3.2 .8-7-.8-1.6-1.2-.4-1.6 4.2-2.2 3.7 .6 1.8zM485.5 836.3l1.6 .1 3.3-2.4-.1-1.6-1.5-2.2-2.8-2-1.1-1.4-3-5.7-4-5.9-4.6-10.1-2.2-6.5-2.7-4.5-1.4-5.1-.3-4.3 1.4-3.2-.3-.8-1.6-.9-.5-1-1.4-11.2 .1-3.2 1.7-3.8-.4-1-1.8-1.6-1.3-2.7-2.8-3.9-1.2-6.3 .4-4.3-.3-6.9 1.5-9.6-.6-5.4 .2-5.9-.7-2.7 .9-2.1-.2-1.1-4.3-3.5-5.3-1.8-5.4-1-6.9-3.1-1 .9-1.2 3.7-2.6 3.2-2.2 1.5-2.1-.1-.8-.3-.5-1.1 .4-3.7 2.2-2.7 .3-1.1-1-1-1.7 0-1.1 1-.4 2.7-1.2 1.5-.6 1.7 1 1.6 1.9 1.6 .1 2.2-1 3.7-1.7 3.2-1.5 1.6-1.4 1.1-1.9 .5-.3 .6 .1 .5 2.1 1.6 1.1 3.2-.7 3.8-1.1 2.7-.5 6.4 2.8 2.3 .7 2-3.1 5.8 .2 2.2 1 2.7-.3 2.1-2 3.7-1.9 5.4-.5 4.8-.7 2.2-2.5 3.2-.6 1.6 1.7 3.5 1.6 1.8 .2 1.6-3.5 11.3-2.1 4.8-7.6 12.8-1.4 9.7 .5 3.7 1.6 1.6 2.1-.3 3.2-1.5 11.8-7.9 2.7-2.5 2.1-5.5 1.6-2.6 1.6-2 2.7-2 3.2-1 3.8 1.5 3.2-.6 2.1 .1 1.6 .4 2.2 1.5 4.8 5.8 4.8 4.8 5.3 4.3 2.2 2.6 11.2 6.4 2.2 1.7 4.5 4.8z"/><path id="p4_6" d="M485.5 836.2l1.1 .3 1.4-.9 1.1-2.7-.3-1.1-3.3-3.5-8-13-5.9-13-2.4-4.2-2.8-9.1-.2-4.3 .7-2.1-1.6-3.2-1.9-13.9 1-4.9-1.8-2.1-.8-3.2-2.5-4.3-1.1-5.9-.1-11.2 1.2-10.2-1.3-12.8 .9-3.8-2.3-2.6-4.3-1.9-7.5-1.5-2.7-1.1-3.7-.5-2.4 3.4-3.5 3.4-4 1.9-3.4 8.6-3.5 3.2-.1 .5 1.8 3.2 .5 2.2-.5 3.7-1.2 3.2-.2 4.8 2.1 2.2 .9 3.2-.8 2.1-2.1 3.2 .9 5.4-4.2 11.2-.4 4.3-.8 2.8-2.7 3.3-.5 1.4 1.1 2.2 1.6 1.6 .4 2.1-.4 2.1-3.8 11.8-2.1 4.5-2.5 3.5-4 7.5-1.3 9.1 .3 3.8 1.1 1.2 1.6-.1 3.2-1.3 7-4.1 7.4-5.9 3.1-6.4 2.8-3.8 4.3-3 2.7-.4 2.8 1.3 5.7 .2 2.7 1.5 9.7 10.4 5.8 4.9 2.2 2.3 11.2 6.7 2.4 1.8 4.4 4.8z"/><path id="p4_7" d="M485.5 836.1l1.1 .2 1.2-.7 .1-3.2-3.7-5.4-9.4-15.9-5.9-12.5-2.9-9.6-.4-3.7 .2-2.2-1.4-5.3-1.6-12.3-.1-4.3-1.5-5.4-2.2-4.8-1.1-5.3-.2-11.8 .7-3.8-.1-5.8-.2-3.3-1.3-4.8-.1-4.2 1.4-4.9-1.5-2.1-4.3-2-6.4-1.3-3.8-1.2-2.6 .1-10.2 8.1-3.8 8.5-2 3.3 .8 5.4-.3 4.8-.8 4.8 1.3 3.1 .8 3.9-.3 3.1-1.2 3.8-.9 6-3.4 10.1-1.2 7.5-1.6 3.7 .9 5.9-.6 2.7-3.5 11.2-2.4 5.1-4.2 6.7-1.6 3.7-1.4 8.6 .2 4.3 .6 .5 1.6 0 10.1-5.2 7.2-6 3.2-5.9 2.7-3.8 4.6-3.4 3.2-.8 3.2 1.4 4.8 .7 1.7 .7 2.8 2.5 3.6 4.5 4.6 4.6 5.5 4.5 1.1 1.4 4.5 3.2 7.8 4.5 2.5 1.9 4.4 4.8z"/><path id="p4_8" d="M486 836.2l1.4-.6 .3-1.6-.4-1.6-13.1-21.9-5.8-12.4-2.7-9.1-1.9-11.2-.4-6.4-.5-1.7-1-9.1-1.1-4.8-2.1-4.8-1.1-5.3-.1-12.3 .5-3.3-.7-8.5-1.3-5.4-.1-4.8 1.7-4.3-1.5-2.1-3.8-1.7-10.2-2.3-2.1 .1-5.4 3.6-4.8 4.2-2.2 4.1-2.7 6.4-.6 2.7 .4 3.8-.4 8.5 1.3 8.1-.8 6.4-4.6 16.6-2.5 12.8 0 4.3-.5 2.7-3.4 11.2-2.6 5.4-4.2 6.9-1.2 3.2-1.5 8.6 .2 3.7 .7 .7 1.1-.1 9.8-4.8 7.8-7 5.4-8.6 4.8-3.7 3.2-1.1 4.8 1.9 3.2 .6 2.7 1.5 2.5 2.4 2.9 3.8 9 8.5 5.4 4.3 9.1 5.5 2.6 2 4 4.3z"/><path id="p4_9" d="M486 835.7l.9-.1 .2-.6-.6-3.2-11.9-20.3-4.8-9.6-3.2-8.6-2-7.9-3-24.8-1.2-4.8-1.9-4.8-1.2-5.3-.1-12.3 .5-3.3-.4-5.3-1.7-8.6-.2-4.8 1.4-3.7 0-1.1-1.6-1.6-3.4-1.4-9.7-1.9-2 .1-5.2 3.2-4.8 4.3-2.1 3.7-2.7 7-.5 2.7-.1 11.7 1.1 8.1-.7 6.4-4.6 17.1-2.3 12.3-.4 4.8-1.7 7-2.1 6.4-6.7 12.3-1.1 3.2-1.5 8.6 .4 3.7 3.9-1 6.9-3.6 7.6-6.6 5.8-8.9 4.8-3.7 3.2-1.1 9.7 3.2 3.2 3 7.5 8.3 4.8 4.3 6.9 5.2 7.5 4.6 2.7 2.1 4.2 4.4z"/><path id="p4_10" d="M484.4 834l1.1 .3 .5-.3-.2-2.2-2.5-5.3-9.1-15.3-4.8-9.8-3-8.1-2-7.5-3.2-25.2-4.1-14.9-.2-12.3 .5-2.7-.4-5.9-1.7-8-.6-5.4 1.2-4.3-.9-1.2-3.2-1.5-11.3-1.6-5.3 3-4.3 3.5-2.7 4.3-2.4 6.4-.6 2.7-.1 11.2 1 8.6-.7 6.4-4.6 17.1-2.8 17.1-1.7 7-2.3 6.9-6.3 11.8-1.3 3.8-1 8 .2 2.1 .7 .6 2.1-.6 7.5-3.6 7.5-6.5 3.9-6.5 2-2.4 4.8-3.5 3.8-1 7.4 2.3 2.2 1.1 10.3 11 4.9 4.3 8.8 6.4 5.4 3.4z"/><path id="p4_11" d="M483.9 832.5l.5-.1 .1-.6-1.4-5.3-8.9-15-4.8-9.8-3.2-8.4-2-7.5-3.3-24.8-4.1-14.8-.2-20.9-2.9-13.9 .6-3.7-.4-.8-5.3-2-8.1-.5-4.7 2.2-4.2 3.2-2.6 3.8-2.6 6.4-.6 3.2-.3 10.7 .8 8.6-.7 6.4-4.3 17.1-3 17.1-1.7 7-2.5 7.5-5.7 10.6-1.6 4.4-.5 3.2 .2 5.3 .3 .6 1.6-.1 7-3 7-6 6.5-9.1 5.2-3.7 3.8-1 9.6 3.1 10.7 11.2 4.8 4.2z"/><path id="p4_12" d="M482.3 830.4l.7-.2 .3-1.1-.4-2.6-8.8-15-4.7-9.6-3.2-8.1-2.3-8-1.4-7.5-2.1-17.1-4-15-.3-20.9-4.1-16.6-1-1-3-1.2-6.4-.6-2.7 .6-5.7 3.3-2.3 2.3-2.4 4.1-1.4 4.3-.7 3.2-.4 9.7 .5 10.1-1.5 9.7-3.2 12.8-3.8 19.8-2.2 8-2.1 5.4-5.3 10-1.1 3.4-.5 3.2 .6 3.4 .5 1 1.1 .1 5.8-2.4 6-4.8 6.4-8.8 1.6-1.5 6.4-3.9 2.1-.5 2.7 .1 8.3 2.8 10.4 11 4.8 4.3z"/><path id="p4_13" d="M480.7 828.7l1.6 .2 .5-2.1-8.8-15.3-4.7-9.6-3.3-8.1-2.4-8-2.8-15.5-.8-8.6-4-15.5-.5-20.9-2.4-9.1-3.5-6.9-6.4-1.5-4.8 .6-4.3 2.1-2.7 2.3-2 3.4-1.4 4.3-1.2 7-.1 16-2 13.4-7.6 33.7-2 6.4-6.6 13.4-.8 2.7 0 3.7 .7 1.6 .9 .6 4.5-1.7 6.1-4.7 6.7-8.8 2.2-1.9 6.9-3.7 2.2-.4 3.7 0 7.5 2.8 14.8 15.2z"/><path id="p4_14" d="M480.7 827.7l1.6 .1 .1-1.3-8.5-15-4.8-9.6-3.4-8.1-2.5-8-3.1-15.5-.7-8.6-3.9-15.5-.6-20.9-2.1-7.5-2.2-4.2-2.6-2.7-5.3-1-3.8 0-1.6 .4-3.2 1.6-2.7 2.4-1.3 2.5-2.3 7.5-.7 7.5-.2 12.3-1.1 9.6-2.8 12.3-.6 4.8-6 23.6-7.2 16-.9 2.7 .1 3.2 1.1 1.1 1.1 .1 4.8-2.5 3.7-3.2 7.2-8.9 2.1-1.6 7.3-3.6 6.4-.8 5.9 1.8 1.9 1 15 15.5z"/><path id="p4_15" d="M481.2 827.1l1-.1-.4-1.1-8-14.4-4.8-9.6-3.3-7.5-2.8-8.6-3.3-15-1.3-12.3-3.1-11.8-.9-20.8-.8-4.3-1.2-3.2-2.7-4.2-2.1-1.5-3.8-1.1-3.7-.1-4.3 1-2.7 1.5-1 1.2-1.4 2.6-2.2 7-.9 7-.3 11.7-1 7-.1 3.2-3.1 17.1-5.9 22.5-7.6 17.7-.6 2.1 .1 2.5 1.6 .6 4.2-2 3.5-3.2 5.1-6.2 4.3-3.7 7.5-3.7 5.9-1.5 1.6 0 5.9 1.7 2.1 1.2 2.3 2 3.5 4.3 6.1 5.3 3.6 4.3z"/><path id="p4_16" d="M481.2 826.2l-.5-1.9-6.8-12.3-6.5-13.4-3-6.9-1.8-5.9-3.4-15-1.2-12.3-3.1-11.8-1-20.8-.8-4.3-1.2-3.2-2.4-3.2-4.2-2.4-2.1-.6-3.2 0-3.8 1-3.2 1.9-1.4 2.2-2.7 7.5-1 7-.5 12.3-1 6.4 0 3.2-2.9 17.1-6 22-7.5 18.2-.7 2.1 .2 2.1 1.1 .2 3.9-1.8 2.9-2.6 5.5-6.5 4.8-3.9 7.5-3.7 5.9-1.6 1.6-.1 6.4 1.9 3.7 2.4 8 8.8z"/><path id="p4_17" d="M479.6 823.9l-14.4-29.5-3.9-12.3-2.4-11.3-1.1-11.8-3.1-12.3-1.1-20.8-.8-3.9-2-4.7-1.7-1.9-2.1-1.3-4.3-1.3-2.7 0-3.8 1-2.6 1.5-1.5 2-3 8-1 6.5-1.4 21.9-3 17.7-5.6 20.3-5.2 12.8-2.9 8.4 0 1.3 1.6 0 2.7-1.3 8.6-9 4.7-3.6 7.6-3.8 5.9-1.8 2.1 0 5.9 1.9 4.1 2.6 7.7 8.6z"/><path id="p4_18" d="M475.8 819.5l.4-.5-.4-1.3-3.7-8.8-8.2-17.2-3.4-11.8-1.9-9.1-1.2-11.8-2.9-11.7-1.3-21.4-.8-3.8-2.3-4.8-3.5-2.7-4.5-1.2-5.9 1.1-2.1 1.2-1.6 2-3.1 7.6-.9 6.5-1.5 22.4-2.9 17.2-6.8 23.5-4.1 9.6-1.6 7.5 .3 .6 .8-.2 3.2-2.1 6.7-6.8 4.6-3.5 7.4-3.9 5.9-1.9 2.7-.2 5.9 2.1 4.3 2.7 8 8.9 8.5 7.5z"/><path id="p4_19" d="M473.2 816.5l.5 .2 .5-.4-2.1-6.6-8.4-17.5-3.6-12.3-1.8-8.5-1.2-11.8-2.9-12.3-1.3-20.9-.9-3.7-2.4-4.9-3.7-2.6-3.8-.9-5.3 1-2.2 1.2-1.6 1.8-3.2 7.1-1 6.9-1.4 21.4-2.3 15-6.6 23-4.4 11.2-.5 6.4 .7 .5 .8-.5 9.9-8.6 8.6-5 6.9-2.5 2.7-.2 3.2 .9 5.5 3.1 5.5 5.4 4.1 4.8 6.9 6z"/><path id="p4_20" d="M471 813.8l.9-.2 .1-.5-.5-3.8-8.3-17.1-3-10.1-2.4-10.7-1.2-11.8-2.3-9.7-1.9-23-1.2-4.2-2.6-4.7-3.3-1.9-3.2-.7-4.8 .8-3.6 2.7-1.7 2.8-1.8 4.2-.9 6.4-.3 9.1-.7 4.8-.3 7.5-2.3 15-7 23-4.1 10.7 .2 4.3 .6 .7 1.6-.7 7.6-6.4 9-5.7 6.9-2.5 3.2-.1 4.3 1.6 4.3 2.9 9.6 10.4 5.9 5.2z"/><path id="p4_21" d="M469.4 812.2l1.3-.2 .1-3.2-8.2-16.6-5.3-20.8-1.4-11.8-2-9.7-2.3-24-1.5-3.8-2.6-3.7-4.3-1.7-5.3 .6-3.3 2.1-2 2.7-1.9 4.3-.9 5.9-.2 9.1-.7 4.8-.3 7-2.2 15.5-7.4 23-4 10.2 0 1.6 .9 1.7 1.1 .1 4.3-3.6 12.3-8.3 6.4-2.4 3.7-.2 4.2 1.4 2.3 1.5 5.8 5.5 7.5 8.4 3.8 3.4z"/><path id="p4_22" d="M468.4 811l1.6 0 .1-2.2-8.2-17-2.7-9.2-2.5-11.2-1.4-11.8-1.9-9.7-1.2-14.9-1.3-9.1-1.7-3.8-2.2-2.7-4.3-1.5-4.8 .7-2.2 1.2-2.2 2.3-2.5 5.4-1.8 26.2-2 15-1 3.7-3.6 8.6-4.7 14.4-2.6 6.5 .1 1 1 .9 1.1-.2 16.1-11.5 6.4-2.5 3.2-.4 5.4 2 1.6 1 4.2 4.2 9.5 10.8z"/><path id="p4_23" d="M468.9 810.4l.7-.5-.1-1.1-7.7-16.6-3.6-11.8-1.9-8.5-2.6-17.1-1.8-19.3-1.5-9.1-1.9-3.7-2.1-2.3-3.7-1.5-2.2 0-4.3 1.8-1.6 1.5-1.8 2.6-1.3 3.2-.9 14.5-.5 1.6 0 4.2-2.2 20.4-1.3 4.3-3.8 8.5-7.1 20.9 .7 .5 2.2-1.2 9.1-6.2 5.3-4.5 8.1-3.6 2.1-.2 2.1 .8 4.9 2.8 13.9 15.9z"/><path id="p4_24" d="M467.8 809.4l1.1 .2 .1-.8-7.5-16.6-3.2-9.6-.9-4.3-3.5-19.8-1.6-12.8-.7-10.2-1.6-9.1-1.7-3.2-2.1-2.2-3.5-1.6-2.2 0-3.7 1.8-2.2 1.9-1.5 2.2-1.1 2.7-1 9.1 0 5.4-.5 1.6-.1 4.2-.4 1.6-1.7 18.8-1.2 4.3-5.5 12.8-5.3 16.1 1.8-.6 9.1-6.1 9-7.3 4.3-1.8 2.2-.3 3.5 1.6 4 2.6 10.9 12.9z"/><path id="p4_25" d="M467.3 807.8l0-1.7-7.1-16.6-3.2-11.2-3.9-23.5-1.1-9.1 0-4.3-1.9-13.4-2.1-4.4-1.6-1.7-3.9-1.9-1.9 0-3.8 1.8-1.6 1.3-1.7 2.2-1.1 2.7-3.9 41.2-1.1 3.8-5.6 13.1-3.7 11.6-.4 2.6 9.5-5.7 9-7.4 3.8-1.6 3.2-.2 7 4.1 3.2 3.3 8 9.9z"/><path id="p4_26" d="M465.1 804.7l.2-.7-1.5-5.4-5.9-15.5-2.3-10.7-2.7-17.1-1.1-9.6-.1-4.3-2-13.4-1.1-2.5-2.2-2.9-4.3-1.9-1.6 .1-3.2 1.3-1.6 1.2-1.7 2-1.3 3.2-3.9 40.7-1.1 3.8-5.9 14.4-2.3 10.2 2.3-.7 5.4-3 10.1-7.8 2.7-1.1 3.2-.2 3.2 1.6 4.3 3 3.2 3.4 5.3 6.9 2.7 2.9z"/><path id="p4_27" d="M463.5 802.4l0-3.8-5.8-15.5-2.4-10.7-2.7-17.1-1.2-13.9-2.1-12.9-.9-2.1-2.5-3.2-3.8-1.6-2.1 .2-3.9 1.9-1.8 2.2-1.2 2.6-2.9 26.8-1.1 13.9-1.6 5.4-5.3 13.3-.7 7 1.4 .1 5.9-3 3.2-3 5.9-4 2.1-.7 3.2-.2 3.8 1.9 3.7 2.6 3.5 3.6 5.5 7.5 2.5 2.2z"/><path id="p4_28" d="M462.5 800.9l.5-.8 0-2-5.5-15-2.5-10.7-2.7-17.1-1.1-9.1-.1-4.3-2.5-13.4-1-2.1-2.3-2.5-3.2-1.4-2.1 .2-3.3 1.6-1.9 2.1-1 2.1-3.4 27.3-.9 13.4-2.4 8-3.8 9.7-.2 5.3 .3 .8 .5 0 4.3-1.7 7-5.7 2.4-1.4 2.4-.8 3.2-.2 3.8 1.9 4.2 3.2 5.5 6.1 3.6 5.2z"/><path id="p4_29" d="M461.9 799.8l.6-.6 .1-1.6-5.4-14.5-2.6-10.7-3.3-22.5-.6-8-2.7-12.9-1-2.1-2.2-2.2-2.7-1.1-2.1 .1-3.2 1.6-1.4 1.6-1 2.2-3.9 28.9-.6 11.2-5.6 17.7 .2 3.7 1 .4 2.7-.8 6.7-5.5 2.4-1.4 3.8-1 2.6 .1 3.8 2.1 5.5 4.5 4.7 5.3 3.1 4.9z"/><path id="p4_30" d="M461.4 798.7l.7-.1 .1-1-4.8-12.9-3-11.7-3.6-23.1-.7-8-2.8-12.8-.9-1.6-2.1-1.9-2.2-1-2.1 .1-2.4 1.2-1.5 1.6-.9 1.6-4.4 28.9-.4 11.6-3.8 14.1-1.1 2.6 0 2.2 .6 .8 1.6-.1 6.4-5.1 2.7-1.5 3.7-1.3 3.2 0 4.3 2.4 7 6.2 3 3.4z"/><path id="p4_31" d="M460.9 796.2l0-1.2-4.2-11.3-2.7-10.7-4.4-31.1-2.5-11.2-.8-2.2-2-1.9-1.6-.9-2.2-.1-2.1 .8-1.7 1.6-.8 1.6-3 15.5-1.9 12.9-.3 11.7-4.3 17.7 .8 .8 .8-.3 5.7-4.8 4.3-2.1 3.6-1 2.1 .3 4.9 2.7 7.4 6.5z"/><path id="p4_32" d="M458.7 791.7l-5.1-18.7-3.9-28.4-2.4-11.8-1.2-3.7-.8-.9-2.6-1.9-2.2-.1-1.6 .6-1.6 1.4-1.3 3.6-2.8 13.3-2 13.4-.1 11.2-2.5 12.9-1.4 4.3 .5 .3 .4-.3 6-4.9 3.8-1.8 3.7-1.2 3.4 .9 3.6 2.2 7.8 6.9z"/><path id="p4_33" d="M456 787.5l.6 .3 .3-.4-4-16.6-3.5-26.2-1.6-8.6-2.2-6.9-1.9-1.7-2.6-.7-2.2 .7-1.9 2.2-3.1 12.9-2.5 16 0 11.2-1.8 9.7 0 3.7 .2 .4 1.1-.3 7-3.6 4.2-1 3.2 .9 3.8 2.2z"/><path id="p4_34" d="M453.9 784.2l.5 .1 .2-.6-.3-2.7-1.9-10.2-3.1-25.7-1.8-9.1-2.2-6.4-2.1-1.7-2.1-.4-2.2 .7-1.5 1.9-3.9 15.6-1.7 12.8-.1 11.2-.8 4.9-.2 5.3 .6 1.1 .7 0 10.1-3 2.7 .6 4.8 2.2z"/><path id="p4_35" d="M451.2 780l.6 .2 .3-.8-.5-13.4-2.4-20.9-1.2-5.9-1.6-5.8-1.1-2.3-1.6-1.9-2.6-.7-2.2 .9-1.7 2.9-3.5 13.4-1.7 15.5 0 17.1 .5 .9 1.1 .1 8.5-1.9 3.2 .5z"/><path id="p4_36" d="M434.6 777.8l6.5-1.2 8.5 .9 .6-.3 .6-2.1 .2-9.1-2.5-23.5-2.6-9.1-2.2-3-1.6-.9-2.5 .6-1.9 2.7-2 5.2-1.7 7.7-1.5 15.5 0 6.4 .8 9.1 .3 .8z"/><path id="p4_37" d="M435.2 775.8l13.4-.2 1-2.1 .6-3.8 0-7.4-1.9-19.8-2.7-8.6-1.9-2.3-2.1-1-1.6 .6-2.8 3.8-1.9 5.3-1.1 5.4-1.2 21.9z"/><path id="p4_38" d="M440.5 774.6l2.2 .1 4.8-.9 2.2-6.7-1-21.4-.6-3.2-2.8-8-2.1-2.1-1.6-.5-1.6 .6-2.1 2.4-2.3 5.4-1.2 5.4-.8 17.1 0 5.3 1.4 3.3 1.8 2.3z"/><path id="p4_39" d="M440.5 773.2l1.6 .3 3.8-1.1 2.5-3.2 .8-2.1-.6-21.4-.6-3.2-1.1-3.8-1.8-3.7-1.4-1.3-1.6-.7-2.1 .5-2.1 2-2.1 4.8-1.2 5.9-.5 21.4 1.6 2.9 2.6 1.9z"/><path id="p4_40" d="M440.5 772l1.6 .3 3.2-1.1 2.4-2 1-2.1-.3-22-1.2-4.8-2.2-4.8-1.3-1.3-1.6-.6-1.6 .1-2.2 1.8-2.2 4.8-1.4 5.9-.2 21.4 1.7 2.4 2.7 1.7z"/><path id="p4_41" d="M441.1 771.6l3.2-.5 3.2-2.4 .7-1.6 .4-5.4-.3-1.6 0-14.4-.7-3.2-1.2-3.8-1.8-3.2-2.5-1.5-2.6 .8-1.1 1.3-2.2 4.3-1.3 5.8-.1 20.9 1.4 2.3 2.7 1.6z"/><path id="p4_42" d="M439.5 770.3l2.1 .4 2.1-.4 2.8-1.6 1-1.6 .7-4.8 .1-14-.7-5.3-1.3-3.8-1.5-2.7-1.1-1.3-1.6-.6-2.1 .5-1.6 1.8-2.1 3.9-1.3 5.4 .3 20.3 1.2 2.2z"/><path id="p4_43" d="M439.5 769.2l3.7 .1 2.7-1.4 .8-1.4 1.1-4.8 .2-16-2.1-6.7-2.2-3-1.6-.6-2.1 .5-2.1 2.7-1.3 2.2-1.4 5.4 0 8 .8 11.8 .8 1.6z"/><path id="p4_44" d="M440 768.2l3.7-.3 2.1-1.9 1.2-3.7 1-10.2-.2-6.4-1.4-4.9-2.1-3.2-2.2-1.3-2.1 .6-2.1 2.5-1.8 3.6-.7 3.2 0 8 1.3 10.7 1 2.2z"/><path id="p4_45" d="M440.5 767.1l3.2-.6 1.6-2 1.8-6 .8-6.9-.2-5.9-1.7-4.9-2.3-2.8-2.1-.8-2.1 1.1-2 2.5-1.1 2.2-.9 3.7 .1 7.5 1.8 9.7 1 2.1z"/><path id="p4_46" d="M440.5 765.6l2.4-.1 1.9-2.2 2.2-5.7 .7-6-.2-5.9-1-2.7-2.8-4.1-2.1-.8-1.6 .6-2.1 2.3-1.3 2.5-.9 3.2 .1 7 .8 4.3 2 5.9z"/><path id="p4_47" d="M441.1 764l1 0 1.6-1 1.6-2.5 1.4-3.6 .9-5.3-.1-3.8-1.1-4.3-2.1-3.2-2.2-1.4-2.1 .5-1.9 2-1.2 2.1-.9 3.2 0 7 1 4.3 2.4 4.8z"/><path id="p4_48" d="M441.1 763l1 .1 1.1-.6 1.8-2.4 1.4-3.2 .9-5.9-.3-5.3-1-2.2-1.7-2.6-2.2-1.5-1.6 .2-1.9 1.8-1.4 2.1-1 3.2 .2 7 1.1 4.3 2.4 4.3z"/><path id="p4_49" d="M441.1 762.4l1.6-.3 2.1-2.8 1.1-2.7 1.1-6-.4-4.4-.7-2-1.6-2.7-2.2-1.7-1.6 .3-1.8 1.8-1.4 2.5-.7 2.9 .2 5.9 1.1 4.2 1.1 2.7z"/><path id="p4_50" d="M441.6 761.8l2-1.7 1.2-2.7 1.4-8.5-.3-2.7-1.6-3.9-1.6-1.7-1.1-.3-1.1 .3-1.5 1.9-1.1 2.1-.7 2.7 .4 5.9 1.1 4.2 1.1 2.7z"/><path id="p4_51" d="M441.6 760.7l1.4-1.1 .9-2.2 1.4-8.5-.9-4.8-1.2-2.2-1.6-1-1.5 1-1.3 2.2-.8 3.7 .4 4.8 1.1 4.8 .8 2.2z"/><path id="p4_52" d="M441.6 759.3l.9-.8 .6-1.6 1.3-7.5-.7-4.8-1-2.1-1.1-.7-1.1 .8-1.1 2-.5 3.2 .3 4.8 1.3 5.3z"/><path id="p4_53" d="M441.6 756.1l1.1-2.1 .8-4.6-.3-3.7-1-2.2-.6-.4-1.4 2-.4 2.7 .3 4.8z"/><path id="p4_54" d="M441.6 752.7l.5-.6 .5-2.7-.3-2.7-.7-1.1-.7 1.1-.2 2.7 .3 2.7z"/></defs><use href="#p4_0" fill="#6300ff"/><use href="#p4_1" fill="#4c00ff"/><use href="#p4_2" fill="#3600ff"/><use href="#p4_3" fill="#1f00ff"/><use href="#p4_4" fill="#0900ff"/><use href="#p4_5" fill="#000eff"/><use href="#p4_6" fill="#0023ff"/><use href="#p4_7" fill="#0039ff"/><use href="#p4_8" fill="#004fff"/><use href="#p4_9" fill="#0065ff"/><use href="#p4_10" fill="#007bff"/><use href="#p4_11" fill="#0091ff"/><use href="#p4_12" fill="#00a7ff"/><use href="#p4_13" fill="#00bdff"/><use href="#p4_14" fill="#00d3ff"/><use href="#p4_15" fill="#00e1f6"/><use href="#p4_16" fill="#00e4de"/><use href="#p4_17" fill="#00e7c6"/><use href="#p4_18" fill="#00eaaf"/><use href="#p4_19" fill="#00ed97"/><use href="#p4_20" fill="#00f080"/><use href="#p4_21" fill="#00f268"/><use href="#p4_22" fill="#00f550"/><use href="#p4_23" fill="#00f839"/><use href="#p4_24" fill="#00fb21"/><use href="#p4_25" fill="#00fe09"/><use href="#p4_26" fill="#0eff00"/><use href="#p4_27" fill="#26ff00"/><use href="#p4_28" fill="#3eff00"/><use href="#p4_29" fill="#55ff00"/><use href="#p4_30" fill="#6dff00"/><use href="#p4_31" fill="#84ff00"/><use href="#p4_32" fill="#9cff00"/><use href="#p4_33" fill="#b4ff00"/><use href="#p4_34" fill="#cbff00"/><use href="#p4_35" fill="#e3ff00"/><use href="#p4_36" fill="#fbff00"/><use href="#p4_37" fill="#ffeb00"/><use href="#p4_38" fill="#ffd200"/><use href="#p4_39" fill="#ffb900"/><use href="#p4_40" fill="#ffa000"/><use href="#p4_41" fill="#ff8700"/><use href="#p4_42" fill="#ff6e00"/><use href="#p4_43" fill="#ff5500"/><use href="#p4_44" fill="#ff3c00"/><use href="#p4_45" fill="#ff2300"/><use href="#p4_46" fill="#ff0a00"/><use href="#p4_47" fill="#ff0000"/><use href="#p4_48" fill="#ff0000"/><use href="#p4_49" fill="#ff0000"/><use href="#p4_50" fill="#ff0000"/><use href="#p4_51" fill="#ff0000"/><use href="#p4_52" fill="#ff0000"/><use href="#p4_53" fill="#ff0000"/><use href="#p4_54" fill="#ff0000"/><use href="#p4_0" fill="none" stroke="#000" stroke-width="0.8"/><use href="#p4_8" fill="none" stroke="#000" stroke-width="0.8"/><use href="#p4_16" fill="none" stroke="#000" stroke-width="0.8"/><use href="#p4_24" fill="none" stroke="#000" stroke-width="0.8"/><use href="#p4_32" fill="none" stroke="#000" stroke-width="0.8"/><use href="#p4_40" fill="none" stroke="#000" stroke-width="0.8"/><use href="#p4_48" fill="none" stroke="#000" stroke-width="0.8"/>
<ellipse cx="472.7" cy="705" rx="1.1" ry="0.9" fill="#000"/><ellipse cx="405.3" cy="733.8" rx="1.1" ry="0.9" fill="#000"/><ellipse cx="435.9" cy="812" rx="1.1" ry="0.9" fill="#000"/><ellipse cx="445.7" cy="808" rx="1.1" ry="0.9" fill="#000"/><ellipse cx="439.5" cy="818.1" rx="1.1" ry="0.9" fill="#000"/><ellipse cx="452.1" cy="815.2" rx="1.1" ry="0.9" fill="#000"/><ellipse cx="426.2" cy="828.9" rx="1.1" ry="0.9" fill="#000"/>
<line x1="344.3" y1="746.50" x2="538.9" y2="746.50" stroke="#000" stroke-width="1" stroke-dasharray="1 1.15"/>
<line x1="441.50" y1="648.9" x2="441.50" y2="843.5" stroke="#000" stroke-width="1" stroke-dasharray="1 1.15"/>
<path d="M380.50,853.23 L381.65,851.88 L382.80,850.52 L383.94,849.17 L385.08,847.81 L386.20,846.46 L387.32,845.10 L388.44,843.75 L389.54,842.39 L390.64,841.04 L391.72,839.68 L392.80,838.33 L393.88,836.97 L394.94,835.62 L396.00,834.26 L397.05,832.91 L398.09,831.55 L399.12,830.20 L400.14,828.84 L401.16,827.49 L402.16,826.13 L403.16,824.78 L404.15,823.42 L405.13,822.07 L406.10,820.71 L407.07,819.36 L408.02,818.00 L408.97,816.65 L409.91,815.30 L410.83,813.94 L411.75,812.59 L412.66,811.23 L413.56,809.88 L414.45,808.52 L415.33,807.17 L416.20,805.81 L417.06,804.46 L417.91,803.10 L418.75,801.75 L419.59,800.39 L420.41,799.04 L421.22,797.68 L422.01,796.33 L422.80,794.97 L423.58,793.62 L424.35,792.26 L425.10,790.91 L425.85,789.55 L426.58,788.20 L427.30,786.84 L428.01,785.49 L428.71,784.13 L429.39,782.78 L430.06,781.43 L430.72,780.07 L431.37,778.72 L432.00,777.36 L432.62,776.01 L433.23,774.65 L433.82,773.30 L434.39,771.94 L434.95,770.59 L435.50,769.23 L436.03,767.88 L436.54,766.52 L437.04,765.17 L437.52,763.81 L437.98,762.46 L438.43,761.10 L438.85,759.75 L439.25,758.39 L439.63,757.04 L439.99,755.68 L440.32,754.33 L440.63,752.97 L440.90,751.62 L441.15,750.26 L441.35,748.91 L441.51,747.55 L441.60,746.20 L441.69,747.55 L441.85,748.91 L442.05,750.26 L442.30,751.62 L442.57,752.97 L442.88,754.33 L443.21,755.68 L443.57,757.04 L443.95,758.39 L444.35,759.75 L444.77,761.10 L445.22,762.46 L445.68,763.81 L446.16,765.17 L446.66,766.52 L447.17,767.88 L447.70,769.23 L448.25,770.59 L448.81,771.94 L449.38,773.30 L449.97,774.65 L450.58,776.01 L451.20,777.36 L451.83,778.72 L452.48,780.07 L453.14,781.43 L453.81,782.78 L454.49,784.13 L455.19,785.49 L455.90,786.84 L456.62,788.20 L457.35,789.55 L458.10,790.91 L458.85,792.26 L459.62,793.62 L460.40,794.97 L461.19,796.33 L461.98,797.68 L462.79,799.04 L463.61,800.39 L464.45,801.75 L465.29,803.10 L466.14,804.46 L467.00,805.81 L467.87,807.17 L468.75,808.52 L469.64,809.88 L470.54,811.23 L471.45,812.59 L472.37,813.94 L473.29,815.30 L474.23,816.65 L475.18,818.00 L476.13,819.36 L477.10,820.71 L478.07,822.07 L479.05,823.42 L480.04,824.78 L481.04,826.13 L482.04,827.49 L483.06,828.84 L484.08,830.20 L485.11,831.55 L486.15,832.91 L487.20,834.26 L488.26,835.62 L489.32,836.97 L490.40,838.33 L491.48,839.68 L492.56,841.04 L493.66,842.39 L494.76,843.75 L495.88,845.10 L497.00,846.46 L498.12,847.81 L499.26,849.17 L500.40,850.52 L501.55,851.88 L502.70,853.23" fill="none" stroke="#fff" stroke-width="1.45" stroke-linejoin="miter"/>
</g>
<path d="M344.30,843.5v-8M344.3,843.50h8M354.03,843.5v-4.5M344.3,833.77h4.5M363.76,843.5v-4.5M344.3,824.04h4.5M373.49,843.5v-4.5M344.3,814.31h4.5M383.22,843.5v-4.5M344.3,804.58h4.5M392.95,843.5v-8M344.3,794.85h8M402.68,843.5v-4.5M344.3,785.12h4.5M412.41,843.5v-4.5M344.3,775.39h4.5M422.14,843.5v-4.5M344.3,765.66h4.5M431.87,843.5v-4.5M344.3,755.93h4.5M441.60,843.5v-8M344.3,746.20h8M451.33,843.5v-4.5M344.3,736.47h4.5M461.06,843.5v-4.5M344.3,726.74h4.5M470.79,843.5v-4.5M344.3,717.01h4.5M480.52,843.5v-4.5M344.3,707.28h4.5M490.25,843.5v-8M344.3,697.55h8M499.98,843.5v-4.5M344.3,687.82h4.5M509.71,843.5v-4.5M344.3,678.09h4.5M519.44,843.5v-4.5M344.3,668.36h4.5M529.17,843.5v-4.5M344.3,658.63h4.5M538.90,843.5v-8M344.3,648.90h8" stroke="#000" stroke-width="1" fill="none"/>
<rect x="344.3" y="648.9" width="194.6" height="194.6" fill="none" stroke="#222" stroke-width="0.85"/>
<text x="344.30" y="856.50" text-anchor="middle" class="tl">-2</text>
<text x="340.20" y="846.70" text-anchor="end" class="tl">-2</text>
<text x="392.95" y="856.50" text-anchor="middle" class="tl">-1</text>
<text x="340.20" y="798.05" text-anchor="end" class="tl">-1</text>
<text x="441.60" y="856.50" text-anchor="middle" class="tl">0</text>
<text x="340.20" y="749.40" text-anchor="end" class="tl">0</text>
<text x="490.25" y="856.50" text-anchor="middle" class="tl">1</text>
<text x="340.20" y="700.75" text-anchor="end" class="tl">1</text>
<text x="538.90" y="856.50" text-anchor="middle" class="tl">2</text>
<text x="340.20" y="652.10" text-anchor="end" class="tl">2</text>
<text x="365.90" y="672.60" text-anchor="middle" class="pl">10%</text>
<g transform="translate(343.80,844.70)"><text x="57.48" y="37.8" class="al">R</text><text x="69.01" y="41.1" class="sub">X</text><text x="78.8" y="37.8" class="al">/</text><text x="84.0" y="39.6" class="al" style="font-size:19.5px">&lt;</text><rect x="95.5" y="25.1" width="1.2" height="12.7"/><text x="97.34" y="37.8" class="al" font-weight="bold">j</text><rect x="105.3" y="25.1" width="1.3" height="12.7"/><text x="107.89" y="27.0" class="sup">2</text><text x="113.7" y="39.6" class="al" style="font-size:20.5px">&gt;</text><text x="124.88" y="27.8" class="sup2">3/2</text></g>
<g transform="translate(307.20,778.50) rotate(-90)"><text x="-0.74" y="0" class="al">Q</text><text x="13.31" y="3.4" class="sub">X</text><text x="24.8" y="0" class="al">/</text><text x="30.0" y="1.8" class="al" style="font-size:19.5px">&lt;</text><rect x="41.2" y="-12.3" width="1.3" height="12.3"/><text x="43.34" y="0" class="al" font-weight="bold">j</text><rect x="51.2" y="-12.3" width="1.3" height="12.3"/><text x="53.4" y="-10.5" class="sup">2</text><text x="58.5" y="1.8" class="al" style="font-size:20.5px">&gt;</text></g>
<rect x="362.3" y="901.30" width="161.1" height="9.3" fill="url(#cmap)" stroke="#000" stroke-width="1"/>
<path d="M363.66,910.60v2.8M386.35,910.60v5.5M409.04,910.60v2.8M431.73,910.60v5.5M454.42,910.60v2.8M477.11,910.60v5.5M499.80,910.60v2.8M522.49,910.60v5.5" stroke="#000" stroke-width="1"/>
<text x="386.35" y="927.00" text-anchor="middle" class="cl">-2.0</text>
<text x="431.73" y="927.00" text-anchor="middle" class="cl">-1.0</text>
<text x="477.11" y="927.00" text-anchor="middle" class="cl">0.0</text>
<text x="522.49" y="927.00" text-anchor="middle" class="cl">1.0</text>
<text x="442.80" y="943.20" text-anchor="middle" class="ct">Log P(R*<tspan class="sub3" dy="4.2">X</tspan><tspan dy="-4.2">,Q*</tspan><tspan class="sub3" dy="4.2">X</tspan><tspan dy="-4.2">)</tspan></text>
</svg></body></html>
